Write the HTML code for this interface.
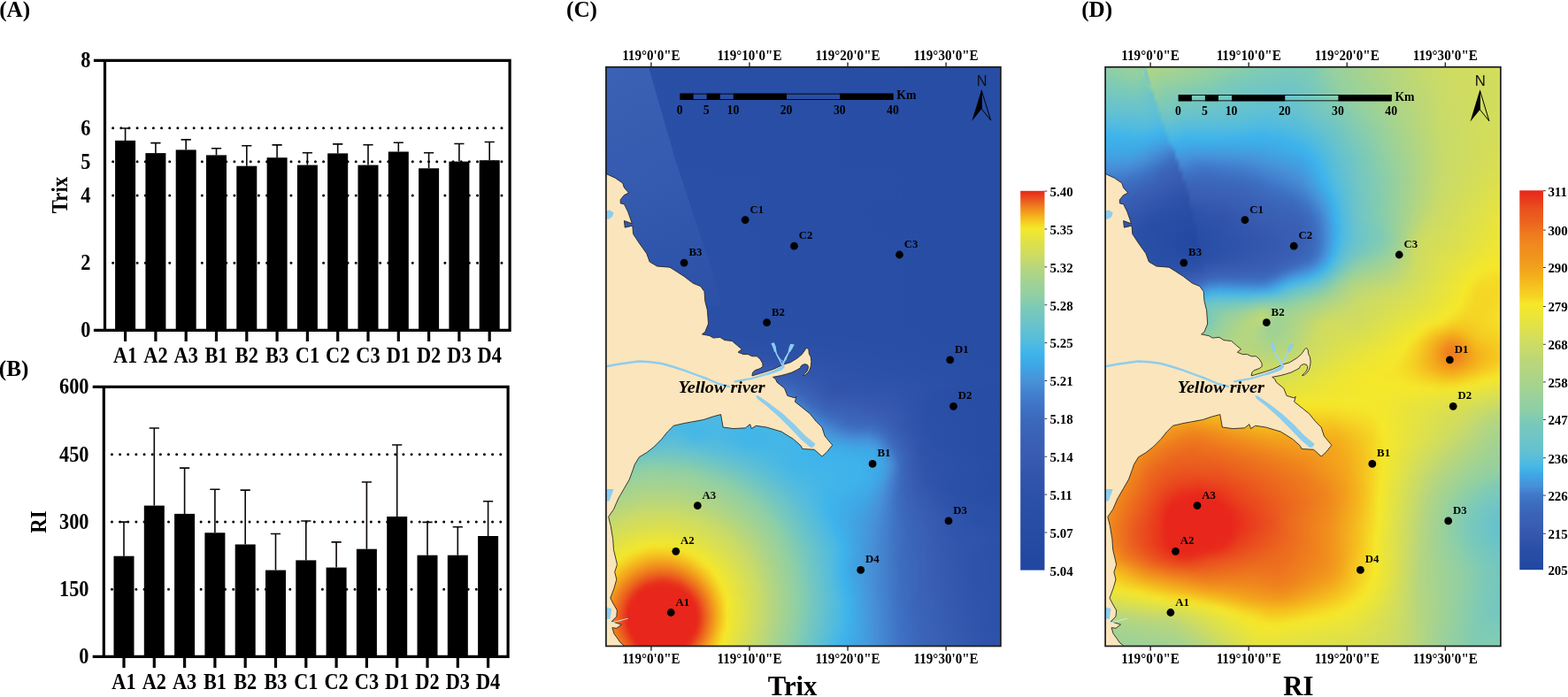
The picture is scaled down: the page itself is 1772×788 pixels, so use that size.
<!DOCTYPE html>
<html lang="en"><head><meta charset="utf-8"><title>Trix and RI</title>
<style>html,body{margin:0;padding:0;background:#fff}body{width:1772px;height:788px;overflow:hidden}svg{display:block}</style></head>
<body>
<svg width="1772" height="788" viewBox="0 0 1772 788" font-family='"Liberation Serif","DejaVu Serif",serif'>
<rect width="1772" height="788" fill="#fff"/>
<defs><linearGradient id="cbarmc" x1="0" y1="0" x2="0" y2="1"><stop offset="0.0" stop-color="#e8261b"/><stop offset="0.025" stop-color="#ea5a1f"/><stop offset="0.047" stop-color="#f08a1d"/><stop offset="0.07" stop-color="#f5b81c"/><stop offset="0.099" stop-color="#f5e82a"/><stop offset="0.14" stop-color="#dde04c"/><stop offset="0.175" stop-color="#cbdb66"/><stop offset="0.2" stop-color="#b8d67c"/><stop offset="0.245" stop-color="#9fd296"/><stop offset="0.28" stop-color="#8fcfa5"/><stop offset="0.3" stop-color="#80cbb3"/><stop offset="0.347" stop-color="#6cc4c9"/><stop offset="0.4" stop-color="#52bbdf"/><stop offset="0.43" stop-color="#3db4ec"/><stop offset="0.465" stop-color="#3fa4e4"/><stop offset="0.5" stop-color="#4892d8"/><stop offset="0.535" stop-color="#4280cf"/><stop offset="0.57" stop-color="#3e72c4"/><stop offset="0.6" stop-color="#3c69bc"/><stop offset="0.66" stop-color="#3a60b4"/><stop offset="0.7" stop-color="#385cb1"/><stop offset="0.745" stop-color="#3356ad"/><stop offset="0.8" stop-color="#2c51a8"/><stop offset="0.9" stop-color="#264ca4"/><stop offset="1.0" stop-color="#2046a0"/></linearGradient>
<linearGradient id="wg" gradientUnits="userSpaceOnUse" x1="690" y1="76" x2="770" y2="340"><stop offset="0" stop-color="#6a98dc" stop-opacity=".36"/><stop offset=".45" stop-color="#6a98dc" stop-opacity=".24"/><stop offset="1" stop-color="#6a98dc" stop-opacity=".05"/></linearGradient>
<linearGradient id="wg2" gradientUnits="userSpaceOnUse" x1="1249" y1="76" x2="1249" y2="260"><stop offset="0" stop-color="#ffffff" stop-opacity=".10"/><stop offset="1" stop-color="#ffffff" stop-opacity="0"/></linearGradient>
<linearGradient id="cbarmd" x1="0" y1="0" x2="0" y2="1"><stop offset="0" stop-color="#e8261b"/><stop offset="0.03" stop-color="#e93f1d"/><stop offset="0.05" stop-color="#ea531e"/><stop offset="0.08" stop-color="#eb611f"/><stop offset="0.1" stop-color="#ed701e"/><stop offset="0.12" stop-color="#ef7e1d"/><stop offset="0.15" stop-color="#f08c1d"/><stop offset="0.18" stop-color="#f1961d"/><stop offset="0.2" stop-color="#f2a01d"/><stop offset="0.23" stop-color="#f4b21c"/><stop offset="0.25" stop-color="#f5c11f"/><stop offset="0.28" stop-color="#f5d424"/><stop offset="0.3" stop-color="#f5e82a"/><stop offset="0.33" stop-color="#ede536"/><stop offset="0.35" stop-color="#e3e244"/><stop offset="0.38" stop-color="#d8df54"/><stop offset="0.4" stop-color="#cedc62"/><stop offset="0.43" stop-color="#c4d96e"/><stop offset="0.45" stop-color="#bad67a"/><stop offset="0.48" stop-color="#b2d582"/><stop offset="0.5" stop-color="#aad48a"/><stop offset="0.53" stop-color="#a0d295"/><stop offset="0.55" stop-color="#97d09e"/><stop offset="0.58" stop-color="#8ecfa6"/><stop offset="0.6" stop-color="#80cbb3"/><stop offset="0.62" stop-color="#77c8bc"/><stop offset="0.65" stop-color="#6fc5c6"/><stop offset="0.68" stop-color="#66c2ce"/><stop offset="0.7" stop-color="#5cbed7"/><stop offset="0.73" stop-color="#45b7e7"/><stop offset="0.75" stop-color="#3fa6e5"/><stop offset="0.78" stop-color="#478fd7"/><stop offset="0.8" stop-color="#407aca"/><stop offset="0.83" stop-color="#3c6bbe"/><stop offset="0.85" stop-color="#3b64b7"/><stop offset="0.88" stop-color="#395eb3"/><stop offset="0.9" stop-color="#3659af"/><stop offset="0.93" stop-color="#2d52a9"/><stop offset="0.95" stop-color="#284ea6"/><stop offset="0.98" stop-color="#244aa3"/><stop offset="1" stop-color="#2046a0"/></linearGradient></defs>
<text x="-0.8" y="19.2" font-size="25.2" font-weight="bold" text-anchor="start" fill="#000">(A)</text>
<text x="-1.2" y="425" font-size="25.2" font-weight="bold" text-anchor="start" fill="#000">(B)</text>
<text x="640" y="19.2" font-size="25.2" font-weight="bold" text-anchor="start" fill="#000">(C)</text>
<text x="1222.2" y="19.2" font-size="25.2" font-weight="bold" text-anchor="start" fill="#000">(D)</text>
<g stroke="#000" stroke-width="3.2" fill="none">
<line x1="127.65" y1="144.65" x2="574.1" y2="144.65" stroke-width="3" stroke-linecap="round" stroke-dasharray="0 9.152"/>
<line x1="127.65" y1="182.77" x2="574.1" y2="182.77" stroke-width="3" stroke-linecap="round" stroke-dasharray="0 9.152"/>
<line x1="127.65" y1="220.9" x2="574.1" y2="220.9" stroke-width="3" stroke-linecap="round" stroke-dasharray="0 9.152"/>
<line x1="127.65" y1="297.15" x2="574.1" y2="297.15" stroke-width="3" stroke-linecap="round" stroke-dasharray="0 9.152"/>
</g>
<g fill="#000">
<rect x="130.1" y="158.9" width="23" height="214.5"/>
<rect x="164.4" y="173.1" width="23" height="200.3"/>
<rect x="198.7" y="169.4" width="23" height="204"/>
<rect x="233" y="175.4" width="23" height="198"/>
<rect x="267.3" y="187.7" width="23" height="185.7"/>
<rect x="301.6" y="178.2" width="23" height="195.2"/>
<rect x="335.9" y="186.6" width="23" height="186.8"/>
<rect x="370.2" y="173.4" width="23" height="200"/>
<rect x="404.5" y="186.6" width="23" height="186.8"/>
<rect x="438.8" y="171.5" width="23" height="201.9"/>
<rect x="473.1" y="190.3" width="23" height="183.1"/>
<rect x="507.4" y="182.6" width="23" height="190.8"/>
<rect x="541.7" y="181.2" width="23" height="192.2"/>
</g>
<g stroke="#0d0806" stroke-width="1.6" fill="none">
<path d="M141.6 158.9V145M136 145H147.2M175.9 173.1V161.6M170.3 161.6H181.5M210.2 169.4V157.9M204.6 157.9H215.8M244.5 175.4V167.8M238.9 167.8H250.1M278.8 187.7V164.8M273.2 164.8H284.4M313.1 178.2V163.9M307.5 163.9H318.7M347.4 186.6V172.7M341.8 172.7H353M381.7 173.4V162.9M376.1 162.9H387.3M416 186.6V163.7M410.4 163.7H421.6M450.3 171.5V161.3M444.7 161.3H455.9M484.6 190.3V172.7M479 172.7H490.2M518.9 182.6V162.5M513.3 162.5H524.5M553.2 181.2V160.5M547.6 160.5H558.8"/>
</g>
<g stroke="#000" stroke-width="3.2" fill="none">
<path d="M105.9 68.4H577.7M105.9 373.4H577.7M118.5 68.4V373.4M576.1 68.4V373.4"/>
<path d="M141.6 373.4V385.9M175.9 373.4V385.9M210.2 373.4V385.9M244.5 373.4V385.9M278.8 373.4V385.9M313.1 373.4V385.9M347.4 373.4V385.9M381.7 373.4V385.9M416 373.4V385.9M450.3 373.4V385.9M484.6 373.4V385.9M518.9 373.4V385.9M553.2 373.4V385.9"/>
</g>
<g font-family='"Liberation Serif","DejaVu Serif",serif'>
<text transform="translate(102.4 76.4) scale(0.900 1)" font-size="24.8" font-weight="bold" text-anchor="end" fill="#000">8</text>
<text transform="translate(102.4 152.65) scale(0.900 1)" font-size="24.8" font-weight="bold" text-anchor="end" fill="#000">6</text>
<text transform="translate(102.4 190.77) scale(0.900 1)" font-size="24.8" font-weight="bold" text-anchor="end" fill="#000">5</text>
<text transform="translate(102.4 228.9) scale(0.900 1)" font-size="24.8" font-weight="bold" text-anchor="end" fill="#000">4</text>
<text transform="translate(102.4 305.15) scale(0.900 1)" font-size="24.8" font-weight="bold" text-anchor="end" fill="#000">2</text>
<text transform="translate(102.4 381.4) scale(0.900 1)" font-size="24.8" font-weight="bold" text-anchor="end" fill="#000">0</text>
<text transform="translate(141.6 410.2) scale(0.900 1)" font-size="24.8" font-weight="bold" text-anchor="middle" fill="#000">A1</text>
<text transform="translate(175.9 410.2) scale(0.900 1)" font-size="24.8" font-weight="bold" text-anchor="middle" fill="#000">A2</text>
<text transform="translate(210.2 410.2) scale(0.900 1)" font-size="24.8" font-weight="bold" text-anchor="middle" fill="#000">A3</text>
<text transform="translate(244.5 410.2) scale(0.900 1)" font-size="24.8" font-weight="bold" text-anchor="middle" fill="#000">B1</text>
<text transform="translate(278.8 410.2) scale(0.900 1)" font-size="24.8" font-weight="bold" text-anchor="middle" fill="#000">B2</text>
<text transform="translate(313.1 410.2) scale(0.900 1)" font-size="24.8" font-weight="bold" text-anchor="middle" fill="#000">B3</text>
<text transform="translate(347.4 410.2) scale(0.900 1)" font-size="24.8" font-weight="bold" text-anchor="middle" fill="#000">C1</text>
<text transform="translate(381.7 410.2) scale(0.900 1)" font-size="24.8" font-weight="bold" text-anchor="middle" fill="#000">C2</text>
<text transform="translate(416 410.2) scale(0.900 1)" font-size="24.8" font-weight="bold" text-anchor="middle" fill="#000">C3</text>
<text transform="translate(450.3 410.2) scale(0.900 1)" font-size="24.8" font-weight="bold" text-anchor="middle" fill="#000">D1</text>
<text transform="translate(484.6 410.2) scale(0.900 1)" font-size="24.8" font-weight="bold" text-anchor="middle" fill="#000">D2</text>
<text transform="translate(518.9 410.2) scale(0.900 1)" font-size="24.8" font-weight="bold" text-anchor="middle" fill="#000">D3</text>
<text transform="translate(553.2 410.2) scale(0.900 1)" font-size="24.8" font-weight="bold" text-anchor="middle" fill="#000">D4</text>
<text transform="translate(75.5 220.5) rotate(-90) scale(0.920 1)" font-size="24.8" font-weight="bold" text-anchor="middle">Trix</text>
</g>
<g stroke="#000" stroke-width="3.2" fill="none">
<line x1="126.45" y1="513.65" x2="572.1" y2="513.65" stroke-width="3" stroke-linecap="round" stroke-dasharray="0 9.152"/>
<line x1="126.45" y1="589.9" x2="572.1" y2="589.9" stroke-width="3" stroke-linecap="round" stroke-dasharray="0 9.152"/>
<line x1="126.45" y1="666.15" x2="572.1" y2="666.15" stroke-width="3" stroke-linecap="round" stroke-dasharray="0 9.152"/>
</g>
<g fill="#000">
<rect x="128.5" y="628.7" width="23" height="113.7"/>
<rect x="162.8" y="571.6" width="23" height="170.8"/>
<rect x="197.1" y="580.9" width="23" height="161.5"/>
<rect x="231.4" y="602.3" width="23" height="140.1"/>
<rect x="265.7" y="615.5" width="23" height="126.9"/>
<rect x="300" y="644.6" width="23" height="97.8"/>
<rect x="334.3" y="633.4" width="23" height="109"/>
<rect x="368.6" y="641.6" width="23" height="100.8"/>
<rect x="402.9" y="620.7" width="23" height="121.7"/>
<rect x="437.2" y="584" width="23" height="158.4"/>
<rect x="471.5" y="627.7" width="23" height="114.7"/>
<rect x="505.8" y="627.7" width="23" height="114.7"/>
<rect x="540.1" y="606" width="23" height="136.4"/>
</g>
<g stroke="#0d0806" stroke-width="1.6" fill="none">
<path d="M140 628.7V590.1M134.4 590.1H145.6M174.3 571.6V484M168.7 484H179.9M208.6 580.9V529.1M203 529.1H214.2M242.9 602.3V553.3M237.3 553.3H248.5M277.2 615.5V554.1M271.6 554.1H282.8M311.5 644.6V603.5M305.9 603.5H317.1M345.8 633.4V589M340.2 589H351.4M380.1 641.6V612.9M374.5 612.9H385.7M414.4 620.7V545M408.8 545H420M448.7 584V503M443.1 503H454.3M483 627.7V590.4M477.4 590.4H488.6M517.3 627.7V595.8M511.7 595.8H522.9M551.6 606V566.7M546 566.7H557.2"/>
</g>
<g stroke="#000" stroke-width="3.2" fill="none">
<path d="M104.7 437.4H575.7M104.7 742.4H575.7M117.3 437.4V742.4M574.1 437.4V742.4"/>
<path d="M140 742.4V754.9M174.3 742.4V754.9M208.6 742.4V754.9M242.9 742.4V754.9M277.2 742.4V754.9M311.5 742.4V754.9M345.8 742.4V754.9M380.1 742.4V754.9M414.4 742.4V754.9M448.7 742.4V754.9M483 742.4V754.9M517.3 742.4V754.9M551.6 742.4V754.9"/>
</g>
<g font-family='"Liberation Serif","DejaVu Serif",serif'>
<text transform="translate(100.5 445.4) scale(0.900 1)" font-size="24.8" font-weight="bold" text-anchor="end" fill="#000">600</text>
<text transform="translate(100.5 521.65) scale(0.900 1)" font-size="24.8" font-weight="bold" text-anchor="end" fill="#000">450</text>
<text transform="translate(100.5 597.9) scale(0.900 1)" font-size="24.8" font-weight="bold" text-anchor="end" fill="#000">300</text>
<text transform="translate(100.5 674.15) scale(0.900 1)" font-size="24.8" font-weight="bold" text-anchor="end" fill="#000">150</text>
<text transform="translate(100.5 750.4) scale(0.900 1)" font-size="24.8" font-weight="bold" text-anchor="end" fill="#000">0</text>
<text transform="translate(140 779) scale(0.900 1)" font-size="24.8" font-weight="bold" text-anchor="middle" fill="#000">A1</text>
<text transform="translate(174.3 779) scale(0.900 1)" font-size="24.8" font-weight="bold" text-anchor="middle" fill="#000">A2</text>
<text transform="translate(208.6 779) scale(0.900 1)" font-size="24.8" font-weight="bold" text-anchor="middle" fill="#000">A3</text>
<text transform="translate(242.9 779) scale(0.900 1)" font-size="24.8" font-weight="bold" text-anchor="middle" fill="#000">B1</text>
<text transform="translate(277.2 779) scale(0.900 1)" font-size="24.8" font-weight="bold" text-anchor="middle" fill="#000">B2</text>
<text transform="translate(311.5 779) scale(0.900 1)" font-size="24.8" font-weight="bold" text-anchor="middle" fill="#000">B3</text>
<text transform="translate(345.8 779) scale(0.900 1)" font-size="24.8" font-weight="bold" text-anchor="middle" fill="#000">C1</text>
<text transform="translate(380.1 779) scale(0.900 1)" font-size="24.8" font-weight="bold" text-anchor="middle" fill="#000">C2</text>
<text transform="translate(414.4 779) scale(0.900 1)" font-size="24.8" font-weight="bold" text-anchor="middle" fill="#000">C3</text>
<text transform="translate(448.7 779) scale(0.900 1)" font-size="24.8" font-weight="bold" text-anchor="middle" fill="#000">D1</text>
<text transform="translate(483 779) scale(0.900 1)" font-size="24.8" font-weight="bold" text-anchor="middle" fill="#000">D2</text>
<text transform="translate(517.3 779) scale(0.900 1)" font-size="24.8" font-weight="bold" text-anchor="middle" fill="#000">D3</text>
<text transform="translate(551.6 779) scale(0.900 1)" font-size="24.8" font-weight="bold" text-anchor="middle" fill="#000">D4</text>
<text transform="translate(52 590) rotate(-90) scale(0.920 1)" font-size="24.8" font-weight="bold" text-anchor="middle">RI</text>
</g>
<defs>
<clipPath id="clipmc"><rect x="684.9" y="75.8" width="446" height="654.7"/></clipPath>
<filter id="blmc" x="-5%" y="-5%" width="110%" height="110%" color-interpolation-filters="sRGB"><feGaussianBlur stdDeviation="0 3"/></filter>
<linearGradient id="mc0"><stop offset="0" stop-color="#2a4fa6"/><stop offset="1" stop-color="#274da5"/></linearGradient>
<linearGradient id="mc1"><stop offset="0" stop-color="#2a4fa6"/><stop offset="1" stop-color="#274da5"/></linearGradient>
<linearGradient id="mc2"><stop offset="0" stop-color="#2a4fa6"/><stop offset="1" stop-color="#274da5"/></linearGradient>
<linearGradient id="mc3"><stop offset="0" stop-color="#2a4fa6"/><stop offset="1" stop-color="#274da5"/></linearGradient>
<linearGradient id="mc4"><stop offset="0" stop-color="#2a4fa6"/><stop offset="1" stop-color="#274da5"/></linearGradient>
<linearGradient id="mc5"><stop offset="0" stop-color="#2a4fa6"/><stop offset="1" stop-color="#274da5"/></linearGradient>
<linearGradient id="mc6"><stop offset="0" stop-color="#2a4fa6"/><stop offset="1" stop-color="#274da5"/></linearGradient>
<linearGradient id="mc7"><stop offset="0" stop-color="#2a4fa6"/><stop offset="1" stop-color="#274da5"/></linearGradient>
<linearGradient id="mc8"><stop offset="0" stop-color="#2a4fa6"/><stop offset="1" stop-color="#274da5"/></linearGradient>
<linearGradient id="mc9"><stop offset="0" stop-color="#2a4fa6"/><stop offset="1" stop-color="#274da5"/></linearGradient>
<linearGradient id="mc10"><stop offset="0" stop-color="#2a4fa6"/><stop offset="1" stop-color="#274da5"/></linearGradient>
<linearGradient id="mc11"><stop offset="0" stop-color="#2a4fa6"/><stop offset="1" stop-color="#274da5"/></linearGradient>
<linearGradient id="mc12"><stop offset="0" stop-color="#2a4fa6"/><stop offset="1" stop-color="#274da5"/></linearGradient>
<linearGradient id="mc13"><stop offset="0" stop-color="#2a4fa6"/><stop offset="1" stop-color="#274da5"/></linearGradient>
<linearGradient id="mc14"><stop offset="0" stop-color="#2a4fa6"/><stop offset="1" stop-color="#274da5"/></linearGradient>
<linearGradient id="mc15"><stop offset="0" stop-color="#2a4fa6"/><stop offset="1" stop-color="#274da5"/></linearGradient>
<linearGradient id="mc16"><stop offset="0" stop-color="#2a4fa6"/><stop offset="1" stop-color="#274da5"/></linearGradient>
<linearGradient id="mc17"><stop offset="0" stop-color="#2a4fa7"/><stop offset="1" stop-color="#274da5"/></linearGradient>
<linearGradient id="mc18"><stop offset="0" stop-color="#2a4fa7"/><stop offset="1" stop-color="#274da5"/></linearGradient>
<linearGradient id="mc19"><stop offset="0" stop-color="#2a4fa7"/><stop offset="1" stop-color="#274da5"/></linearGradient>
<linearGradient id="mc20"><stop offset="0" stop-color="#2a4fa7"/><stop offset="1" stop-color="#274da5"/></linearGradient>
<linearGradient id="mc21"><stop offset="0" stop-color="#2a4fa7"/><stop offset="1" stop-color="#274da5"/></linearGradient>
<linearGradient id="mc22"><stop offset="0" stop-color="#2a4fa7"/><stop offset="1" stop-color="#274da5"/></linearGradient>
<linearGradient id="mc23"><stop offset="0" stop-color="#2a50a7"/><stop offset="1" stop-color="#274da5"/></linearGradient>
<linearGradient id="mc24"><stop offset="0" stop-color="#2a50a7"/><stop offset="1" stop-color="#274da5"/></linearGradient>
<linearGradient id="mc25"><stop offset="0" stop-color="#2a50a7"/><stop offset="0.992" stop-color="#274da5"/><stop offset="1" stop-color="#274da5"/></linearGradient>
<linearGradient id="mc26"><stop offset="0" stop-color="#2b50a7"/><stop offset="0.95" stop-color="#274da5"/><stop offset="1" stop-color="#274da5"/></linearGradient>
<linearGradient id="mc27"><stop offset="0" stop-color="#2b50a7"/><stop offset="0.924" stop-color="#274da5"/><stop offset="1" stop-color="#274da5"/></linearGradient>
<linearGradient id="mc28"><stop offset="0" stop-color="#2b50a7"/><stop offset="0.908" stop-color="#274da5"/><stop offset="1" stop-color="#274da5"/></linearGradient>
<linearGradient id="mc29"><stop offset="0" stop-color="#2b50a7"/><stop offset="0.899" stop-color="#274da4"/><stop offset="1" stop-color="#274da5"/></linearGradient>
<linearGradient id="mc30"><stop offset="0" stop-color="#2b50a7"/><stop offset="0.899" stop-color="#274da4"/><stop offset="1" stop-color="#274da5"/></linearGradient>
<linearGradient id="mc31"><stop offset="0" stop-color="#2b50a7"/><stop offset="0.899" stop-color="#274da4"/><stop offset="1" stop-color="#274da5"/></linearGradient>
<linearGradient id="mc32"><stop offset="0" stop-color="#2b50a7"/><stop offset="0.908" stop-color="#274da5"/><stop offset="1" stop-color="#274da5"/></linearGradient>
<linearGradient id="mc33"><stop offset="0" stop-color="#2b50a7"/><stop offset="0.916" stop-color="#274da5"/><stop offset="1" stop-color="#274da5"/></linearGradient>
<linearGradient id="mc34"><stop offset="0" stop-color="#2b50a7"/><stop offset="0.941" stop-color="#274da5"/><stop offset="1" stop-color="#274da5"/></linearGradient>
<linearGradient id="mc35"><stop offset="0" stop-color="#2b50a7"/><stop offset="0.975" stop-color="#274da5"/><stop offset="1" stop-color="#274da5"/></linearGradient>
<linearGradient id="mc36"><stop offset="0" stop-color="#2b50a7"/><stop offset="1" stop-color="#274da5"/></linearGradient>
<linearGradient id="mc37"><stop offset="0" stop-color="#2b50a7"/><stop offset="1" stop-color="#274da5"/></linearGradient>
<linearGradient id="mc38"><stop offset="0" stop-color="#2b50a7"/><stop offset="1" stop-color="#274da5"/></linearGradient>
<linearGradient id="mc39"><stop offset="0" stop-color="#2b50a7"/><stop offset="1" stop-color="#274da5"/></linearGradient>
<linearGradient id="mc40"><stop offset="0" stop-color="#2b50a7"/><stop offset="1" stop-color="#274da5"/></linearGradient>
<linearGradient id="mc41"><stop offset="0" stop-color="#2b50a7"/><stop offset="1" stop-color="#274da5"/></linearGradient>
<linearGradient id="mc42"><stop offset="0" stop-color="#2b50a7"/><stop offset="1" stop-color="#274da5"/></linearGradient>
<linearGradient id="mc43"><stop offset="0" stop-color="#2b50a7"/><stop offset="1" stop-color="#274da5"/></linearGradient>
<linearGradient id="mc44"><stop offset="0" stop-color="#2b50a7"/><stop offset="1" stop-color="#274da5"/></linearGradient>
<linearGradient id="mc45"><stop offset="0" stop-color="#2b50a7"/><stop offset="1" stop-color="#274da5"/></linearGradient>
<linearGradient id="mc46"><stop offset="0" stop-color="#2b50a7"/><stop offset="1" stop-color="#274da5"/></linearGradient>
<linearGradient id="mc47"><stop offset="0" stop-color="#2b50a7"/><stop offset="1" stop-color="#274da5"/></linearGradient>
<linearGradient id="mc48"><stop offset="0" stop-color="#2b50a7"/><stop offset="1" stop-color="#274da5"/></linearGradient>
<linearGradient id="mc49"><stop offset="0" stop-color="#2b50a7"/><stop offset="1" stop-color="#274da5"/></linearGradient>
<linearGradient id="mc50"><stop offset="0" stop-color="#2b50a7"/><stop offset="1" stop-color="#274da5"/></linearGradient>
<linearGradient id="mc51"><stop offset="0" stop-color="#2b50a7"/><stop offset="1" stop-color="#274da5"/></linearGradient>
<linearGradient id="mc52"><stop offset="0" stop-color="#2b50a7"/><stop offset="1" stop-color="#274da5"/></linearGradient>
<linearGradient id="mc53"><stop offset="0" stop-color="#2b51a8"/><stop offset="1" stop-color="#274da5"/></linearGradient>
<linearGradient id="mc54"><stop offset="0" stop-color="#2c51a8"/><stop offset="1" stop-color="#274da5"/></linearGradient>
<linearGradient id="mc55"><stop offset="0" stop-color="#2d52a9"/><stop offset="0.109" stop-color="#2d51a8"/><stop offset="0.218" stop-color="#2e52a9"/><stop offset="1" stop-color="#274da5"/></linearGradient>
<linearGradient id="mc56"><stop offset="0" stop-color="#3054ab"/><stop offset="0.084" stop-color="#2d52a9"/><stop offset="0.193" stop-color="#3155ac"/><stop offset="0.294" stop-color="#2d52a9"/><stop offset="0.395" stop-color="#2d51a8"/><stop offset="1" stop-color="#274da5"/></linearGradient>
<linearGradient id="mc57"><stop offset="0" stop-color="#3356ad"/><stop offset="0.092" stop-color="#3255ac"/><stop offset="0.21" stop-color="#3457ae"/><stop offset="0.294" stop-color="#3054ab"/><stop offset="0.395" stop-color="#3054ab"/><stop offset="0.487" stop-color="#2d51a8"/><stop offset="1" stop-color="#274da5"/></linearGradient>
<linearGradient id="mc58"><stop offset="0" stop-color="#375bb0"/><stop offset="0.109" stop-color="#375bb0"/><stop offset="0.235" stop-color="#365ab0"/><stop offset="0.403" stop-color="#3356ad"/><stop offset="0.639" stop-color="#2c51a8"/><stop offset="1" stop-color="#274da5"/></linearGradient>
<linearGradient id="mc59"><stop offset="0" stop-color="#3a5fb3"/><stop offset="0.395" stop-color="#385cb1"/><stop offset="0.588" stop-color="#2c51a8"/><stop offset="1" stop-color="#274da5"/></linearGradient>
<linearGradient id="mc60"><stop offset="0" stop-color="#3b65b8"/><stop offset="0.387" stop-color="#3a61b5"/><stop offset="0.521" stop-color="#3155ac"/><stop offset="0.63" stop-color="#2d52a9"/><stop offset="1" stop-color="#274da5"/></linearGradient>
<linearGradient id="mc61"><stop offset="0" stop-color="#3d6dbf"/><stop offset="0.076" stop-color="#3e71c3"/><stop offset="0.176" stop-color="#3c6abd"/><stop offset="0.319" stop-color="#3c6bbe"/><stop offset="0.462" stop-color="#395fb3"/><stop offset="0.571" stop-color="#2f53aa"/><stop offset="0.731" stop-color="#2c51a8"/><stop offset="1" stop-color="#274da5"/></linearGradient>
<linearGradient id="mc62"><stop offset="0" stop-color="#407aca"/><stop offset="0.034" stop-color="#417ccc"/><stop offset="0.067" stop-color="#4384d1"/><stop offset="0.143" stop-color="#3f75c7"/><stop offset="0.218" stop-color="#4078c9"/><stop offset="0.286" stop-color="#417dcd"/><stop offset="0.42" stop-color="#3c6bbe"/><stop offset="0.521" stop-color="#3659af"/><stop offset="0.58" stop-color="#3054ab"/><stop offset="0.714" stop-color="#2e53aa"/><stop offset="0.958" stop-color="#274da5"/><stop offset="1" stop-color="#274da5"/></linearGradient>
<linearGradient id="mc63"><stop offset="0" stop-color="#4487d3"/><stop offset="0.025" stop-color="#4487d3"/><stop offset="0.059" stop-color="#4696da"/><stop offset="0.084" stop-color="#4892d8"/><stop offset="0.134" stop-color="#4383d0"/><stop offset="0.185" stop-color="#4382d0"/><stop offset="0.269" stop-color="#4794d9"/><stop offset="0.319" stop-color="#468cd5"/><stop offset="0.412" stop-color="#417ccc"/><stop offset="0.496" stop-color="#3a62b5"/><stop offset="0.563" stop-color="#3255ac"/><stop offset="0.706" stop-color="#3054ab"/><stop offset="0.874" stop-color="#284da5"/><stop offset="1" stop-color="#274da4"/></linearGradient>
<linearGradient id="mc64"><stop offset="0" stop-color="#4893d8"/><stop offset="0.025" stop-color="#4893d8"/><stop offset="0.059" stop-color="#41a0e1"/><stop offset="0.084" stop-color="#429ee0"/><stop offset="0.134" stop-color="#4790d7"/><stop offset="0.185" stop-color="#4790d7"/><stop offset="0.269" stop-color="#3fa8e6"/><stop offset="0.303" stop-color="#40a2e3"/><stop offset="0.361" stop-color="#4697db"/><stop offset="0.412" stop-color="#478fd6"/><stop offset="0.462" stop-color="#4077c8"/><stop offset="0.496" stop-color="#3c67ba"/><stop offset="0.555" stop-color="#3558af"/><stop offset="0.697" stop-color="#3356ad"/><stop offset="0.815" stop-color="#294fa6"/><stop offset="1" stop-color="#274ca4"/></linearGradient>
<linearGradient id="mc65"><stop offset="0" stop-color="#449bde"/><stop offset="0.025" stop-color="#449bde"/><stop offset="0.059" stop-color="#3fa6e5"/><stop offset="0.092" stop-color="#3fa3e4"/><stop offset="0.143" stop-color="#449add"/><stop offset="0.193" stop-color="#429ee0"/><stop offset="0.261" stop-color="#3db4ec"/><stop offset="0.277" stop-color="#40b5ea"/><stop offset="0.303" stop-color="#3eafea"/><stop offset="0.353" stop-color="#3fa5e5"/><stop offset="0.403" stop-color="#40a2e3"/><stop offset="0.445" stop-color="#4892d8"/><stop offset="0.479" stop-color="#417ccc"/><stop offset="0.513" stop-color="#3b67ba"/><stop offset="0.555" stop-color="#385cb1"/><stop offset="0.697" stop-color="#3457ae"/><stop offset="0.807" stop-color="#2a4fa6"/><stop offset="1" stop-color="#264ca4"/></linearGradient>
<linearGradient id="mc66"><stop offset="0" stop-color="#41a0e2"/><stop offset="0.034" stop-color="#40a3e3"/><stop offset="0.067" stop-color="#3eaae7"/><stop offset="0.151" stop-color="#40a2e3"/><stop offset="0.218" stop-color="#3eaee9"/><stop offset="0.235" stop-color="#3db4ec"/><stop offset="0.269" stop-color="#4cb9e3"/><stop offset="0.294" stop-color="#46b7e6"/><stop offset="0.319" stop-color="#3db3eb"/><stop offset="0.37" stop-color="#3eaee9"/><stop offset="0.403" stop-color="#3eafe9"/><stop offset="0.454" stop-color="#429ee0"/><stop offset="0.479" stop-color="#478ed6"/><stop offset="0.521" stop-color="#3c6abd"/><stop offset="0.563" stop-color="#3a5fb4"/><stop offset="0.697" stop-color="#3659af"/><stop offset="0.798" stop-color="#2a4fa7"/><stop offset="1" stop-color="#264ca4"/></linearGradient>
<linearGradient id="mc67"><stop offset="0" stop-color="#3fa4e4"/><stop offset="0.034" stop-color="#3fa6e5"/><stop offset="0.076" stop-color="#3eace8"/><stop offset="0.151" stop-color="#3ea9e6"/><stop offset="0.218" stop-color="#3eb4ec"/><stop offset="0.269" stop-color="#4fbae1"/><stop offset="0.303" stop-color="#48b8e5"/><stop offset="0.345" stop-color="#3eb4ec"/><stop offset="0.403" stop-color="#3fb5eb"/><stop offset="0.462" stop-color="#3fa8e6"/><stop offset="0.487" stop-color="#4599dd"/><stop offset="0.496" stop-color="#4790d7"/><stop offset="0.521" stop-color="#3f76c7"/><stop offset="0.546" stop-color="#3c68bb"/><stop offset="0.63" stop-color="#3a5fb4"/><stop offset="0.706" stop-color="#365ab0"/><stop offset="0.79" stop-color="#2b50a7"/><stop offset="1" stop-color="#264ca4"/></linearGradient>
<linearGradient id="mc68"><stop offset="0" stop-color="#3fa7e5"/><stop offset="0.034" stop-color="#3ea8e6"/><stop offset="0.076" stop-color="#3eaee9"/><stop offset="0.143" stop-color="#3eace8"/><stop offset="0.193" stop-color="#3eb4eb"/><stop offset="0.269" stop-color="#4fbae1"/><stop offset="0.353" stop-color="#42b6e9"/><stop offset="0.42" stop-color="#42b6e9"/><stop offset="0.454" stop-color="#3db3eb"/><stop offset="0.479" stop-color="#3eabe8"/><stop offset="0.496" stop-color="#429fe1"/><stop offset="0.513" stop-color="#468dd6"/><stop offset="0.538" stop-color="#3f77c8"/><stop offset="0.571" stop-color="#3c69bc"/><stop offset="0.639" stop-color="#3b63b7"/><stop offset="0.706" stop-color="#385cb1"/><stop offset="0.782" stop-color="#2b50a7"/><stop offset="0.983" stop-color="#264ca4"/><stop offset="1" stop-color="#264ca4"/></linearGradient>
<linearGradient id="mc69"><stop offset="0" stop-color="#3ea9e6"/><stop offset="0.042" stop-color="#3eace8"/><stop offset="0.092" stop-color="#3eafea"/><stop offset="0.143" stop-color="#3db0ea"/><stop offset="0.168" stop-color="#3fb5eb"/><stop offset="0.202" stop-color="#46b7e6"/><stop offset="0.252" stop-color="#4ab8e4"/><stop offset="0.294" stop-color="#4bb9e3"/><stop offset="0.361" stop-color="#43b6e8"/><stop offset="0.437" stop-color="#44b6e7"/><stop offset="0.479" stop-color="#3db1eb"/><stop offset="0.504" stop-color="#40a2e2"/><stop offset="0.521" stop-color="#4893d9"/><stop offset="0.555" stop-color="#417bcb"/><stop offset="0.605" stop-color="#3c68bb"/><stop offset="0.672" stop-color="#3b65b9"/><stop offset="0.731" stop-color="#3558ae"/><stop offset="0.79" stop-color="#2b50a7"/><stop offset="0.992" stop-color="#264ca4"/><stop offset="1" stop-color="#264ca4"/></linearGradient>
<linearGradient id="mc70"><stop offset="0" stop-color="#3eabe7"/><stop offset="0.042" stop-color="#3eaee9"/><stop offset="0.092" stop-color="#3db2eb"/><stop offset="0.143" stop-color="#3db4ec"/><stop offset="0.193" stop-color="#4cb9e3"/><stop offset="0.244" stop-color="#45b7e7"/><stop offset="0.294" stop-color="#4ab8e4"/><stop offset="0.37" stop-color="#42b6e9"/><stop offset="0.445" stop-color="#46b7e7"/><stop offset="0.487" stop-color="#3db2eb"/><stop offset="0.521" stop-color="#429ee0"/><stop offset="0.538" stop-color="#4893d9"/><stop offset="0.597" stop-color="#3f74c6"/><stop offset="0.622" stop-color="#3d6fc1"/><stop offset="0.664" stop-color="#3d6dc0"/><stop offset="0.739" stop-color="#3457ae"/><stop offset="0.798" stop-color="#2b50a7"/><stop offset="0.992" stop-color="#264ca4"/><stop offset="1" stop-color="#264ca4"/></linearGradient>
<linearGradient id="mc71"><stop offset="0" stop-color="#3eaee9"/><stop offset="0.042" stop-color="#3db1eb"/><stop offset="0.101" stop-color="#3fb5eb"/><stop offset="0.134" stop-color="#40b5ea"/><stop offset="0.185" stop-color="#51bbe0"/><stop offset="0.21" stop-color="#4ebae2"/><stop offset="0.244" stop-color="#43b6e8"/><stop offset="0.294" stop-color="#4bb9e4"/><stop offset="0.37" stop-color="#41b5e9"/><stop offset="0.445" stop-color="#46b7e6"/><stop offset="0.496" stop-color="#3db2eb"/><stop offset="0.538" stop-color="#429ee0"/><stop offset="0.563" stop-color="#4892d8"/><stop offset="0.613" stop-color="#417ecd"/><stop offset="0.655" stop-color="#417ccc"/><stop offset="0.681" stop-color="#3e70c2"/><stop offset="0.714" stop-color="#3a60b4"/><stop offset="0.782" stop-color="#2c51a8"/><stop offset="0.975" stop-color="#264ca4"/><stop offset="1" stop-color="#264ca4"/></linearGradient>
<linearGradient id="mc72"><stop offset="0" stop-color="#3db2eb"/><stop offset="0.042" stop-color="#3fb5eb"/><stop offset="0.084" stop-color="#49b8e5"/><stop offset="0.134" stop-color="#4ab8e4"/><stop offset="0.176" stop-color="#57bddb"/><stop offset="0.21" stop-color="#54bcdd"/><stop offset="0.244" stop-color="#49b8e5"/><stop offset="0.294" stop-color="#4db9e2"/><stop offset="0.37" stop-color="#41b5e9"/><stop offset="0.454" stop-color="#45b7e7"/><stop offset="0.504" stop-color="#3db2eb"/><stop offset="0.563" stop-color="#429ee0"/><stop offset="0.605" stop-color="#4891d7"/><stop offset="0.655" stop-color="#468dd5"/><stop offset="0.672" stop-color="#4384d1"/><stop offset="0.706" stop-color="#3c68bb"/><stop offset="0.756" stop-color="#3356ad"/><stop offset="0.807" stop-color="#2b50a7"/><stop offset="1" stop-color="#264ca4"/></linearGradient>
<linearGradient id="mc73"><stop offset="0" stop-color="#42b6e9"/><stop offset="0.025" stop-color="#42b6e9"/><stop offset="0.076" stop-color="#53bbde"/><stop offset="0.143" stop-color="#59bdd9"/><stop offset="0.185" stop-color="#5fbfd4"/><stop offset="0.261" stop-color="#53bbde"/><stop offset="0.311" stop-color="#50bae0"/><stop offset="0.361" stop-color="#43b6e8"/><stop offset="0.462" stop-color="#44b6e8"/><stop offset="0.521" stop-color="#3db1eb"/><stop offset="0.622" stop-color="#429de0"/><stop offset="0.655" stop-color="#439cdf"/><stop offset="0.672" stop-color="#4794d9"/><stop offset="0.697" stop-color="#4078c9"/><stop offset="0.714" stop-color="#3c68bb"/><stop offset="0.756" stop-color="#3558ae"/><stop offset="0.807" stop-color="#2b50a7"/><stop offset="1" stop-color="#264ca4"/></linearGradient>
<linearGradient id="mc74"><stop offset="0" stop-color="#4ebae2"/><stop offset="0.025" stop-color="#4ebae2"/><stop offset="0.076" stop-color="#5cbfd6"/><stop offset="0.185" stop-color="#68c3cc"/><stop offset="0.328" stop-color="#53bbde"/><stop offset="0.37" stop-color="#48b8e5"/><stop offset="0.513" stop-color="#3fb5eb"/><stop offset="0.622" stop-color="#3ea8e6"/><stop offset="0.664" stop-color="#3fa6e5"/><stop offset="0.681" stop-color="#4499dd"/><stop offset="0.689" stop-color="#478fd7"/><stop offset="0.714" stop-color="#3d6fc1"/><stop offset="0.731" stop-color="#3b63b7"/><stop offset="0.773" stop-color="#3154ab"/><stop offset="0.824" stop-color="#2b50a7"/><stop offset="1" stop-color="#264ca4"/></linearGradient>
<linearGradient id="mc75"><stop offset="0" stop-color="#5abed8"/><stop offset="0.034" stop-color="#5cbed7"/><stop offset="0.101" stop-color="#6cc4c9"/><stop offset="0.176" stop-color="#72c6c3"/><stop offset="0.252" stop-color="#68c3cc"/><stop offset="0.361" stop-color="#51bbdf"/><stop offset="0.487" stop-color="#42b6e9"/><stop offset="0.563" stop-color="#3db2eb"/><stop offset="0.664" stop-color="#3eabe7"/><stop offset="0.681" stop-color="#40a2e3"/><stop offset="0.697" stop-color="#4790d7"/><stop offset="0.723" stop-color="#3d6dbf"/><stop offset="0.748" stop-color="#395eb2"/><stop offset="0.782" stop-color="#2f53aa"/><stop offset="0.95" stop-color="#264ca4"/><stop offset="1" stop-color="#264ca4"/></linearGradient>
<linearGradient id="mc76"><stop offset="0" stop-color="#66c2ce"/><stop offset="0.034" stop-color="#68c3cc"/><stop offset="0.126" stop-color="#7ac9b9"/><stop offset="0.21" stop-color="#79c9ba"/><stop offset="0.328" stop-color="#62c1d2"/><stop offset="0.445" stop-color="#46b7e6"/><stop offset="0.496" stop-color="#41b5e9"/><stop offset="0.63" stop-color="#3db1eb"/><stop offset="0.681" stop-color="#3fa7e6"/><stop offset="0.689" stop-color="#40a2e3"/><stop offset="0.706" stop-color="#468dd5"/><stop offset="0.723" stop-color="#3e72c4"/><stop offset="0.731" stop-color="#3c68bb"/><stop offset="0.765" stop-color="#3457ad"/><stop offset="0.815" stop-color="#2c51a8"/><stop offset="1" stop-color="#264ca4"/></linearGradient>
<linearGradient id="mc77"><stop offset="0" stop-color="#71c6c3"/><stop offset="0.034" stop-color="#73c7c1"/><stop offset="0.143" stop-color="#89cdab"/><stop offset="0.227" stop-color="#82cbb1"/><stop offset="0.353" stop-color="#63c1d0"/><stop offset="0.471" stop-color="#43b6e9"/><stop offset="0.63" stop-color="#3db3eb"/><stop offset="0.689" stop-color="#3fa5e4"/><stop offset="0.697" stop-color="#439ddf"/><stop offset="0.706" stop-color="#4891d7"/><stop offset="0.731" stop-color="#3c6abc"/><stop offset="0.756" stop-color="#375bb0"/><stop offset="0.79" stop-color="#2e53aa"/><stop offset="1" stop-color="#264ca4"/></linearGradient>
<linearGradient id="mc78"><stop offset="0" stop-color="#7bc9b8"/><stop offset="0.034" stop-color="#7dcab6"/><stop offset="0.126" stop-color="#92d0a2"/><stop offset="0.227" stop-color="#8fcfa5"/><stop offset="0.294" stop-color="#7bc9b8"/><stop offset="0.429" stop-color="#54bcdd"/><stop offset="0.471" stop-color="#45b7e7"/><stop offset="0.63" stop-color="#3db3ec"/><stop offset="0.681" stop-color="#3fa7e6"/><stop offset="0.697" stop-color="#449ade"/><stop offset="0.706" stop-color="#478fd6"/><stop offset="0.731" stop-color="#3c69bc"/><stop offset="0.756" stop-color="#385cb1"/><stop offset="0.79" stop-color="#2f53aa"/><stop offset="0.992" stop-color="#264ca4"/><stop offset="1" stop-color="#264ca4"/></linearGradient>
<linearGradient id="mc79"><stop offset="0" stop-color="#87cdad"/><stop offset="0.025" stop-color="#87cdad"/><stop offset="0.059" stop-color="#91cfa3"/><stop offset="0.151" stop-color="#9ad19a"/><stop offset="0.244" stop-color="#94d0a1"/><stop offset="0.336" stop-color="#79c8bb"/><stop offset="0.462" stop-color="#4db9e2"/><stop offset="0.521" stop-color="#44b6e8"/><stop offset="0.639" stop-color="#3db2eb"/><stop offset="0.681" stop-color="#3fa5e5"/><stop offset="0.697" stop-color="#4696db"/><stop offset="0.714" stop-color="#417ecd"/><stop offset="0.731" stop-color="#3c69bc"/><stop offset="0.765" stop-color="#3659af"/><stop offset="0.824" stop-color="#2c51a8"/><stop offset="1" stop-color="#264ca4"/></linearGradient>
<linearGradient id="mc80"><stop offset="0" stop-color="#91cfa3"/><stop offset="0.034" stop-color="#93d0a1"/><stop offset="0.134" stop-color="#a0d295"/><stop offset="0.227" stop-color="#9dd298"/><stop offset="0.311" stop-color="#8ccea8"/><stop offset="0.361" stop-color="#77c8bc"/><stop offset="0.471" stop-color="#50bae0"/><stop offset="0.538" stop-color="#43b6e8"/><stop offset="0.639" stop-color="#3db1ea"/><stop offset="0.672" stop-color="#3fa7e5"/><stop offset="0.689" stop-color="#449bde"/><stop offset="0.697" stop-color="#4891d8"/><stop offset="0.723" stop-color="#3e70c2"/><stop offset="0.739" stop-color="#3b63b7"/><stop offset="0.79" stop-color="#3154ab"/><stop offset="0.874" stop-color="#294fa6"/><stop offset="1" stop-color="#264ca4"/></linearGradient>
<linearGradient id="mc81"><stop offset="0" stop-color="#98d19d"/><stop offset="0.034" stop-color="#99d19b"/><stop offset="0.134" stop-color="#a7d38e"/><stop offset="0.218" stop-color="#a4d391"/><stop offset="0.328" stop-color="#8fcfa5"/><stop offset="0.37" stop-color="#7bc9b8"/><stop offset="0.471" stop-color="#55bcdc"/><stop offset="0.546" stop-color="#42b6e9"/><stop offset="0.622" stop-color="#3db2eb"/><stop offset="0.664" stop-color="#3fa8e6"/><stop offset="0.689" stop-color="#4696db"/><stop offset="0.706" stop-color="#4382d0"/><stop offset="0.731" stop-color="#3c68bb"/><stop offset="0.765" stop-color="#375bb0"/><stop offset="0.824" stop-color="#2c51a8"/><stop offset="1" stop-color="#264ca4"/></linearGradient>
<linearGradient id="mc82"><stop offset="0" stop-color="#9ed297"/><stop offset="0.034" stop-color="#9fd296"/><stop offset="0.118" stop-color="#acd488"/><stop offset="0.202" stop-color="#acd488"/><stop offset="0.303" stop-color="#9bd199"/><stop offset="0.353" stop-color="#8ccea8"/><stop offset="0.395" stop-color="#79c8bb"/><stop offset="0.479" stop-color="#57bddb"/><stop offset="0.555" stop-color="#41b5ea"/><stop offset="0.605" stop-color="#3db2eb"/><stop offset="0.655" stop-color="#3fa8e6"/><stop offset="0.681" stop-color="#4499dd"/><stop offset="0.689" stop-color="#4892d8"/><stop offset="0.714" stop-color="#3f76c7"/><stop offset="0.731" stop-color="#3c68bb"/><stop offset="0.773" stop-color="#365ab0"/><stop offset="0.849" stop-color="#2b50a7"/><stop offset="1" stop-color="#274ca4"/></linearGradient>
<linearGradient id="mc83"><stop offset="0" stop-color="#a4d391"/><stop offset="0.034" stop-color="#a5d38f"/><stop offset="0.118" stop-color="#b2d582"/><stop offset="0.202" stop-color="#b2d582"/><stop offset="0.286" stop-color="#a5d38f"/><stop offset="0.37" stop-color="#8dcea7"/><stop offset="0.412" stop-color="#78c8bb"/><stop offset="0.487" stop-color="#58bdda"/><stop offset="0.563" stop-color="#3eb4eb"/><stop offset="0.647" stop-color="#3fa7e6"/><stop offset="0.672" stop-color="#439cde"/><stop offset="0.689" stop-color="#478ed6"/><stop offset="0.723" stop-color="#3d6ec1"/><stop offset="0.748" stop-color="#3a62b6"/><stop offset="0.815" stop-color="#3054ab"/><stop offset="0.924" stop-color="#284ea6"/><stop offset="1" stop-color="#274da5"/></linearGradient>
<linearGradient id="mc84"><stop offset="0" stop-color="#aad48b"/><stop offset="0.034" stop-color="#abd489"/><stop offset="0.134" stop-color="#bad67a"/><stop offset="0.202" stop-color="#b9d67b"/><stop offset="0.294" stop-color="#aad48b"/><stop offset="0.387" stop-color="#8dcea7"/><stop offset="0.429" stop-color="#76c8be"/><stop offset="0.513" stop-color="#52bbdf"/><stop offset="0.563" stop-color="#3db4ec"/><stop offset="0.647" stop-color="#3fa4e4"/><stop offset="0.681" stop-color="#4892d8"/><stop offset="0.714" stop-color="#3f75c6"/><stop offset="0.731" stop-color="#3c69bc"/><stop offset="0.782" stop-color="#375bb0"/><stop offset="0.866" stop-color="#2b50a8"/><stop offset="1" stop-color="#284da5"/></linearGradient>
<linearGradient id="mc85"><stop offset="0" stop-color="#b0d585"/><stop offset="0.034" stop-color="#b1d583"/><stop offset="0.134" stop-color="#c2d970"/><stop offset="0.202" stop-color="#c1d871"/><stop offset="0.319" stop-color="#a9d48c"/><stop offset="0.395" stop-color="#90cfa5"/><stop offset="0.429" stop-color="#7bc9b8"/><stop offset="0.521" stop-color="#51bbe0"/><stop offset="0.563" stop-color="#3db4ec"/><stop offset="0.647" stop-color="#40a1e2"/><stop offset="0.681" stop-color="#4790d7"/><stop offset="0.723" stop-color="#3d6fc1"/><stop offset="0.748" stop-color="#3b64b7"/><stop offset="0.84" stop-color="#2f53aa"/><stop offset="1" stop-color="#284ea5"/></linearGradient>
<linearGradient id="mc86"><stop offset="0" stop-color="#b5d67f"/><stop offset="0.034" stop-color="#b7d67d"/><stop offset="0.118" stop-color="#c9da68"/><stop offset="0.185" stop-color="#cbdb66"/><stop offset="0.252" stop-color="#c1d872"/><stop offset="0.361" stop-color="#a0d295"/><stop offset="0.412" stop-color="#8ccea8"/><stop offset="0.437" stop-color="#7ccab7"/><stop offset="0.538" stop-color="#4bb9e3"/><stop offset="0.563" stop-color="#3eb4eb"/><stop offset="0.647" stop-color="#429ee0"/><stop offset="0.672" stop-color="#4893d9"/><stop offset="0.706" stop-color="#417bcb"/><stop offset="0.731" stop-color="#3c6abd"/><stop offset="0.782" stop-color="#395db2"/><stop offset="0.874" stop-color="#2c51a8"/><stop offset="1" stop-color="#294ea6"/></linearGradient>
<linearGradient id="mc87"><stop offset="0" stop-color="#bcd777"/><stop offset="0.034" stop-color="#bed875"/><stop offset="0.101" stop-color="#cedc62"/><stop offset="0.168" stop-color="#d1dd5d"/><stop offset="0.244" stop-color="#cbdb66"/><stop offset="0.37" stop-color="#a2d393"/><stop offset="0.42" stop-color="#8dcfa7"/><stop offset="0.445" stop-color="#7dcab7"/><stop offset="0.546" stop-color="#4ab8e4"/><stop offset="0.571" stop-color="#3db3eb"/><stop offset="0.647" stop-color="#439cdf"/><stop offset="0.672" stop-color="#4891d8"/><stop offset="0.706" stop-color="#417bcb"/><stop offset="0.739" stop-color="#3c67bb"/><stop offset="0.807" stop-color="#365ab0"/><stop offset="0.908" stop-color="#2b50a7"/><stop offset="1" stop-color="#294fa6"/></linearGradient>
<linearGradient id="mc88"><stop offset="0" stop-color="#c3d96f"/><stop offset="0.034" stop-color="#c5d96d"/><stop offset="0.101" stop-color="#d3dd5a"/><stop offset="0.168" stop-color="#d7de54"/><stop offset="0.244" stop-color="#d0dd5e"/><stop offset="0.294" stop-color="#c4d96e"/><stop offset="0.429" stop-color="#8ecfa6"/><stop offset="0.454" stop-color="#7dcab7"/><stop offset="0.546" stop-color="#4ebae2"/><stop offset="0.571" stop-color="#3eb4ec"/><stop offset="0.639" stop-color="#429de0"/><stop offset="0.672" stop-color="#478fd7"/><stop offset="0.714" stop-color="#3f75c6"/><stop offset="0.739" stop-color="#3c68bb"/><stop offset="0.815" stop-color="#3659af"/><stop offset="0.916" stop-color="#2b50a7"/><stop offset="1" stop-color="#2a4fa6"/></linearGradient>
<linearGradient id="mc89"><stop offset="0" stop-color="#cadb67"/><stop offset="0.034" stop-color="#ccdb65"/><stop offset="0.118" stop-color="#dbdf4f"/><stop offset="0.176" stop-color="#dde04b"/><stop offset="0.252" stop-color="#d4de58"/><stop offset="0.311" stop-color="#c5d96d"/><stop offset="0.437" stop-color="#8ecfa6"/><stop offset="0.462" stop-color="#7dcab7"/><stop offset="0.555" stop-color="#4cb9e3"/><stop offset="0.58" stop-color="#3db3eb"/><stop offset="0.647" stop-color="#4499dd"/><stop offset="0.664" stop-color="#4892d8"/><stop offset="0.714" stop-color="#3f75c6"/><stop offset="0.748" stop-color="#3b66b9"/><stop offset="0.849" stop-color="#3255ac"/><stop offset="0.95" stop-color="#2b50a7"/><stop offset="1" stop-color="#2a4fa7"/></linearGradient>
<linearGradient id="mc90"><stop offset="0" stop-color="#cfdc60"/><stop offset="0.034" stop-color="#d1dd5e"/><stop offset="0.118" stop-color="#e2e245"/><stop offset="0.176" stop-color="#e5e341"/><stop offset="0.244" stop-color="#dbe04e"/><stop offset="0.319" stop-color="#c8da69"/><stop offset="0.378" stop-color="#add487"/><stop offset="0.445" stop-color="#8ecfa6"/><stop offset="0.471" stop-color="#7ccab7"/><stop offset="0.563" stop-color="#4ab8e4"/><stop offset="0.58" stop-color="#3fb5eb"/><stop offset="0.63" stop-color="#41a0e1"/><stop offset="0.664" stop-color="#4891d8"/><stop offset="0.714" stop-color="#3f75c6"/><stop offset="0.748" stop-color="#3b67ba"/><stop offset="0.849" stop-color="#3255ac"/><stop offset="0.958" stop-color="#2b50a7"/><stop offset="1" stop-color="#2a4fa7"/></linearGradient>
<linearGradient id="mc91"><stop offset="0" stop-color="#d4dd59"/><stop offset="0.034" stop-color="#d6de57"/><stop offset="0.118" stop-color="#e9e43b"/><stop offset="0.168" stop-color="#ece536"/><stop offset="0.227" stop-color="#e5e341"/><stop offset="0.328" stop-color="#cbdb66"/><stop offset="0.387" stop-color="#aed487"/><stop offset="0.454" stop-color="#8dcea7"/><stop offset="0.479" stop-color="#7bc9b8"/><stop offset="0.563" stop-color="#4ebae1"/><stop offset="0.588" stop-color="#3db3ec"/><stop offset="0.639" stop-color="#439cdf"/><stop offset="0.664" stop-color="#4790d7"/><stop offset="0.723" stop-color="#3e70c2"/><stop offset="0.756" stop-color="#3b65b8"/><stop offset="0.874" stop-color="#3054ab"/><stop offset="1" stop-color="#2a50a7"/></linearGradient>
<linearGradient id="mc92"><stop offset="0" stop-color="#d9df52"/><stop offset="0.025" stop-color="#d9df52"/><stop offset="0.109" stop-color="#efe633"/><stop offset="0.16" stop-color="#f4e82c"/><stop offset="0.21" stop-color="#efe633"/><stop offset="0.311" stop-color="#d5de58"/><stop offset="0.353" stop-color="#c4d96e"/><stop offset="0.42" stop-color="#a1d294"/><stop offset="0.462" stop-color="#8bcea9"/><stop offset="0.487" stop-color="#7ac9ba"/><stop offset="0.571" stop-color="#4cb9e3"/><stop offset="0.588" stop-color="#3fb5eb"/><stop offset="0.63" stop-color="#41a0e1"/><stop offset="0.664" stop-color="#4790d7"/><stop offset="0.739" stop-color="#3c69bc"/><stop offset="0.832" stop-color="#3558af"/><stop offset="0.95" stop-color="#2b50a7"/><stop offset="1" stop-color="#2a50a7"/></linearGradient>
<linearGradient id="mc93"><stop offset="0" stop-color="#dee04b"/><stop offset="0.025" stop-color="#dee04b"/><stop offset="0.101" stop-color="#f4e82b"/><stop offset="0.143" stop-color="#f5d725"/><stop offset="0.176" stop-color="#f5d725"/><stop offset="0.218" stop-color="#f4e82b"/><stop offset="0.336" stop-color="#d0dc5e"/><stop offset="0.37" stop-color="#c0d873"/><stop offset="0.445" stop-color="#97d19d"/><stop offset="0.471" stop-color="#88cdac"/><stop offset="0.496" stop-color="#78c8bc"/><stop offset="0.571" stop-color="#4fbae1"/><stop offset="0.597" stop-color="#3db2eb"/><stop offset="0.639" stop-color="#439cdf"/><stop offset="0.664" stop-color="#478fd7"/><stop offset="0.739" stop-color="#3c69bc"/><stop offset="0.832" stop-color="#3558af"/><stop offset="0.958" stop-color="#2b50a7"/><stop offset="1" stop-color="#2a50a7"/></linearGradient>
<linearGradient id="mc94"><stop offset="0" stop-color="#e3e243"/><stop offset="0.025" stop-color="#e3e243"/><stop offset="0.076" stop-color="#f4e82b"/><stop offset="0.126" stop-color="#f5c721"/><stop offset="0.16" stop-color="#f5bf1e"/><stop offset="0.193" stop-color="#f5c720"/><stop offset="0.227" stop-color="#f5dc27"/><stop offset="0.244" stop-color="#f4e82c"/><stop offset="0.361" stop-color="#cadb68"/><stop offset="0.403" stop-color="#b1d584"/><stop offset="0.471" stop-color="#8ccea8"/><stop offset="0.496" stop-color="#7ac9b9"/><stop offset="0.571" stop-color="#50bae0"/><stop offset="0.597" stop-color="#3db2eb"/><stop offset="0.639" stop-color="#439bde"/><stop offset="0.664" stop-color="#478fd6"/><stop offset="0.731" stop-color="#3d6cbf"/><stop offset="0.807" stop-color="#385db1"/><stop offset="0.899" stop-color="#2e52a9"/><stop offset="1" stop-color="#2b50a7"/></linearGradient>
<linearGradient id="mc95"><stop offset="0" stop-color="#e8e43c"/><stop offset="0.025" stop-color="#e8e43c"/><stop offset="0.059" stop-color="#f5e82a"/><stop offset="0.101" stop-color="#f5c21f"/><stop offset="0.134" stop-color="#f4ad1c"/><stop offset="0.16" stop-color="#f3a71c"/><stop offset="0.185" stop-color="#f4ab1c"/><stop offset="0.218" stop-color="#f5c11f"/><stop offset="0.261" stop-color="#f4e82b"/><stop offset="0.37" stop-color="#c9da68"/><stop offset="0.403" stop-color="#b4d580"/><stop offset="0.471" stop-color="#8fcfa5"/><stop offset="0.496" stop-color="#7ccab7"/><stop offset="0.571" stop-color="#50bae0"/><stop offset="0.588" stop-color="#40b5ea"/><stop offset="0.605" stop-color="#3eace8"/><stop offset="0.664" stop-color="#478fd6"/><stop offset="0.731" stop-color="#3d6cbf"/><stop offset="0.807" stop-color="#385db1"/><stop offset="0.899" stop-color="#2e52a9"/><stop offset="1" stop-color="#2b50a7"/></linearGradient>
<linearGradient id="mc96"><stop offset="0" stop-color="#ede535"/><stop offset="0.025" stop-color="#ede535"/><stop offset="0.042" stop-color="#f4e82c"/><stop offset="0.059" stop-color="#f5d825"/><stop offset="0.092" stop-color="#f5b51c"/><stop offset="0.126" stop-color="#f2991d"/><stop offset="0.151" stop-color="#f08e1d"/><stop offset="0.176" stop-color="#f18f1d"/><stop offset="0.202" stop-color="#f29b1d"/><stop offset="0.227" stop-color="#f4b21c"/><stop offset="0.269" stop-color="#f5e429"/><stop offset="0.277" stop-color="#f3e72d"/><stop offset="0.378" stop-color="#c8da6a"/><stop offset="0.412" stop-color="#b2d582"/><stop offset="0.479" stop-color="#8bcea8"/><stop offset="0.504" stop-color="#79c9ba"/><stop offset="0.571" stop-color="#50bae0"/><stop offset="0.588" stop-color="#3fb5eb"/><stop offset="0.613" stop-color="#3fa5e5"/><stop offset="0.664" stop-color="#478fd6"/><stop offset="0.731" stop-color="#3d6dbf"/><stop offset="0.807" stop-color="#385db1"/><stop offset="0.891" stop-color="#2f53aa"/><stop offset="1" stop-color="#2b50a7"/></linearGradient>
<linearGradient id="mc97"><stop offset="0" stop-color="#f2e72e"/><stop offset="0.025" stop-color="#f2e72e"/><stop offset="0.034" stop-color="#f5e72a"/><stop offset="0.076" stop-color="#f4b31c"/><stop offset="0.109" stop-color="#f08f1d"/><stop offset="0.134" stop-color="#ee7b1e"/><stop offset="0.16" stop-color="#ed721e"/><stop offset="0.185" stop-color="#ee771e"/><stop offset="0.21" stop-color="#f0881d"/><stop offset="0.235" stop-color="#f3a41c"/><stop offset="0.261" stop-color="#f5c720"/><stop offset="0.286" stop-color="#f4e82b"/><stop offset="0.387" stop-color="#c6da6c"/><stop offset="0.42" stop-color="#b0d585"/><stop offset="0.479" stop-color="#8ecfa6"/><stop offset="0.504" stop-color="#7bc9b9"/><stop offset="0.563" stop-color="#57bddb"/><stop offset="0.588" stop-color="#3fb5eb"/><stop offset="0.613" stop-color="#3fa5e5"/><stop offset="0.664" stop-color="#478fd6"/><stop offset="0.731" stop-color="#3d6dbf"/><stop offset="0.807" stop-color="#385db2"/><stop offset="0.899" stop-color="#2e53aa"/><stop offset="1" stop-color="#2b50a7"/></linearGradient>
<linearGradient id="mc98"><stop offset="0" stop-color="#f5e228"/><stop offset="0.025" stop-color="#f5e228"/><stop offset="0.059" stop-color="#f5b81c"/><stop offset="0.101" stop-color="#ef801d"/><stop offset="0.134" stop-color="#eb601f"/><stop offset="0.16" stop-color="#ea541f"/><stop offset="0.185" stop-color="#ea591f"/><stop offset="0.21" stop-color="#ec6d1e"/><stop offset="0.244" stop-color="#f2991d"/><stop offset="0.261" stop-color="#f5b51c"/><stop offset="0.294" stop-color="#f5e82b"/><stop offset="0.387" stop-color="#c9da69"/><stop offset="0.42" stop-color="#b2d582"/><stop offset="0.479" stop-color="#90cfa4"/><stop offset="0.504" stop-color="#7ccab8"/><stop offset="0.571" stop-color="#51bbdf"/><stop offset="0.588" stop-color="#41b5ea"/><stop offset="0.605" stop-color="#3eace8"/><stop offset="0.664" stop-color="#478fd6"/><stop offset="0.731" stop-color="#3d6dbf"/><stop offset="0.807" stop-color="#385db2"/><stop offset="0.908" stop-color="#2e52a9"/><stop offset="1" stop-color="#2b50a7"/></linearGradient>
<linearGradient id="mc99"><stop offset="0" stop-color="#f5d625"/><stop offset="0.025" stop-color="#f5d625"/><stop offset="0.05" stop-color="#f5b51c"/><stop offset="0.101" stop-color="#ec6a1e"/><stop offset="0.134" stop-color="#e9401d"/><stop offset="0.151" stop-color="#e8331c"/><stop offset="0.168" stop-color="#e82f1c"/><stop offset="0.185" stop-color="#e9361c"/><stop offset="0.21" stop-color="#ea501e"/><stop offset="0.244" stop-color="#ef831d"/><stop offset="0.277" stop-color="#f5c01e"/><stop offset="0.294" stop-color="#f5dc27"/><stop offset="0.303" stop-color="#f4e82b"/><stop offset="0.395" stop-color="#c5da6d"/><stop offset="0.42" stop-color="#b4d580"/><stop offset="0.487" stop-color="#8acea9"/><stop offset="0.513" stop-color="#78c8bc"/><stop offset="0.571" stop-color="#53bbde"/><stop offset="0.597" stop-color="#3db2eb"/><stop offset="0.639" stop-color="#439cdf"/><stop offset="0.664" stop-color="#478fd6"/><stop offset="0.731" stop-color="#3d6dc0"/><stop offset="0.807" stop-color="#395db2"/><stop offset="0.908" stop-color="#2e52a9"/><stop offset="1" stop-color="#2b50a7"/></linearGradient>
<linearGradient id="mc100"><stop offset="0" stop-color="#f5cb22"/><stop offset="0.025" stop-color="#f5cb22"/><stop offset="0.042" stop-color="#f5b51c"/><stop offset="0.109" stop-color="#e9431d"/><stop offset="0.126" stop-color="#e8261b"/><stop offset="0.202" stop-color="#e8261b"/><stop offset="0.21" stop-color="#e82e1c"/><stop offset="0.244" stop-color="#ec6d1e"/><stop offset="0.277" stop-color="#f4b01c"/><stop offset="0.303" stop-color="#f5df27"/><stop offset="0.311" stop-color="#f3e72d"/><stop offset="0.395" stop-color="#c8da6a"/><stop offset="0.429" stop-color="#b0d584"/><stop offset="0.487" stop-color="#8ccea8"/><stop offset="0.513" stop-color="#79c9bb"/><stop offset="0.58" stop-color="#4db9e2"/><stop offset="0.597" stop-color="#3db4ec"/><stop offset="0.639" stop-color="#429ddf"/><stop offset="0.664" stop-color="#478fd7"/><stop offset="0.731" stop-color="#3d6dc0"/><stop offset="0.807" stop-color="#395db2"/><stop offset="0.916" stop-color="#2d52a9"/><stop offset="1" stop-color="#2b50a7"/></linearGradient>
<linearGradient id="mc101"><stop offset="0" stop-color="#f5c21f"/><stop offset="0.025" stop-color="#f5c21f"/><stop offset="0.034" stop-color="#f5b81c"/><stop offset="0.084" stop-color="#ea5b1f"/><stop offset="0.109" stop-color="#e8261b"/><stop offset="0.218" stop-color="#e8261b"/><stop offset="0.227" stop-color="#e8301c"/><stop offset="0.252" stop-color="#ec691e"/><stop offset="0.286" stop-color="#f5b51c"/><stop offset="0.311" stop-color="#f5e529"/><stop offset="0.336" stop-color="#e7e33e"/><stop offset="0.395" stop-color="#c9db68"/><stop offset="0.429" stop-color="#b1d583"/><stop offset="0.487" stop-color="#8dcfa7"/><stop offset="0.513" stop-color="#7ac9ba"/><stop offset="0.58" stop-color="#4fbae1"/><stop offset="0.597" stop-color="#40b5ea"/><stop offset="0.613" stop-color="#3eace8"/><stop offset="0.647" stop-color="#449add"/><stop offset="0.664" stop-color="#4790d7"/><stop offset="0.723" stop-color="#3e71c3"/><stop offset="0.773" stop-color="#3b63b7"/><stop offset="0.899" stop-color="#2f53aa"/><stop offset="1" stop-color="#2a50a7"/></linearGradient>
<linearGradient id="mc102"><stop offset="0" stop-color="#f5ba1c"/><stop offset="0.025" stop-color="#f5ba1c"/><stop offset="0.034" stop-color="#f4ae1c"/><stop offset="0.076" stop-color="#ea5c1f"/><stop offset="0.092" stop-color="#e9331c"/><stop offset="0.101" stop-color="#e8261b"/><stop offset="0.227" stop-color="#e8261b"/><stop offset="0.235" stop-color="#e82a1b"/><stop offset="0.261" stop-color="#ec6c1e"/><stop offset="0.294" stop-color="#f5bc1d"/><stop offset="0.311" stop-color="#f5de27"/><stop offset="0.319" stop-color="#f3e72d"/><stop offset="0.378" stop-color="#d3dd5a"/><stop offset="0.403" stop-color="#c4d96e"/><stop offset="0.429" stop-color="#b2d582"/><stop offset="0.487" stop-color="#8ecfa6"/><stop offset="0.513" stop-color="#7ac9ba"/><stop offset="0.58" stop-color="#51bbe0"/><stop offset="0.605" stop-color="#3db3eb"/><stop offset="0.639" stop-color="#419fe1"/><stop offset="0.664" stop-color="#4891d7"/><stop offset="0.723" stop-color="#3e71c3"/><stop offset="0.773" stop-color="#3b63b7"/><stop offset="0.908" stop-color="#2f53aa"/><stop offset="1" stop-color="#2a50a7"/></linearGradient>
<linearGradient id="mc103"><stop offset="0" stop-color="#f4b21c"/><stop offset="0.025" stop-color="#f4b21c"/><stop offset="0.042" stop-color="#f1961d"/><stop offset="0.067" stop-color="#eb621f"/><stop offset="0.084" stop-color="#e9381c"/><stop offset="0.092" stop-color="#e8261b"/><stop offset="0.235" stop-color="#e8261b"/><stop offset="0.244" stop-color="#e82d1c"/><stop offset="0.261" stop-color="#eb5e1f"/><stop offset="0.294" stop-color="#f5b41c"/><stop offset="0.319" stop-color="#f5e82a"/><stop offset="0.37" stop-color="#d8df54"/><stop offset="0.403" stop-color="#c5d96d"/><stop offset="0.429" stop-color="#b3d582"/><stop offset="0.487" stop-color="#8ecfa6"/><stop offset="0.504" stop-color="#7fcbb4"/><stop offset="0.58" stop-color="#52bbdf"/><stop offset="0.605" stop-color="#3db3ec"/><stop offset="0.639" stop-color="#41a0e2"/><stop offset="0.664" stop-color="#4891d8"/><stop offset="0.723" stop-color="#3e72c4"/><stop offset="0.765" stop-color="#3b65b9"/><stop offset="0.899" stop-color="#3054ab"/><stop offset="1" stop-color="#2a50a7"/></linearGradient>
<linearGradient id="mc104"><stop offset="0" stop-color="#f4ad1c"/><stop offset="0.025" stop-color="#f4ad1c"/><stop offset="0.042" stop-color="#f18f1d"/><stop offset="0.067" stop-color="#ea591f"/><stop offset="0.076" stop-color="#e9431d"/><stop offset="0.084" stop-color="#e8291b"/><stop offset="0.118" stop-color="#e8261b"/><stop offset="0.244" stop-color="#e8261b"/><stop offset="0.252" stop-color="#e93a1d"/><stop offset="0.277" stop-color="#ef821d"/><stop offset="0.294" stop-color="#f4ae1c"/><stop offset="0.319" stop-color="#f5e629"/><stop offset="0.37" stop-color="#d8df53"/><stop offset="0.403" stop-color="#c5d96d"/><stop offset="0.429" stop-color="#b3d582"/><stop offset="0.487" stop-color="#8ecfa6"/><stop offset="0.513" stop-color="#7ac9ba"/><stop offset="0.588" stop-color="#4bb9e3"/><stop offset="0.605" stop-color="#3db4ec"/><stop offset="0.647" stop-color="#439cdf"/><stop offset="0.664" stop-color="#4892d8"/><stop offset="0.723" stop-color="#3e72c4"/><stop offset="0.765" stop-color="#3b65b9"/><stop offset="0.899" stop-color="#3054ab"/><stop offset="1" stop-color="#2b50a7"/></linearGradient>
<linearGradient id="mc105"><stop offset="0" stop-color="#f3aa1c"/><stop offset="0.025" stop-color="#f3aa1c"/><stop offset="0.042" stop-color="#f08c1d"/><stop offset="0.067" stop-color="#ea531e"/><stop offset="0.084" stop-color="#e8261b"/><stop offset="0.244" stop-color="#e8261b"/><stop offset="0.252" stop-color="#e8321c"/><stop offset="0.269" stop-color="#eb661f"/><stop offset="0.294" stop-color="#f4ab1c"/><stop offset="0.311" stop-color="#f5d324"/><stop offset="0.319" stop-color="#f5e529"/><stop offset="0.336" stop-color="#ebe538"/><stop offset="0.403" stop-color="#c5d96d"/><stop offset="0.429" stop-color="#b2d582"/><stop offset="0.487" stop-color="#8dcea7"/><stop offset="0.513" stop-color="#79c9ba"/><stop offset="0.588" stop-color="#4ab8e4"/><stop offset="0.605" stop-color="#3db4ec"/><stop offset="0.647" stop-color="#439cdf"/><stop offset="0.664" stop-color="#4892d8"/><stop offset="0.723" stop-color="#3e73c5"/><stop offset="0.765" stop-color="#3b66b9"/><stop offset="0.891" stop-color="#3155ac"/><stop offset="0.992" stop-color="#2b50a7"/><stop offset="1" stop-color="#2b50a7"/></linearGradient>
<linearGradient id="mc106"><stop offset="0" stop-color="#f3a91c"/><stop offset="0.025" stop-color="#f3a91c"/><stop offset="0.042" stop-color="#f08b1d"/><stop offset="0.067" stop-color="#ea521e"/><stop offset="0.076" stop-color="#e93a1d"/><stop offset="0.084" stop-color="#e8261b"/><stop offset="0.244" stop-color="#e8261b"/><stop offset="0.252" stop-color="#e82f1c"/><stop offset="0.269" stop-color="#eb651f"/><stop offset="0.294" stop-color="#f4ac1c"/><stop offset="0.311" stop-color="#f5d324"/><stop offset="0.319" stop-color="#f5e529"/><stop offset="0.345" stop-color="#e5e340"/><stop offset="0.403" stop-color="#c4d96f"/><stop offset="0.429" stop-color="#b1d583"/><stop offset="0.487" stop-color="#8ccea8"/><stop offset="0.513" stop-color="#78c8bb"/><stop offset="0.588" stop-color="#49b8e5"/><stop offset="0.605" stop-color="#3db3ec"/><stop offset="0.647" stop-color="#439ddf"/><stop offset="0.664" stop-color="#4793d9"/><stop offset="0.723" stop-color="#3e73c5"/><stop offset="0.765" stop-color="#3b66b9"/><stop offset="0.891" stop-color="#3255ac"/><stop offset="0.992" stop-color="#2b50a7"/><stop offset="1" stop-color="#2b50a7"/></linearGradient>
<linearGradient id="mc107"><stop offset="0" stop-color="#f3aa1c"/><stop offset="0.025" stop-color="#f3aa1c"/><stop offset="0.042" stop-color="#f08d1d"/><stop offset="0.067" stop-color="#ea541f"/><stop offset="0.084" stop-color="#e8261b"/><stop offset="0.244" stop-color="#e8261b"/><stop offset="0.252" stop-color="#e9341c"/><stop offset="0.277" stop-color="#ef811d"/><stop offset="0.294" stop-color="#f4af1c"/><stop offset="0.319" stop-color="#f5e82a"/><stop offset="0.37" stop-color="#d6de56"/><stop offset="0.403" stop-color="#c2d970"/><stop offset="0.445" stop-color="#a5d390"/><stop offset="0.487" stop-color="#8aceaa"/><stop offset="0.504" stop-color="#7ccab7"/><stop offset="0.58" stop-color="#4ebae1"/><stop offset="0.597" stop-color="#41b5ea"/><stop offset="0.605" stop-color="#3db2eb"/><stop offset="0.647" stop-color="#439ddf"/><stop offset="0.672" stop-color="#478fd6"/><stop offset="0.731" stop-color="#3e70c2"/><stop offset="0.782" stop-color="#3b63b7"/><stop offset="0.933" stop-color="#2d52a9"/><stop offset="1" stop-color="#2b50a7"/></linearGradient>
<linearGradient id="mc108"><stop offset="0" stop-color="#f4ae1c"/><stop offset="0.025" stop-color="#f4ae1c"/><stop offset="0.042" stop-color="#f1911d"/><stop offset="0.067" stop-color="#ea5b1f"/><stop offset="0.076" stop-color="#e9461d"/><stop offset="0.084" stop-color="#e82c1b"/><stop offset="0.092" stop-color="#e8261b"/><stop offset="0.244" stop-color="#e8261b"/><stop offset="0.269" stop-color="#ed701e"/><stop offset="0.294" stop-color="#f5b61c"/><stop offset="0.311" stop-color="#f5dc26"/><stop offset="0.319" stop-color="#f3e72d"/><stop offset="0.37" stop-color="#d5de57"/><stop offset="0.403" stop-color="#c0d873"/><stop offset="0.454" stop-color="#9ed297"/><stop offset="0.479" stop-color="#8fcfa5"/><stop offset="0.496" stop-color="#7fcbb4"/><stop offset="0.571" stop-color="#52bbdf"/><stop offset="0.597" stop-color="#3fb5eb"/><stop offset="0.639" stop-color="#40a1e2"/><stop offset="0.672" stop-color="#478fd7"/><stop offset="0.731" stop-color="#3e70c3"/><stop offset="0.782" stop-color="#3b63b7"/><stop offset="0.933" stop-color="#2e52a9"/><stop offset="1" stop-color="#2b50a8"/></linearGradient>
<linearGradient id="mc109"><stop offset="0" stop-color="#f5b41c"/><stop offset="0.025" stop-color="#f5b41c"/><stop offset="0.042" stop-color="#f1971d"/><stop offset="0.067" stop-color="#eb661f"/><stop offset="0.084" stop-color="#e93d1d"/><stop offset="0.092" stop-color="#e8261b"/><stop offset="0.235" stop-color="#e8261b"/><stop offset="0.244" stop-color="#e9341c"/><stop offset="0.269" stop-color="#ee7c1e"/><stop offset="0.294" stop-color="#f5be1e"/><stop offset="0.311" stop-color="#f5e328"/><stop offset="0.319" stop-color="#f1e730"/><stop offset="0.37" stop-color="#d4dd5a"/><stop offset="0.395" stop-color="#c4d96e"/><stop offset="0.42" stop-color="#b2d582"/><stop offset="0.479" stop-color="#8dcea7"/><stop offset="0.504" stop-color="#79c9bb"/><stop offset="0.58" stop-color="#49b8e5"/><stop offset="0.597" stop-color="#3db4ec"/><stop offset="0.647" stop-color="#439ddf"/><stop offset="0.672" stop-color="#478fd7"/><stop offset="0.731" stop-color="#3e71c3"/><stop offset="0.782" stop-color="#3b63b7"/><stop offset="0.933" stop-color="#2e53aa"/><stop offset="1" stop-color="#2b51a8"/></linearGradient>
<linearGradient id="mc110"><stop offset="0" stop-color="#f5bb1d"/><stop offset="0.025" stop-color="#f5bb1d"/><stop offset="0.034" stop-color="#f4b01c"/><stop offset="0.076" stop-color="#eb611f"/><stop offset="0.101" stop-color="#e8261b"/><stop offset="0.227" stop-color="#e8261b"/><stop offset="0.235" stop-color="#e8321c"/><stop offset="0.261" stop-color="#ed761e"/><stop offset="0.286" stop-color="#f5b61c"/><stop offset="0.303" stop-color="#f5da26"/><stop offset="0.311" stop-color="#f4e82c"/><stop offset="0.361" stop-color="#d6de56"/><stop offset="0.395" stop-color="#c2d971"/><stop offset="0.445" stop-color="#9fd296"/><stop offset="0.479" stop-color="#8aceaa"/><stop offset="0.496" stop-color="#7ccab7"/><stop offset="0.571" stop-color="#4cb9e2"/><stop offset="0.588" stop-color="#40b5ea"/><stop offset="0.605" stop-color="#3eaee9"/><stop offset="0.647" stop-color="#439cdf"/><stop offset="0.672" stop-color="#478fd7"/><stop offset="0.731" stop-color="#3e71c3"/><stop offset="0.782" stop-color="#3b64b7"/><stop offset="0.933" stop-color="#2f53aa"/><stop offset="1" stop-color="#2c51a8"/></linearGradient>
<linearGradient id="mc111"><stop offset="0" stop-color="#f5c420"/><stop offset="0.025" stop-color="#f5c420"/><stop offset="0.034" stop-color="#f5ba1d"/><stop offset="0.076" stop-color="#ed6f1e"/><stop offset="0.092" stop-color="#e94a1e"/><stop offset="0.101" stop-color="#e9341c"/><stop offset="0.109" stop-color="#e8261b"/><stop offset="0.218" stop-color="#e8261b"/><stop offset="0.227" stop-color="#e8331c"/><stop offset="0.252" stop-color="#ed751e"/><stop offset="0.277" stop-color="#f4b11c"/><stop offset="0.303" stop-color="#f5e629"/><stop offset="0.361" stop-color="#d4dd59"/><stop offset="0.387" stop-color="#c5d96d"/><stop offset="0.412" stop-color="#b3d581"/><stop offset="0.471" stop-color="#8ecfa6"/><stop offset="0.487" stop-color="#7fcbb4"/><stop offset="0.563" stop-color="#50bae0"/><stop offset="0.588" stop-color="#3db4ec"/><stop offset="0.647" stop-color="#439bde"/><stop offset="0.672" stop-color="#478fd6"/><stop offset="0.731" stop-color="#3e71c3"/><stop offset="0.782" stop-color="#3b64b7"/><stop offset="0.933" stop-color="#2f53aa"/><stop offset="1" stop-color="#2c51a8"/></linearGradient>
<linearGradient id="mc112"><stop offset="0" stop-color="#f5c821"/><stop offset="0.025" stop-color="#f5c821"/><stop offset="0.034" stop-color="#f5bf1e"/><stop offset="0.076" stop-color="#ed761e"/><stop offset="0.092" stop-color="#ea521e"/><stop offset="0.109" stop-color="#e8261b"/><stop offset="0.218" stop-color="#e8261b"/><stop offset="0.244" stop-color="#ec6a1e"/><stop offset="0.277" stop-color="#f5ba1d"/><stop offset="0.294" stop-color="#f5db26"/><stop offset="0.303" stop-color="#f4e82c"/><stop offset="0.361" stop-color="#d3dd5b"/><stop offset="0.387" stop-color="#c4d96e"/><stop offset="0.412" stop-color="#b2d583"/><stop offset="0.471" stop-color="#8dcea7"/><stop offset="0.496" stop-color="#79c9bb"/><stop offset="0.563" stop-color="#4fbae1"/><stop offset="0.588" stop-color="#3db3ec"/><stop offset="0.639" stop-color="#429ee0"/><stop offset="0.664" stop-color="#4893d8"/><stop offset="0.731" stop-color="#3e71c3"/><stop offset="0.782" stop-color="#3b64b7"/><stop offset="0.933" stop-color="#2f53aa"/><stop offset="1" stop-color="#2c51a8"/></linearGradient>
<linearGradient id="mc113"><stop offset="0" stop-color="#f5c821"/><stop offset="0.025" stop-color="#f5c821"/><stop offset="0.034" stop-color="#f5bf1e"/><stop offset="0.076" stop-color="#ed761e"/><stop offset="0.092" stop-color="#ea521e"/><stop offset="0.109" stop-color="#e8261b"/><stop offset="0.218" stop-color="#e8261b"/><stop offset="0.244" stop-color="#ec6a1e"/><stop offset="0.277" stop-color="#f5ba1d"/><stop offset="0.294" stop-color="#f5db26"/><stop offset="0.303" stop-color="#f4e82c"/><stop offset="0.361" stop-color="#d3dd5b"/><stop offset="0.387" stop-color="#c4d96e"/><stop offset="0.412" stop-color="#b2d583"/><stop offset="0.471" stop-color="#8dcea7"/><stop offset="0.496" stop-color="#79c9bb"/><stop offset="0.563" stop-color="#4fbae1"/><stop offset="0.588" stop-color="#3db3ec"/><stop offset="0.639" stop-color="#429ee0"/><stop offset="0.664" stop-color="#4893d8"/><stop offset="0.731" stop-color="#3e71c3"/><stop offset="0.782" stop-color="#3b64b7"/><stop offset="0.933" stop-color="#2f53aa"/><stop offset="1" stop-color="#2c51a8"/></linearGradient>
<linearGradient id="mc114"><stop offset="0" stop-color="#f5c821"/><stop offset="0.025" stop-color="#f5c821"/><stop offset="0.034" stop-color="#f5bf1e"/><stop offset="0.076" stop-color="#ed761e"/><stop offset="0.092" stop-color="#ea521e"/><stop offset="0.109" stop-color="#e8261b"/><stop offset="0.218" stop-color="#e8261b"/><stop offset="0.244" stop-color="#ec6a1e"/><stop offset="0.277" stop-color="#f5ba1d"/><stop offset="0.294" stop-color="#f5db26"/><stop offset="0.303" stop-color="#f4e82c"/><stop offset="0.361" stop-color="#d3dd5b"/><stop offset="0.387" stop-color="#c4d96e"/><stop offset="0.412" stop-color="#b2d583"/><stop offset="0.471" stop-color="#8dcea7"/><stop offset="0.496" stop-color="#79c9bb"/><stop offset="0.563" stop-color="#4fbae1"/><stop offset="0.588" stop-color="#3db3ec"/><stop offset="0.639" stop-color="#429ee0"/><stop offset="0.664" stop-color="#4893d8"/><stop offset="0.731" stop-color="#3e71c3"/><stop offset="0.782" stop-color="#3b64b7"/><stop offset="0.933" stop-color="#2f53aa"/><stop offset="1" stop-color="#2c51a8"/></linearGradient>
<linearGradient id="mc115"><stop offset="0" stop-color="#f5c821"/><stop offset="0.025" stop-color="#f5c821"/><stop offset="0.034" stop-color="#f5bf1e"/><stop offset="0.076" stop-color="#ed761e"/><stop offset="0.092" stop-color="#ea521e"/><stop offset="0.109" stop-color="#e8261b"/><stop offset="0.218" stop-color="#e8261b"/><stop offset="0.244" stop-color="#ec6a1e"/><stop offset="0.277" stop-color="#f5ba1d"/><stop offset="0.294" stop-color="#f5db26"/><stop offset="0.303" stop-color="#f4e82c"/><stop offset="0.361" stop-color="#d3dd5b"/><stop offset="0.387" stop-color="#c4d96e"/><stop offset="0.412" stop-color="#b2d583"/><stop offset="0.471" stop-color="#8dcea7"/><stop offset="0.496" stop-color="#79c9bb"/><stop offset="0.563" stop-color="#4fbae1"/><stop offset="0.588" stop-color="#3db3ec"/><stop offset="0.639" stop-color="#429ee0"/><stop offset="0.664" stop-color="#4893d8"/><stop offset="0.731" stop-color="#3e71c3"/><stop offset="0.782" stop-color="#3b64b7"/><stop offset="0.933" stop-color="#2f53aa"/><stop offset="1" stop-color="#2c51a8"/></linearGradient>
</defs>
<g clip-path="url(#clipmc)"><g filter="url(#blmc)">
<rect x="669.9" y="60.8" width="476" height="6.6" fill="url(#mc0)"/>
<rect x="669.9" y="66.8" width="476" height="6.6" fill="url(#mc1)"/>
<rect x="669.9" y="72.8" width="476" height="6.6" fill="url(#mc2)"/>
<rect x="669.9" y="78.8" width="476" height="6.6" fill="url(#mc3)"/>
<rect x="669.9" y="84.8" width="476" height="6.6" fill="url(#mc4)"/>
<rect x="669.9" y="90.8" width="476" height="6.6" fill="url(#mc5)"/>
<rect x="669.9" y="96.8" width="476" height="6.6" fill="url(#mc6)"/>
<rect x="669.9" y="102.8" width="476" height="6.6" fill="url(#mc7)"/>
<rect x="669.9" y="108.8" width="476" height="6.6" fill="url(#mc8)"/>
<rect x="669.9" y="114.8" width="476" height="6.6" fill="url(#mc9)"/>
<rect x="669.9" y="120.8" width="476" height="6.6" fill="url(#mc10)"/>
<rect x="669.9" y="126.8" width="476" height="6.6" fill="url(#mc11)"/>
<rect x="669.9" y="132.8" width="476" height="6.6" fill="url(#mc12)"/>
<rect x="669.9" y="138.8" width="476" height="6.6" fill="url(#mc13)"/>
<rect x="669.9" y="144.8" width="476" height="6.6" fill="url(#mc14)"/>
<rect x="669.9" y="150.8" width="476" height="6.6" fill="url(#mc15)"/>
<rect x="669.9" y="156.8" width="476" height="6.6" fill="url(#mc16)"/>
<rect x="669.9" y="162.8" width="476" height="6.6" fill="url(#mc17)"/>
<rect x="669.9" y="168.8" width="476" height="6.6" fill="url(#mc18)"/>
<rect x="669.9" y="174.8" width="476" height="6.6" fill="url(#mc19)"/>
<rect x="669.9" y="180.8" width="476" height="6.6" fill="url(#mc20)"/>
<rect x="669.9" y="186.8" width="476" height="6.6" fill="url(#mc21)"/>
<rect x="669.9" y="192.8" width="476" height="6.6" fill="url(#mc22)"/>
<rect x="669.9" y="198.8" width="476" height="6.6" fill="url(#mc23)"/>
<rect x="669.9" y="204.8" width="476" height="6.6" fill="url(#mc24)"/>
<rect x="669.9" y="210.8" width="476" height="6.6" fill="url(#mc25)"/>
<rect x="669.9" y="216.8" width="476" height="6.6" fill="url(#mc26)"/>
<rect x="669.9" y="222.8" width="476" height="6.6" fill="url(#mc27)"/>
<rect x="669.9" y="228.8" width="476" height="6.6" fill="url(#mc28)"/>
<rect x="669.9" y="234.8" width="476" height="6.6" fill="url(#mc29)"/>
<rect x="669.9" y="240.8" width="476" height="6.6" fill="url(#mc30)"/>
<rect x="669.9" y="246.8" width="476" height="6.6" fill="url(#mc31)"/>
<rect x="669.9" y="252.8" width="476" height="6.6" fill="url(#mc32)"/>
<rect x="669.9" y="258.8" width="476" height="6.6" fill="url(#mc33)"/>
<rect x="669.9" y="264.8" width="476" height="6.6" fill="url(#mc34)"/>
<rect x="669.9" y="270.8" width="476" height="6.6" fill="url(#mc35)"/>
<rect x="669.9" y="276.8" width="476" height="6.6" fill="url(#mc36)"/>
<rect x="669.9" y="282.8" width="476" height="6.6" fill="url(#mc37)"/>
<rect x="669.9" y="288.8" width="476" height="6.6" fill="url(#mc38)"/>
<rect x="669.9" y="294.8" width="476" height="6.6" fill="url(#mc39)"/>
<rect x="669.9" y="300.8" width="476" height="6.6" fill="url(#mc40)"/>
<rect x="669.9" y="306.8" width="476" height="6.6" fill="url(#mc41)"/>
<rect x="669.9" y="312.8" width="476" height="6.6" fill="url(#mc42)"/>
<rect x="669.9" y="318.8" width="476" height="6.6" fill="url(#mc43)"/>
<rect x="669.9" y="324.8" width="476" height="6.6" fill="url(#mc44)"/>
<rect x="669.9" y="330.8" width="476" height="6.6" fill="url(#mc45)"/>
<rect x="669.9" y="336.8" width="476" height="6.6" fill="url(#mc46)"/>
<rect x="669.9" y="342.8" width="476" height="6.6" fill="url(#mc47)"/>
<rect x="669.9" y="348.8" width="476" height="6.6" fill="url(#mc48)"/>
<rect x="669.9" y="354.8" width="476" height="6.6" fill="url(#mc49)"/>
<rect x="669.9" y="360.8" width="476" height="6.6" fill="url(#mc50)"/>
<rect x="669.9" y="366.8" width="476" height="6.6" fill="url(#mc51)"/>
<rect x="669.9" y="372.8" width="476" height="6.6" fill="url(#mc52)"/>
<rect x="669.9" y="378.8" width="476" height="6.6" fill="url(#mc53)"/>
<rect x="669.9" y="384.8" width="476" height="6.6" fill="url(#mc54)"/>
<rect x="669.9" y="390.8" width="476" height="6.6" fill="url(#mc55)"/>
<rect x="669.9" y="396.8" width="476" height="6.6" fill="url(#mc56)"/>
<rect x="669.9" y="402.8" width="476" height="6.6" fill="url(#mc57)"/>
<rect x="669.9" y="408.8" width="476" height="6.6" fill="url(#mc58)"/>
<rect x="669.9" y="414.8" width="476" height="6.6" fill="url(#mc59)"/>
<rect x="669.9" y="420.8" width="476" height="6.6" fill="url(#mc60)"/>
<rect x="669.9" y="426.8" width="476" height="6.6" fill="url(#mc61)"/>
<rect x="669.9" y="432.8" width="476" height="6.6" fill="url(#mc62)"/>
<rect x="669.9" y="438.8" width="476" height="6.6" fill="url(#mc63)"/>
<rect x="669.9" y="444.8" width="476" height="6.6" fill="url(#mc64)"/>
<rect x="669.9" y="450.8" width="476" height="6.6" fill="url(#mc65)"/>
<rect x="669.9" y="456.8" width="476" height="6.6" fill="url(#mc66)"/>
<rect x="669.9" y="462.8" width="476" height="6.6" fill="url(#mc67)"/>
<rect x="669.9" y="468.8" width="476" height="6.6" fill="url(#mc68)"/>
<rect x="669.9" y="474.8" width="476" height="6.6" fill="url(#mc69)"/>
<rect x="669.9" y="480.8" width="476" height="6.6" fill="url(#mc70)"/>
<rect x="669.9" y="486.8" width="476" height="6.6" fill="url(#mc71)"/>
<rect x="669.9" y="492.8" width="476" height="6.6" fill="url(#mc72)"/>
<rect x="669.9" y="498.8" width="476" height="6.6" fill="url(#mc73)"/>
<rect x="669.9" y="504.8" width="476" height="6.6" fill="url(#mc74)"/>
<rect x="669.9" y="510.8" width="476" height="6.6" fill="url(#mc75)"/>
<rect x="669.9" y="516.8" width="476" height="6.6" fill="url(#mc76)"/>
<rect x="669.9" y="522.8" width="476" height="6.6" fill="url(#mc77)"/>
<rect x="669.9" y="528.8" width="476" height="6.6" fill="url(#mc78)"/>
<rect x="669.9" y="534.8" width="476" height="6.6" fill="url(#mc79)"/>
<rect x="669.9" y="540.8" width="476" height="6.6" fill="url(#mc80)"/>
<rect x="669.9" y="546.8" width="476" height="6.6" fill="url(#mc81)"/>
<rect x="669.9" y="552.8" width="476" height="6.6" fill="url(#mc82)"/>
<rect x="669.9" y="558.8" width="476" height="6.6" fill="url(#mc83)"/>
<rect x="669.9" y="564.8" width="476" height="6.6" fill="url(#mc84)"/>
<rect x="669.9" y="570.8" width="476" height="6.6" fill="url(#mc85)"/>
<rect x="669.9" y="576.8" width="476" height="6.6" fill="url(#mc86)"/>
<rect x="669.9" y="582.8" width="476" height="6.6" fill="url(#mc87)"/>
<rect x="669.9" y="588.8" width="476" height="6.6" fill="url(#mc88)"/>
<rect x="669.9" y="594.8" width="476" height="6.6" fill="url(#mc89)"/>
<rect x="669.9" y="600.8" width="476" height="6.6" fill="url(#mc90)"/>
<rect x="669.9" y="606.8" width="476" height="6.6" fill="url(#mc91)"/>
<rect x="669.9" y="612.8" width="476" height="6.6" fill="url(#mc92)"/>
<rect x="669.9" y="618.8" width="476" height="6.6" fill="url(#mc93)"/>
<rect x="669.9" y="624.8" width="476" height="6.6" fill="url(#mc94)"/>
<rect x="669.9" y="630.8" width="476" height="6.6" fill="url(#mc95)"/>
<rect x="669.9" y="636.8" width="476" height="6.6" fill="url(#mc96)"/>
<rect x="669.9" y="642.8" width="476" height="6.6" fill="url(#mc97)"/>
<rect x="669.9" y="648.8" width="476" height="6.6" fill="url(#mc98)"/>
<rect x="669.9" y="654.8" width="476" height="6.6" fill="url(#mc99)"/>
<rect x="669.9" y="660.8" width="476" height="6.6" fill="url(#mc100)"/>
<rect x="669.9" y="666.8" width="476" height="6.6" fill="url(#mc101)"/>
<rect x="669.9" y="672.8" width="476" height="6.6" fill="url(#mc102)"/>
<rect x="669.9" y="678.8" width="476" height="6.6" fill="url(#mc103)"/>
<rect x="669.9" y="684.8" width="476" height="6.6" fill="url(#mc104)"/>
<rect x="669.9" y="690.8" width="476" height="6.6" fill="url(#mc105)"/>
<rect x="669.9" y="696.8" width="476" height="6.6" fill="url(#mc106)"/>
<rect x="669.9" y="702.8" width="476" height="6.6" fill="url(#mc107)"/>
<rect x="669.9" y="708.8" width="476" height="6.6" fill="url(#mc108)"/>
<rect x="669.9" y="714.8" width="476" height="6.6" fill="url(#mc109)"/>
<rect x="669.9" y="720.8" width="476" height="6.6" fill="url(#mc110)"/>
<rect x="669.9" y="726.8" width="476" height="6.6" fill="url(#mc111)"/>
<rect x="669.9" y="732.8" width="476" height="6.6" fill="url(#mc112)"/>
<rect x="669.9" y="738.8" width="476" height="6.6" fill="url(#mc113)"/>
<rect x="669.9" y="744.8" width="476" height="6.6" fill="url(#mc114)"/>
<rect x="669.9" y="750.8" width="476" height="6.6" fill="url(#mc115)"/>
</g></g>
<g clip-path="url(#clipmc)">
<path d="M680 70 731.5 70 733 76 763 180 807 313 815 345 680 345Z" fill="url(#wg)" opacity="0.7"/>
<path d="M680 196 685.9 196.9 695.2 201.2 703.7 207.1 705.4 212.2 710.5 218.1 705.4 220.6 701.2 225.7 701.2 229.9 705.4 230.8 709.6 239.3 712.3 247 714.3 252.8 705.4 249.6 706.2 257.2 714.8 255.2 715.6 264.6 722.3 274.8 730.8 286.7 734.2 296 742.6 301 757 302.2 764.6 307 773.1 312.5 783.3 320.3 791.7 323.7 796 329.6 796.8 340.6 799.4 350.8 800.5 366 796.8 375.3 793.4 377.9 801.9 379.6 806.1 382.1 813.7 381.3 818.8 384.6 827.3 385.5 833.2 390.6 838.3 394.8 834.1 398.2 840 400.6 845.3 400.6 849.9 402.8 855.2 402.8 859 405.9 861.7 410.5 862.1 414.3 859 416.6 852.9 418.8 850.7 421.1 849.9 424.9 862.8 421.1 874.3 417.3 885.7 412 893.3 409.7 900.9 405.1 906.3 400.6 910.1 395.2 911.8 393.3 913.9 395.2 914.3 399.8 916.2 403.6 916.9 408.9 916.2 414.3 915 418.1 913.1 421.1 910.1 423.8 907.4 424.6 908.5 423 911.6 420.4 913.1 417.3 913.5 414.3 912.4 412.4 909.3 411.6 906.3 412.8 904.7 414.7 904.7 415.8 900.9 418.1 894.8 421.1 889.5 422.7 882.7 424.6 873.5 426.3 876.6 428.7 878.1 432.2 886.5 438.9 889.9 447.4 898.4 449.9 900 448.2 898.4 454.2 906.8 460.9 915.3 467.7 922.1 476.2 928.9 483 932.2 493.1 940.7 503.3 933.9 511.7 928.9 516 920.4 508.3 906.8 507.5 905.2 504.1 896.7 496.5 883.1 488 866.2 483 854.4 481.3 849.3 484.6 847.6 479.6 842.5 483.8 829 484.6 817.1 483 814.6 468.6 805.3 471.1 795.1 474.5 781.6 477 772.3 478.7 761.3 481.3 754.5 488 747.7 496.5 739.3 505 730.8 511.7 722.3 516.8 717.2 525.3 715.6 530.2 711.3 542 705.4 552.2 698.6 564 693.5 575.9 687.6 584.3 690.2 594.5 692.7 609.7 693.5 621.6 696.5 634 697.4 638.4 694.7 646.8 696.8 655.1 694 664.9 689.8 676.1 693.3 683 697.4 690 696.8 697 691.2 702.6 702.3 706.1 696.8 710.3 691.9 709.6 694 716.5 698.1 722.1 700.9 726.3 705.1 729.8 706 735 680 735Z" fill="#fbe5bd" stroke="#2a2620" stroke-width="0.9" stroke-linejoin="round"/>
<path d="M685 238.5 689 237.6 693.5 240.5 692 245 688 247.7 685 247.5Z" fill="#8ccdee"/>
<path d="M685 553 693.5 553 688.5 566.5 685 566.5Z" fill="#8ccdee"/>
<path d="M685 686.5 691.2 688 689.5 699.8 685 699.8Z" fill="#8ccdee"/>
<path d="M685 414.3 700 411.5 722 408.5 735 409.3 747.7 411 760 414.5 773 418.6 786 423.5 798.5 428 812 433.9 824 437" fill="none" stroke="#8ccdee" stroke-width="2.4" stroke-linecap="round" stroke-linejoin="round"/>
<path d="M830.7 431.3 840 429.7 849.3 428 858 425.5 866.2 422.9 875 419.5 883 415.5" fill="none" stroke="#8ccdee" stroke-width="2.2" stroke-linecap="round" stroke-linejoin="round"/>
<path d="M875.5 394 877.5 400 880 405 883 410.5 884.5 414" fill="none" stroke="#9ad6f0" stroke-width="1.5" stroke-linecap="round" stroke-linejoin="round"/>
<path d="M893 394.5 890.5 400 887.5 405 885.5 410 884.5 414" fill="none" stroke="#9ad6f0" stroke-width="1.5" stroke-linecap="round" stroke-linejoin="round"/>
<path d="M878 401 881.5 406 886 409.5" fill="none" stroke="#9ad6f0" stroke-width="1" stroke-linecap="round" stroke-linejoin="round"/>
<path d="M889.5 402 888 407 884 410.5" fill="none" stroke="#9ad6f0" stroke-width="1" stroke-linecap="round" stroke-linejoin="round"/>
<path d="M685.6 705.4 697 702.5 709.3 699.3" fill="none" stroke="#cfe8f5" stroke-width="1" stroke-linecap="round" stroke-linejoin="round"/>
<path d="M854 447.2 857 447.4 870 456.5 885 468 898 480 910 492.5 921.5 502 919 505.5 916 506 906 497.5 894 485 881 472 867 459.5 855.5 450.5Z" fill="#8ccdee"/>
<path d="M871.3 388.2 874.8 387.2 876.8 392 877.5 397.5 875 397.8 873.6 393.2Z" fill="#8ccdee"/>
<path d="M893.3 388.8 897.8 389.6 895.3 394.2 892.8 398.3 890.6 397.5 891.7 392.8Z" fill="#8ccdee"/>
<path d="M866 423.3 875 419.3 882.5 415 886 412.2 886.8 415.2 883 418.7 875.5 421.5 866.5 424.6Z" fill="#8ccdee"/>
</g>
<text transform="translate(766.6 444.4) scale(1.020 1)" font-size="19.8" font-weight="bold" font-style="italic" font-family='"Liberation Serif","DejaVu Serif",serif' text-anchor="start" fill="#000">Yellow river</text>
<g fill="#000">
<circle cx="758.2" cy="692.5" r="4.4"/>
<circle cx="763.8" cy="623.3" r="4.4"/>
<circle cx="788.3" cy="571.6" r="4.4"/>
<circle cx="986.1" cy="524.4" r="4.4"/>
<circle cx="866.6" cy="364.7" r="4.4"/>
<circle cx="773.1" cy="297.1" r="4.4"/>
<circle cx="842.2" cy="248.6" r="4.4"/>
<circle cx="897.5" cy="278.2" r="4.4"/>
<circle cx="1016.5" cy="288" r="4.4"/>
<circle cx="1073.7" cy="406.8" r="4.4"/>
<circle cx="1077.5" cy="459.3" r="4.4"/>
<circle cx="1072" cy="588.9" r="4.4"/>
<circle cx="972.7" cy="644.4" r="4.4"/>
</g>
<g font-family='"Liberation Serif","DejaVu Serif",serif'>
<text transform="translate(763.5 684.5) scale(0.970 1)" font-size="13.2" font-weight="bold" text-anchor="start" fill="#000">A1</text>
<text transform="translate(769.1 615.3) scale(0.970 1)" font-size="13.2" font-weight="bold" text-anchor="start" fill="#000">A2</text>
<text transform="translate(793.6 563.6) scale(0.970 1)" font-size="13.2" font-weight="bold" text-anchor="start" fill="#000">A3</text>
<text transform="translate(991.4 516.4) scale(0.970 1)" font-size="13.2" font-weight="bold" text-anchor="start" fill="#000">B1</text>
<text transform="translate(871.9 356.7) scale(0.970 1)" font-size="13.2" font-weight="bold" text-anchor="start" fill="#000">B2</text>
<text transform="translate(778.4 289.1) scale(0.970 1)" font-size="13.2" font-weight="bold" text-anchor="start" fill="#000">B3</text>
<text transform="translate(847.5 240.6) scale(0.970 1)" font-size="13.2" font-weight="bold" text-anchor="start" fill="#000">C1</text>
<text transform="translate(902.8 270.2) scale(0.970 1)" font-size="13.2" font-weight="bold" text-anchor="start" fill="#000">C2</text>
<text transform="translate(1021.8 280) scale(0.970 1)" font-size="13.2" font-weight="bold" text-anchor="start" fill="#000">C3</text>
<text transform="translate(1079 398.8) scale(0.970 1)" font-size="13.2" font-weight="bold" text-anchor="start" fill="#000">D1</text>
<text transform="translate(1082.8 451.3) scale(0.970 1)" font-size="13.2" font-weight="bold" text-anchor="start" fill="#000">D2</text>
<text transform="translate(1077.3 580.9) scale(0.970 1)" font-size="13.2" font-weight="bold" text-anchor="start" fill="#000">D3</text>
<text transform="translate(978 636.4) scale(0.970 1)" font-size="13.2" font-weight="bold" text-anchor="start" fill="#000">D4</text>
</g>
<g fill="#000">
<rect x="768.6" y="105.7" width="15.05" height="7.3"/>
<rect x="798.7" y="105.7" width="15.05" height="7.3"/>
<rect x="828.8" y="105.7" width="60.2" height="7.3"/>
<rect x="949.2" y="105.7" width="60.2" height="7.3"/>
<rect x="769" y="106.15" width="240" height="6.4" fill="none" stroke="#000" stroke-width="0.9"/>
</g>
<g font-family='"Liberation Serif","DejaVu Serif",serif'>
<text transform="translate(768.2 129) scale(0.970 1)" font-size="14.2" font-weight="bold" text-anchor="middle" fill="#000">0</text>
<text transform="translate(798.3 129) scale(0.970 1)" font-size="14.2" font-weight="bold" text-anchor="middle" fill="#000">5</text>
<text transform="translate(828.4 129) scale(0.970 1)" font-size="14.2" font-weight="bold" text-anchor="middle" fill="#000">10</text>
<text transform="translate(888.6 129) scale(0.970 1)" font-size="14.2" font-weight="bold" text-anchor="middle" fill="#000">20</text>
<text transform="translate(948.8 129) scale(0.970 1)" font-size="14.2" font-weight="bold" text-anchor="middle" fill="#000">30</text>
<text transform="translate(1009 129) scale(0.970 1)" font-size="14.2" font-weight="bold" text-anchor="middle" fill="#000">40</text>
<text transform="translate(1013.2 112.4) scale(0.970 1)" font-size="14.2" font-weight="bold" text-anchor="start" fill="#000">Km</text>
</g>
<text x="1109.7" y="96.7" font-size="16.3" font-weight="normal" font-family='"Liberation Sans","DejaVu Sans",sans-serif' text-anchor="middle" fill="#111">N</text>
<path d="M1109.3 101.3L1098.3 136.9L1109.3 123.1Z" fill="#000"/>
<path d="M1109.3 102.3L1119.7 136.1L1109.3 123.1Z" fill="none" stroke="#000" stroke-width="1" stroke-linejoin="miter"/>
<rect x="684.9" y="75.8" width="446" height="654.7" fill="none" stroke="#1c1c1c" stroke-width="1.7"/>
<path d="M735.9 75.8V70.6M735.9 730.5V735.7M846.97 75.8V70.6M846.97 730.5V735.7M958.03 75.8V70.6M958.03 730.5V735.7M1069.1 75.8V70.6M1069.1 730.5V735.7" stroke="#1c1c1c" stroke-width="1.3" fill="none"/>
<g font-family='"Liberation Serif","DejaVu Serif",serif'>
<text transform="translate(735.9 68.1) scale(0.955 1)" font-size="15.8" font-weight="bold" text-anchor="middle" fill="#000">119°0'0"E</text>
<text transform="translate(735.9 749.5) scale(0.955 1)" font-size="15.8" font-weight="bold" text-anchor="middle" fill="#000">119°0'0"E</text>
<text transform="translate(846.97 68.1) scale(0.955 1)" font-size="15.8" font-weight="bold" text-anchor="middle" fill="#000">119°10'0"E</text>
<text transform="translate(846.97 749.5) scale(0.955 1)" font-size="15.8" font-weight="bold" text-anchor="middle" fill="#000">119°10'0"E</text>
<text transform="translate(958.03 68.1) scale(0.955 1)" font-size="15.8" font-weight="bold" text-anchor="middle" fill="#000">119°20'0"E</text>
<text transform="translate(958.03 749.5) scale(0.955 1)" font-size="15.8" font-weight="bold" text-anchor="middle" fill="#000">119°20'0"E</text>
<text transform="translate(1069.1 68.1) scale(0.955 1)" font-size="15.8" font-weight="bold" text-anchor="middle" fill="#000">119°30'0"E</text>
<text transform="translate(1069.1 749.5) scale(0.955 1)" font-size="15.8" font-weight="bold" text-anchor="middle" fill="#000">119°30'0"E</text>
<text x="895.6" y="786.4" font-size="30.7" font-weight="bold" text-anchor="middle" fill="#000">Trix</text>
</g>
<rect x="1153.2" y="215.8" width="27.3" height="428.8" fill="url(#cbarmc)"/>
<path d="M1180.5 216.1H1183.3M1180.5 258.98H1183.3M1180.5 301.86H1183.3M1180.5 344.74H1183.3M1180.5 387.62H1183.3M1180.5 430.5H1183.3M1180.5 473.38H1183.3M1180.5 516.26H1183.3M1180.5 559.14H1183.3M1180.5 602.02H1183.3" stroke="#222" stroke-width="0.9" fill="none"/>
<g font-family='"Liberation Serif","DejaVu Serif",serif'>
<text transform="translate(1186.5 221.9) scale(1.010 1)" font-size="14.8" font-weight="bold" text-anchor="start" fill="#000">5.40</text>
<text transform="translate(1186.5 264.78) scale(1.010 1)" font-size="14.8" font-weight="bold" text-anchor="start" fill="#000">5.35</text>
<text transform="translate(1186.5 307.66) scale(1.010 1)" font-size="14.8" font-weight="bold" text-anchor="start" fill="#000">5.32</text>
<text transform="translate(1186.5 350.54) scale(1.010 1)" font-size="14.8" font-weight="bold" text-anchor="start" fill="#000">5.28</text>
<text transform="translate(1186.5 393.42) scale(1.010 1)" font-size="14.8" font-weight="bold" text-anchor="start" fill="#000">5.25</text>
<text transform="translate(1186.5 436.3) scale(1.010 1)" font-size="14.8" font-weight="bold" text-anchor="start" fill="#000">5.21</text>
<text transform="translate(1186.5 479.18) scale(1.010 1)" font-size="14.8" font-weight="bold" text-anchor="start" fill="#000">5.18</text>
<text transform="translate(1186.5 522.06) scale(1.010 1)" font-size="14.8" font-weight="bold" text-anchor="start" fill="#000">5.14</text>
<text transform="translate(1186.5 564.94) scale(1.010 1)" font-size="14.8" font-weight="bold" text-anchor="start" fill="#000">5.11</text>
<text transform="translate(1186.5 607.82) scale(1.010 1)" font-size="14.8" font-weight="bold" text-anchor="start" fill="#000">5.07</text>
<text transform="translate(1186.5 650.7) scale(1.010 1)" font-size="14.8" font-weight="bold" text-anchor="start" fill="#000">5.04</text>
</g>
<defs>
<clipPath id="clipmd"><rect x="1249.1" y="75.8" width="446.8" height="654.7"/></clipPath>
<filter id="blmd" x="-5%" y="-5%" width="110%" height="110%" color-interpolation-filters="sRGB"><feGaussianBlur stdDeviation="0 3"/></filter>
<linearGradient id="md0"><stop offset="0" stop-color="#91cfa4"/><stop offset="0.05" stop-color="#94d0a0"/><stop offset="0.092" stop-color="#98d19d"/><stop offset="0.101" stop-color="#95d0a0"/><stop offset="0.109" stop-color="#8ccea7"/><stop offset="0.118" stop-color="#b7d67d"/><stop offset="0.134" stop-color="#b0d585"/><stop offset="0.218" stop-color="#a7d38e"/><stop offset="0.437" stop-color="#7ecab5"/><stop offset="0.504" stop-color="#7ecab5"/><stop offset="0.538" stop-color="#8acea9"/><stop offset="0.613" stop-color="#a2d392"/><stop offset="0.824" stop-color="#cddb64"/><stop offset="0.95" stop-color="#d3dd5a"/><stop offset="1" stop-color="#d4de58"/></linearGradient>
<linearGradient id="md1"><stop offset="0" stop-color="#91cfa4"/><stop offset="0.05" stop-color="#94d0a0"/><stop offset="0.092" stop-color="#9ad19b"/><stop offset="0.109" stop-color="#93d0a1"/><stop offset="0.118" stop-color="#bed875"/><stop offset="0.126" stop-color="#b5d67f"/><stop offset="0.16" stop-color="#afd586"/><stop offset="0.286" stop-color="#99d19b"/><stop offset="0.437" stop-color="#7ecab5"/><stop offset="0.504" stop-color="#7ecab5"/><stop offset="0.538" stop-color="#8acea9"/><stop offset="0.613" stop-color="#a2d392"/><stop offset="0.824" stop-color="#cddb64"/><stop offset="0.95" stop-color="#d3dd5a"/><stop offset="1" stop-color="#d4de58"/></linearGradient>
<linearGradient id="md2"><stop offset="0" stop-color="#8fcfa5"/><stop offset="0.05" stop-color="#93d0a1"/><stop offset="0.092" stop-color="#99d19b"/><stop offset="0.109" stop-color="#96d09f"/><stop offset="0.118" stop-color="#8fcfa5"/><stop offset="0.126" stop-color="#b7d67d"/><stop offset="0.143" stop-color="#b0d585"/><stop offset="0.328" stop-color="#90cfa4"/><stop offset="0.437" stop-color="#7dcab6"/><stop offset="0.504" stop-color="#7dcab6"/><stop offset="0.529" stop-color="#85ccaf"/><stop offset="0.571" stop-color="#97d09e"/><stop offset="0.706" stop-color="#b5d67f"/><stop offset="0.832" stop-color="#cddc63"/><stop offset="0.975" stop-color="#d4de59"/><stop offset="1" stop-color="#d4de59"/></linearGradient>
<linearGradient id="md3"><stop offset="0" stop-color="#88cdac"/><stop offset="0.034" stop-color="#89cdab"/><stop offset="0.092" stop-color="#95d09f"/><stop offset="0.109" stop-color="#93d0a1"/><stop offset="0.118" stop-color="#8ecfa6"/><stop offset="0.126" stop-color="#b6d67f"/><stop offset="0.143" stop-color="#aad48a"/><stop offset="0.311" stop-color="#8dcea7"/><stop offset="0.378" stop-color="#7fcbb4"/><stop offset="0.479" stop-color="#78c8bc"/><stop offset="0.521" stop-color="#7ecab5"/><stop offset="0.571" stop-color="#95d0a0"/><stop offset="0.723" stop-color="#b7d67d"/><stop offset="0.832" stop-color="#cddb64"/><stop offset="0.958" stop-color="#d3dd5a"/><stop offset="1" stop-color="#d4dd5a"/></linearGradient>
<linearGradient id="md4"><stop offset="0" stop-color="#81cbb3"/><stop offset="0.034" stop-color="#82ccb1"/><stop offset="0.092" stop-color="#90cfa4"/><stop offset="0.109" stop-color="#8fcfa5"/><stop offset="0.118" stop-color="#8aceaa"/><stop offset="0.126" stop-color="#7fcbb4"/><stop offset="0.134" stop-color="#aad48b"/><stop offset="0.151" stop-color="#a0d295"/><stop offset="0.277" stop-color="#8fcfa5"/><stop offset="0.336" stop-color="#7fcbb4"/><stop offset="0.471" stop-color="#75c7bf"/><stop offset="0.521" stop-color="#7ccab8"/><stop offset="0.546" stop-color="#87cdad"/><stop offset="0.58" stop-color="#96d09f"/><stop offset="0.782" stop-color="#c3d96f"/><stop offset="0.857" stop-color="#cedc61"/><stop offset="1" stop-color="#d3dd5a"/></linearGradient>
<linearGradient id="md5"><stop offset="0" stop-color="#7ccab7"/><stop offset="0.05" stop-color="#80cbb3"/><stop offset="0.101" stop-color="#88cdab"/><stop offset="0.118" stop-color="#83ccb0"/><stop offset="0.126" stop-color="#7dcab6"/><stop offset="0.134" stop-color="#a6d38f"/><stop offset="0.143" stop-color="#9ed297"/><stop offset="0.168" stop-color="#96d09e"/><stop offset="0.252" stop-color="#8dcfa7"/><stop offset="0.328" stop-color="#7bc9b8"/><stop offset="0.462" stop-color="#72c6c2"/><stop offset="0.513" stop-color="#78c8bc"/><stop offset="0.546" stop-color="#83ccb0"/><stop offset="0.58" stop-color="#93d0a1"/><stop offset="0.773" stop-color="#c0d873"/><stop offset="0.849" stop-color="#cddc63"/><stop offset="0.992" stop-color="#d3dd5b"/><stop offset="1" stop-color="#d3dd5b"/></linearGradient>
<linearGradient id="md6"><stop offset="0" stop-color="#78c8bb"/><stop offset="0.059" stop-color="#7ccab7"/><stop offset="0.109" stop-color="#7fcbb4"/><stop offset="0.126" stop-color="#7ac9ba"/><stop offset="0.134" stop-color="#74c7c1"/><stop offset="0.143" stop-color="#9ad19b"/><stop offset="0.16" stop-color="#91cfa3"/><stop offset="0.277" stop-color="#7fcbb4"/><stop offset="0.361" stop-color="#74c7c1"/><stop offset="0.471" stop-color="#70c5c5"/><stop offset="0.521" stop-color="#78c8bc"/><stop offset="0.555" stop-color="#84ccaf"/><stop offset="0.588" stop-color="#93d0a1"/><stop offset="0.773" stop-color="#bfd874"/><stop offset="0.849" stop-color="#cddc63"/><stop offset="1" stop-color="#d3dd5b"/></linearGradient>
<linearGradient id="md7"><stop offset="0" stop-color="#74c7c0"/><stop offset="0.101" stop-color="#7ac9ba"/><stop offset="0.126" stop-color="#74c7c0"/><stop offset="0.143" stop-color="#69c3cc"/><stop offset="0.151" stop-color="#91cfa3"/><stop offset="0.176" stop-color="#86cdae"/><stop offset="0.37" stop-color="#6fc5c6"/><stop offset="0.462" stop-color="#6dc4c8"/><stop offset="0.521" stop-color="#76c7be"/><stop offset="0.563" stop-color="#84ccaf"/><stop offset="0.597" stop-color="#92d0a2"/><stop offset="0.782" stop-color="#c0d873"/><stop offset="0.857" stop-color="#cddc63"/><stop offset="1" stop-color="#d3dd5b"/></linearGradient>
<linearGradient id="md8"><stop offset="0" stop-color="#6fc5c5"/><stop offset="0.109" stop-color="#73c6c1"/><stop offset="0.134" stop-color="#6cc4c9"/><stop offset="0.143" stop-color="#67c2cd"/><stop offset="0.151" stop-color="#8dcea7"/><stop offset="0.168" stop-color="#82cbb2"/><stop offset="0.244" stop-color="#79c8bb"/><stop offset="0.395" stop-color="#69c3cb"/><stop offset="0.471" stop-color="#6bc4ca"/><stop offset="0.538" stop-color="#78c8bc"/><stop offset="0.58" stop-color="#87cdac"/><stop offset="0.613" stop-color="#93d0a1"/><stop offset="0.765" stop-color="#bad779"/><stop offset="0.84" stop-color="#ccdb65"/><stop offset="0.992" stop-color="#d3dd5a"/><stop offset="1" stop-color="#d3dd5a"/></linearGradient>
<linearGradient id="md9"><stop offset="0" stop-color="#6ac3cb"/><stop offset="0.109" stop-color="#6ec5c7"/><stop offset="0.143" stop-color="#66c2ce"/><stop offset="0.151" stop-color="#61c0d2"/><stop offset="0.16" stop-color="#7fcbb4"/><stop offset="0.21" stop-color="#76c7be"/><stop offset="0.42" stop-color="#64c1d0"/><stop offset="0.487" stop-color="#6ac3cb"/><stop offset="0.58" stop-color="#82ccb1"/><stop offset="0.622" stop-color="#93d0a2"/><stop offset="0.765" stop-color="#b9d67b"/><stop offset="0.84" stop-color="#cbdb66"/><stop offset="0.992" stop-color="#d3dd5a"/><stop offset="1" stop-color="#d3dd5a"/></linearGradient>
<linearGradient id="md10"><stop offset="0" stop-color="#64c1d0"/><stop offset="0.118" stop-color="#68c3cc"/><stop offset="0.151" stop-color="#60c0d3"/><stop offset="0.16" stop-color="#7bc9b9"/><stop offset="0.21" stop-color="#70c5c4"/><stop offset="0.361" stop-color="#64c1d0"/><stop offset="0.437" stop-color="#60c0d3"/><stop offset="0.504" stop-color="#6bc4ca"/><stop offset="0.597" stop-color="#84ccaf"/><stop offset="0.639" stop-color="#94d0a0"/><stop offset="0.765" stop-color="#b8d67c"/><stop offset="0.832" stop-color="#cadb67"/><stop offset="0.975" stop-color="#d4dd59"/><stop offset="1" stop-color="#d4dd59"/></linearGradient>
<linearGradient id="md11"><stop offset="0" stop-color="#5dbfd5"/><stop offset="0.126" stop-color="#62c1d1"/><stop offset="0.16" stop-color="#5abed8"/><stop offset="0.168" stop-color="#72c6c2"/><stop offset="0.218" stop-color="#69c3cc"/><stop offset="0.345" stop-color="#61c0d2"/><stop offset="0.42" stop-color="#5bbed8"/><stop offset="0.487" stop-color="#63c1d1"/><stop offset="0.597" stop-color="#7fcbb4"/><stop offset="0.639" stop-color="#91cfa3"/><stop offset="0.731" stop-color="#add487"/><stop offset="0.832" stop-color="#cadb68"/><stop offset="0.983" stop-color="#d4de59"/><stop offset="1" stop-color="#d4de59"/></linearGradient>
<linearGradient id="md12"><stop offset="0" stop-color="#56bddb"/><stop offset="0.134" stop-color="#5cbed7"/><stop offset="0.16" stop-color="#57bddb"/><stop offset="0.168" stop-color="#6bc4ca"/><stop offset="0.218" stop-color="#61c0d2"/><stop offset="0.336" stop-color="#5dbfd5"/><stop offset="0.412" stop-color="#55bcdc"/><stop offset="0.479" stop-color="#5cbed6"/><stop offset="0.571" stop-color="#75c7bf"/><stop offset="0.622" stop-color="#86cdad"/><stop offset="0.664" stop-color="#96d09f"/><stop offset="0.824" stop-color="#c8da6a"/><stop offset="0.941" stop-color="#d2dd5b"/><stop offset="1" stop-color="#d4de58"/></linearGradient>
<linearGradient id="md13"><stop offset="0" stop-color="#4ebae2"/><stop offset="0.059" stop-color="#51bbe0"/><stop offset="0.126" stop-color="#56bcdb"/><stop offset="0.16" stop-color="#50bae0"/><stop offset="0.168" stop-color="#4db9e2"/><stop offset="0.176" stop-color="#60c0d3"/><stop offset="0.227" stop-color="#58bdda"/><stop offset="0.336" stop-color="#56bddb"/><stop offset="0.412" stop-color="#4ebae1"/><stop offset="0.487" stop-color="#58bdda"/><stop offset="0.58" stop-color="#74c7c0"/><stop offset="0.63" stop-color="#85ccae"/><stop offset="0.672" stop-color="#96d09e"/><stop offset="0.815" stop-color="#c5da6c"/><stop offset="0.891" stop-color="#cfdc60"/><stop offset="1" stop-color="#d5de58"/></linearGradient>
<linearGradient id="md14"><stop offset="0" stop-color="#44b6e8"/><stop offset="0.05" stop-color="#45b7e7"/><stop offset="0.109" stop-color="#4ebae1"/><stop offset="0.151" stop-color="#47b7e6"/><stop offset="0.168" stop-color="#40b5ea"/><stop offset="0.176" stop-color="#58bdda"/><stop offset="0.227" stop-color="#4fbae1"/><stop offset="0.319" stop-color="#50bae0"/><stop offset="0.403" stop-color="#45b7e7"/><stop offset="0.471" stop-color="#4ebae1"/><stop offset="0.546" stop-color="#64c1cf"/><stop offset="0.639" stop-color="#85ccae"/><stop offset="0.681" stop-color="#96d09e"/><stop offset="0.815" stop-color="#c5d96d"/><stop offset="0.891" stop-color="#cfdc60"/><stop offset="0.992" stop-color="#d5de57"/><stop offset="1" stop-color="#d5de57"/></linearGradient>
<linearGradient id="md15"><stop offset="0" stop-color="#3db3ec"/><stop offset="0.059" stop-color="#3eb4eb"/><stop offset="0.109" stop-color="#44b6e8"/><stop offset="0.151" stop-color="#3db3eb"/><stop offset="0.176" stop-color="#3eabe7"/><stop offset="0.185" stop-color="#4cb9e3"/><stop offset="0.218" stop-color="#42b6e9"/><stop offset="0.311" stop-color="#44b6e7"/><stop offset="0.395" stop-color="#3db3ec"/><stop offset="0.454" stop-color="#42b6e9"/><stop offset="0.521" stop-color="#56bcdc"/><stop offset="0.647" stop-color="#86cdae"/><stop offset="0.681" stop-color="#94d0a0"/><stop offset="0.824" stop-color="#c6da6b"/><stop offset="0.916" stop-color="#d1dd5d"/><stop offset="0.992" stop-color="#d6de56"/><stop offset="1" stop-color="#d6de56"/></linearGradient>
<linearGradient id="md16"><stop offset="0" stop-color="#3eafea"/><stop offset="0.118" stop-color="#3db1ea"/><stop offset="0.168" stop-color="#3fa4e4"/><stop offset="0.176" stop-color="#41a1e2"/><stop offset="0.185" stop-color="#41b5ea"/><stop offset="0.202" stop-color="#3db2eb"/><stop offset="0.252" stop-color="#3eb0ea"/><stop offset="0.42" stop-color="#3eaee9"/><stop offset="0.479" stop-color="#3fb5ea"/><stop offset="0.546" stop-color="#5bbed7"/><stop offset="0.655" stop-color="#87cdad"/><stop offset="0.697" stop-color="#98d19c"/><stop offset="0.824" stop-color="#c6da6c"/><stop offset="0.899" stop-color="#d0dc5e"/><stop offset="0.992" stop-color="#d7de55"/><stop offset="1" stop-color="#d7de55"/></linearGradient>
<linearGradient id="md17"><stop offset="0" stop-color="#3eace8"/><stop offset="0.109" stop-color="#3eabe7"/><stop offset="0.151" stop-color="#419fe1"/><stop offset="0.185" stop-color="#4790d7"/><stop offset="0.193" stop-color="#3eade8"/><stop offset="0.235" stop-color="#3fa6e5"/><stop offset="0.345" stop-color="#3fa6e5"/><stop offset="0.445" stop-color="#3eabe8"/><stop offset="0.496" stop-color="#3db4ec"/><stop offset="0.597" stop-color="#6ec5c7"/><stop offset="0.655" stop-color="#84ccb0"/><stop offset="0.697" stop-color="#97d09e"/><stop offset="0.832" stop-color="#c8da6a"/><stop offset="0.966" stop-color="#d7de55"/><stop offset="1" stop-color="#d7de54"/></linearGradient>
<linearGradient id="md18"><stop offset="0" stop-color="#3fa8e6"/><stop offset="0.101" stop-color="#3fa5e4"/><stop offset="0.143" stop-color="#4597dc"/><stop offset="0.168" stop-color="#468bd5"/><stop offset="0.193" stop-color="#427ece"/><stop offset="0.202" stop-color="#40a2e3"/><stop offset="0.244" stop-color="#439bde"/><stop offset="0.395" stop-color="#41a0e1"/><stop offset="0.496" stop-color="#3eafe9"/><stop offset="0.513" stop-color="#3eb4ec"/><stop offset="0.571" stop-color="#60c0d4"/><stop offset="0.647" stop-color="#7ecab6"/><stop offset="0.697" stop-color="#95d0a0"/><stop offset="0.832" stop-color="#c7da6a"/><stop offset="0.966" stop-color="#d8de54"/><stop offset="1" stop-color="#d8df53"/></linearGradient>
<linearGradient id="md19"><stop offset="0" stop-color="#40a2e3"/><stop offset="0.084" stop-color="#429fe1"/><stop offset="0.126" stop-color="#4794d9"/><stop offset="0.193" stop-color="#3e73c5"/><stop offset="0.202" stop-color="#4599dd"/><stop offset="0.244" stop-color="#478fd7"/><stop offset="0.37" stop-color="#4794d9"/><stop offset="0.496" stop-color="#3ea9e7"/><stop offset="0.521" stop-color="#3db3eb"/><stop offset="0.58" stop-color="#61c0d2"/><stop offset="0.647" stop-color="#7ccab7"/><stop offset="0.706" stop-color="#96d09e"/><stop offset="0.832" stop-color="#c7da6a"/><stop offset="0.966" stop-color="#d8df53"/><stop offset="1" stop-color="#d9df52"/></linearGradient>
<linearGradient id="md20"><stop offset="0" stop-color="#449bde"/><stop offset="0.084" stop-color="#4696db"/><stop offset="0.118" stop-color="#468dd6"/><stop offset="0.185" stop-color="#3d6dbf"/><stop offset="0.202" stop-color="#3c68bb"/><stop offset="0.21" stop-color="#468bd5"/><stop offset="0.252" stop-color="#4281d0"/><stop offset="0.336" stop-color="#4486d2"/><stop offset="0.42" stop-color="#4795da"/><stop offset="0.496" stop-color="#3fa3e4"/><stop offset="0.529" stop-color="#3db2eb"/><stop offset="0.546" stop-color="#48b8e5"/><stop offset="0.58" stop-color="#5ebfd4"/><stop offset="0.639" stop-color="#78c8bc"/><stop offset="0.672" stop-color="#85ccae"/><stop offset="0.714" stop-color="#98d19d"/><stop offset="0.832" stop-color="#c7da6a"/><stop offset="0.975" stop-color="#dadf50"/><stop offset="1" stop-color="#dadf50"/></linearGradient>
<linearGradient id="md21"><stop offset="0" stop-color="#4893d8"/><stop offset="0.084" stop-color="#468cd5"/><stop offset="0.126" stop-color="#417dcd"/><stop offset="0.168" stop-color="#3c6abd"/><stop offset="0.202" stop-color="#3b63b7"/><stop offset="0.21" stop-color="#4281cf"/><stop offset="0.261" stop-color="#3f76c7"/><stop offset="0.37" stop-color="#4281cf"/><stop offset="0.454" stop-color="#4794d9"/><stop offset="0.504" stop-color="#41a0e2"/><stop offset="0.538" stop-color="#3db3ec"/><stop offset="0.571" stop-color="#57bdda"/><stop offset="0.63" stop-color="#74c7c1"/><stop offset="0.681" stop-color="#88cdac"/><stop offset="0.765" stop-color="#add487"/><stop offset="0.832" stop-color="#c8da6a"/><stop offset="0.975" stop-color="#dbdf4f"/><stop offset="1" stop-color="#dbdf4f"/></linearGradient>
<linearGradient id="md22"><stop offset="0" stop-color="#458ad4"/><stop offset="0.076" stop-color="#4382d0"/><stop offset="0.118" stop-color="#3f77c8"/><stop offset="0.16" stop-color="#3b66ba"/><stop offset="0.21" stop-color="#395eb3"/><stop offset="0.218" stop-color="#3f74c6"/><stop offset="0.269" stop-color="#3d6ec0"/><stop offset="0.361" stop-color="#3f77c8"/><stop offset="0.462" stop-color="#478ed6"/><stop offset="0.496" stop-color="#4597dc"/><stop offset="0.538" stop-color="#3eb0ea"/><stop offset="0.546" stop-color="#3fb5eb"/><stop offset="0.571" stop-color="#55bcdd"/><stop offset="0.63" stop-color="#73c6c2"/><stop offset="0.681" stop-color="#86cdad"/><stop offset="0.756" stop-color="#a9d48c"/><stop offset="0.824" stop-color="#c6da6c"/><stop offset="0.899" stop-color="#d3dd5b"/><stop offset="0.983" stop-color="#dce04d"/><stop offset="1" stop-color="#dce04d"/></linearGradient>
<linearGradient id="md23"><stop offset="0" stop-color="#4280cf"/><stop offset="0.067" stop-color="#407aca"/><stop offset="0.168" stop-color="#3a61b5"/><stop offset="0.21" stop-color="#385cb1"/><stop offset="0.218" stop-color="#3d6cbe"/><stop offset="0.277" stop-color="#3c68bb"/><stop offset="0.37" stop-color="#3e70c2"/><stop offset="0.445" stop-color="#4383d1"/><stop offset="0.496" stop-color="#4891d8"/><stop offset="0.538" stop-color="#3eace8"/><stop offset="0.546" stop-color="#3db2eb"/><stop offset="0.58" stop-color="#58bdda"/><stop offset="0.63" stop-color="#72c6c3"/><stop offset="0.681" stop-color="#85ccaf"/><stop offset="0.756" stop-color="#a8d38c"/><stop offset="0.824" stop-color="#c7da6b"/><stop offset="0.941" stop-color="#d9df51"/><stop offset="0.992" stop-color="#dde04b"/><stop offset="1" stop-color="#dde04b"/></linearGradient>
<linearGradient id="md24"><stop offset="0" stop-color="#4078c9"/><stop offset="0.05" stop-color="#3f74c5"/><stop offset="0.176" stop-color="#385db2"/><stop offset="0.218" stop-color="#3458ae"/><stop offset="0.227" stop-color="#3b65b9"/><stop offset="0.345" stop-color="#3c67ba"/><stop offset="0.395" stop-color="#3d6ec1"/><stop offset="0.487" stop-color="#4487d2"/><stop offset="0.513" stop-color="#4795da"/><stop offset="0.546" stop-color="#3eaee9"/><stop offset="0.555" stop-color="#3db4ec"/><stop offset="0.58" stop-color="#55bcdd"/><stop offset="0.63" stop-color="#71c6c4"/><stop offset="0.681" stop-color="#84ccaf"/><stop offset="0.756" stop-color="#a8d38c"/><stop offset="0.824" stop-color="#c7da6a"/><stop offset="0.966" stop-color="#dee04a"/><stop offset="1" stop-color="#dfe149"/></linearGradient>
<linearGradient id="md25"><stop offset="0" stop-color="#3e71c3"/><stop offset="0.05" stop-color="#3d6cbf"/><stop offset="0.185" stop-color="#3559af"/><stop offset="0.218" stop-color="#3155ac"/><stop offset="0.227" stop-color="#3a61b5"/><stop offset="0.328" stop-color="#3b63b7"/><stop offset="0.412" stop-color="#3d6cbf"/><stop offset="0.487" stop-color="#427fce"/><stop offset="0.521" stop-color="#4794d9"/><stop offset="0.546" stop-color="#3ea9e6"/><stop offset="0.563" stop-color="#3fb5eb"/><stop offset="0.58" stop-color="#52bbdf"/><stop offset="0.63" stop-color="#70c5c4"/><stop offset="0.681" stop-color="#84ccaf"/><stop offset="0.756" stop-color="#a9d48c"/><stop offset="0.824" stop-color="#c8da69"/><stop offset="0.966" stop-color="#e0e148"/><stop offset="1" stop-color="#e1e147"/></linearGradient>
<linearGradient id="md26"><stop offset="0" stop-color="#3c6abd"/><stop offset="0.092" stop-color="#3b62b6"/><stop offset="0.202" stop-color="#3054ab"/><stop offset="0.227" stop-color="#2d52a9"/><stop offset="0.235" stop-color="#395eb2"/><stop offset="0.37" stop-color="#3b63b6"/><stop offset="0.462" stop-color="#3d70c2"/><stop offset="0.504" stop-color="#427fce"/><stop offset="0.529" stop-color="#4793d9"/><stop offset="0.555" stop-color="#3eaae7"/><stop offset="0.563" stop-color="#3db1ea"/><stop offset="0.571" stop-color="#43b6e8"/><stop offset="0.597" stop-color="#5bbed7"/><stop offset="0.639" stop-color="#73c7c1"/><stop offset="0.681" stop-color="#84ccaf"/><stop offset="0.765" stop-color="#aed487"/><stop offset="0.824" stop-color="#c9db68"/><stop offset="0.975" stop-color="#e2e245"/><stop offset="1" stop-color="#e2e245"/></linearGradient>
<linearGradient id="md27"><stop offset="0" stop-color="#3b67ba"/><stop offset="0.067" stop-color="#3a61b5"/><stop offset="0.16" stop-color="#3255ac"/><stop offset="0.227" stop-color="#2b50a7"/><stop offset="0.235" stop-color="#375bb0"/><stop offset="0.353" stop-color="#3a5fb3"/><stop offset="0.471" stop-color="#3c6bbe"/><stop offset="0.504" stop-color="#4078c9"/><stop offset="0.529" stop-color="#468bd5"/><stop offset="0.538" stop-color="#4793d9"/><stop offset="0.555" stop-color="#3fa5e4"/><stop offset="0.571" stop-color="#3db4ec"/><stop offset="0.588" stop-color="#52bbdf"/><stop offset="0.63" stop-color="#6fc5c5"/><stop offset="0.681" stop-color="#84ccaf"/><stop offset="0.723" stop-color="#99d19b"/><stop offset="0.824" stop-color="#cadb67"/><stop offset="0.975" stop-color="#e4e242"/><stop offset="1" stop-color="#e4e242"/></linearGradient>
<linearGradient id="md28"><stop offset="0" stop-color="#3b64b7"/><stop offset="0.067" stop-color="#395eb3"/><stop offset="0.193" stop-color="#2c51a8"/><stop offset="0.227" stop-color="#2a4fa7"/><stop offset="0.235" stop-color="#3457ae"/><stop offset="0.311" stop-color="#365ab0"/><stop offset="0.487" stop-color="#3c6abc"/><stop offset="0.513" stop-color="#3f75c7"/><stop offset="0.538" stop-color="#468cd5"/><stop offset="0.546" stop-color="#4695da"/><stop offset="0.571" stop-color="#3db0ea"/><stop offset="0.58" stop-color="#44b6e8"/><stop offset="0.597" stop-color="#58bdda"/><stop offset="0.63" stop-color="#6fc5c6"/><stop offset="0.681" stop-color="#84ccaf"/><stop offset="0.723" stop-color="#9ad19b"/><stop offset="0.815" stop-color="#c9da69"/><stop offset="0.941" stop-color="#e1e146"/><stop offset="0.983" stop-color="#e6e33f"/><stop offset="1" stop-color="#e6e33f"/></linearGradient>
<linearGradient id="md29"><stop offset="0" stop-color="#3a61b5"/><stop offset="0.067" stop-color="#385cb1"/><stop offset="0.16" stop-color="#2c51a8"/><stop offset="0.235" stop-color="#284ea5"/><stop offset="0.244" stop-color="#3054ab"/><stop offset="0.328" stop-color="#3659af"/><stop offset="0.487" stop-color="#3b66b9"/><stop offset="0.513" stop-color="#3d6fc1"/><stop offset="0.538" stop-color="#4384d1"/><stop offset="0.546" stop-color="#478ed6"/><stop offset="0.571" stop-color="#3eade9"/><stop offset="0.58" stop-color="#40b5ea"/><stop offset="0.597" stop-color="#56bcdc"/><stop offset="0.63" stop-color="#6fc5c6"/><stop offset="0.681" stop-color="#84ccaf"/><stop offset="0.756" stop-color="#add487"/><stop offset="0.815" stop-color="#cbdb67"/><stop offset="0.975" stop-color="#e8e43d"/><stop offset="1" stop-color="#e8e43d"/></linearGradient>
<linearGradient id="md30"><stop offset="0" stop-color="#3a5fb3"/><stop offset="0.059" stop-color="#375bb0"/><stop offset="0.143" stop-color="#2b50a7"/><stop offset="0.235" stop-color="#274da5"/><stop offset="0.244" stop-color="#2d52a9"/><stop offset="0.319" stop-color="#3356ad"/><stop offset="0.412" stop-color="#395eb3"/><stop offset="0.487" stop-color="#3b63b7"/><stop offset="0.513" stop-color="#3c6abd"/><stop offset="0.538" stop-color="#417ecd"/><stop offset="0.555" stop-color="#4794d9"/><stop offset="0.571" stop-color="#3eaae7"/><stop offset="0.58" stop-color="#3db4ec"/><stop offset="0.597" stop-color="#55bcdd"/><stop offset="0.63" stop-color="#6ec5c7"/><stop offset="0.689" stop-color="#88cdac"/><stop offset="0.748" stop-color="#aad48b"/><stop offset="0.807" stop-color="#c9db68"/><stop offset="0.966" stop-color="#e9e43c"/><stop offset="1" stop-color="#e9e43b"/></linearGradient>
<linearGradient id="md31"><stop offset="0" stop-color="#395eb2"/><stop offset="0.05" stop-color="#365ab0"/><stop offset="0.134" stop-color="#2a4fa7"/><stop offset="0.235" stop-color="#254ba4"/><stop offset="0.244" stop-color="#2b50a7"/><stop offset="0.311" stop-color="#2f53aa"/><stop offset="0.403" stop-color="#385db1"/><stop offset="0.487" stop-color="#3a61b4"/><stop offset="0.521" stop-color="#3c6bbe"/><stop offset="0.538" stop-color="#4079ca"/><stop offset="0.555" stop-color="#4790d7"/><stop offset="0.571" stop-color="#3fa8e6"/><stop offset="0.58" stop-color="#3db2eb"/><stop offset="0.597" stop-color="#53bbde"/><stop offset="0.63" stop-color="#6dc4c8"/><stop offset="0.689" stop-color="#86cdad"/><stop offset="0.739" stop-color="#a5d38f"/><stop offset="0.798" stop-color="#c9da68"/><stop offset="0.966" stop-color="#eae43a"/><stop offset="1" stop-color="#ebe539"/></linearGradient>
<linearGradient id="md32"><stop offset="0" stop-color="#385db2"/><stop offset="0.042" stop-color="#375ab0"/><stop offset="0.126" stop-color="#2a4fa6"/><stop offset="0.244" stop-color="#244aa3"/><stop offset="0.252" stop-color="#294fa6"/><stop offset="0.328" stop-color="#3054ab"/><stop offset="0.429" stop-color="#385cb1"/><stop offset="0.496" stop-color="#3a60b4"/><stop offset="0.521" stop-color="#3c68bb"/><stop offset="0.538" stop-color="#3f76c7"/><stop offset="0.555" stop-color="#468dd5"/><stop offset="0.58" stop-color="#3db0ea"/><stop offset="0.588" stop-color="#45b7e7"/><stop offset="0.597" stop-color="#52bbdf"/><stop offset="0.63" stop-color="#6cc4c9"/><stop offset="0.689" stop-color="#84ccb0"/><stop offset="0.739" stop-color="#a7d38e"/><stop offset="0.79" stop-color="#c9da69"/><stop offset="0.857" stop-color="#d6de56"/><stop offset="0.966" stop-color="#ebe538"/><stop offset="1" stop-color="#ece537"/></linearGradient>
<linearGradient id="md33"><stop offset="0" stop-color="#385cb1"/><stop offset="0.042" stop-color="#3659af"/><stop offset="0.118" stop-color="#2a4fa7"/><stop offset="0.244" stop-color="#2349a2"/><stop offset="0.252" stop-color="#284ea5"/><stop offset="0.353" stop-color="#3255ac"/><stop offset="0.437" stop-color="#375bb0"/><stop offset="0.496" stop-color="#3a5fb4"/><stop offset="0.529" stop-color="#3d6cbf"/><stop offset="0.546" stop-color="#417ecd"/><stop offset="0.555" stop-color="#468bd4"/><stop offset="0.563" stop-color="#4598dc"/><stop offset="0.571" stop-color="#3fa5e4"/><stop offset="0.58" stop-color="#3eafea"/><stop offset="0.588" stop-color="#44b6e7"/><stop offset="0.597" stop-color="#51bbe0"/><stop offset="0.63" stop-color="#6bc4ca"/><stop offset="0.689" stop-color="#82cbb1"/><stop offset="0.731" stop-color="#a1d294"/><stop offset="0.773" stop-color="#c4d96e"/><stop offset="0.798" stop-color="#cedc61"/><stop offset="0.899" stop-color="#e0e148"/><stop offset="0.975" stop-color="#ede535"/><stop offset="1" stop-color="#ede535"/></linearGradient>
<linearGradient id="md34"><stop offset="0" stop-color="#385cb1"/><stop offset="0.042" stop-color="#3559af"/><stop offset="0.118" stop-color="#2a4fa6"/><stop offset="0.244" stop-color="#2248a1"/><stop offset="0.252" stop-color="#274da5"/><stop offset="0.429" stop-color="#365ab0"/><stop offset="0.496" stop-color="#395fb3"/><stop offset="0.529" stop-color="#3c6bbe"/><stop offset="0.546" stop-color="#417dcd"/><stop offset="0.555" stop-color="#458ad4"/><stop offset="0.563" stop-color="#4598dc"/><stop offset="0.571" stop-color="#3fa5e5"/><stop offset="0.58" stop-color="#3db0ea"/><stop offset="0.588" stop-color="#46b7e7"/><stop offset="0.597" stop-color="#52bbdf"/><stop offset="0.63" stop-color="#6bc4ca"/><stop offset="0.689" stop-color="#81cbb2"/><stop offset="0.731" stop-color="#a2d393"/><stop offset="0.765" stop-color="#c3d96f"/><stop offset="0.79" stop-color="#cfdc61"/><stop offset="0.882" stop-color="#dde04c"/><stop offset="0.958" stop-color="#ece536"/><stop offset="1" stop-color="#eee634"/></linearGradient>
<linearGradient id="md35"><stop offset="0" stop-color="#385cb1"/><stop offset="0.042" stop-color="#3559af"/><stop offset="0.118" stop-color="#2a4fa6"/><stop offset="0.244" stop-color="#2248a2"/><stop offset="0.252" stop-color="#274da5"/><stop offset="0.437" stop-color="#3659af"/><stop offset="0.504" stop-color="#3a61b5"/><stop offset="0.529" stop-color="#3c6bbe"/><stop offset="0.546" stop-color="#417ecd"/><stop offset="0.555" stop-color="#468cd5"/><stop offset="0.58" stop-color="#3db2eb"/><stop offset="0.597" stop-color="#55bcdd"/><stop offset="0.622" stop-color="#68c3cc"/><stop offset="0.689" stop-color="#83ccb1"/><stop offset="0.723" stop-color="#9bd199"/><stop offset="0.765" stop-color="#c8da6a"/><stop offset="0.79" stop-color="#d1dd5d"/><stop offset="0.866" stop-color="#dbdf4f"/><stop offset="0.95" stop-color="#ede536"/><stop offset="0.992" stop-color="#efe632"/><stop offset="1" stop-color="#efe632"/></linearGradient>
<linearGradient id="md36"><stop offset="0" stop-color="#385cb1"/><stop offset="0.042" stop-color="#3659af"/><stop offset="0.126" stop-color="#294fa6"/><stop offset="0.235" stop-color="#2349a2"/><stop offset="0.252" stop-color="#244aa2"/><stop offset="0.269" stop-color="#284ea6"/><stop offset="0.487" stop-color="#395eb2"/><stop offset="0.521" stop-color="#3c67ba"/><stop offset="0.538" stop-color="#3f75c6"/><stop offset="0.555" stop-color="#478ed6"/><stop offset="0.571" stop-color="#3eaae7"/><stop offset="0.58" stop-color="#3fb5eb"/><stop offset="0.588" stop-color="#4ebae1"/><stop offset="0.605" stop-color="#60c0d3"/><stop offset="0.63" stop-color="#70c5c5"/><stop offset="0.681" stop-color="#83ccb0"/><stop offset="0.723" stop-color="#9ed297"/><stop offset="0.765" stop-color="#cadb67"/><stop offset="0.798" stop-color="#d4dd59"/><stop offset="0.866" stop-color="#dce04d"/><stop offset="0.95" stop-color="#eee634"/><stop offset="1" stop-color="#f1e730"/></linearGradient>
<linearGradient id="md37"><stop offset="0" stop-color="#385db1"/><stop offset="0.042" stop-color="#365ab0"/><stop offset="0.134" stop-color="#294fa6"/><stop offset="0.235" stop-color="#244aa3"/><stop offset="0.252" stop-color="#254ba3"/><stop offset="0.269" stop-color="#2a4fa6"/><stop offset="0.479" stop-color="#395eb3"/><stop offset="0.521" stop-color="#3c69bc"/><stop offset="0.538" stop-color="#4079c9"/><stop offset="0.555" stop-color="#4794d9"/><stop offset="0.563" stop-color="#40a2e3"/><stop offset="0.571" stop-color="#3eaee9"/><stop offset="0.58" stop-color="#46b7e7"/><stop offset="0.588" stop-color="#54bcdd"/><stop offset="0.613" stop-color="#6cc4c9"/><stop offset="0.697" stop-color="#94d0a1"/><stop offset="0.723" stop-color="#a3d391"/><stop offset="0.765" stop-color="#cbdb66"/><stop offset="0.798" stop-color="#d5de57"/><stop offset="0.874" stop-color="#e1e146"/><stop offset="0.95" stop-color="#f0e631"/><stop offset="1" stop-color="#f2e72e"/></linearGradient>
<linearGradient id="md38"><stop offset="0" stop-color="#395eb2"/><stop offset="0.05" stop-color="#365ab0"/><stop offset="0.151" stop-color="#294ea6"/><stop offset="0.235" stop-color="#264ca4"/><stop offset="0.328" stop-color="#3054ab"/><stop offset="0.471" stop-color="#3a5fb3"/><stop offset="0.513" stop-color="#3c69bc"/><stop offset="0.529" stop-color="#3f76c7"/><stop offset="0.538" stop-color="#4280cf"/><stop offset="0.546" stop-color="#478ed6"/><stop offset="0.563" stop-color="#3eaae7"/><stop offset="0.571" stop-color="#40b5ea"/><stop offset="0.58" stop-color="#51bbe0"/><stop offset="0.605" stop-color="#6dc4c8"/><stop offset="0.647" stop-color="#85ccae"/><stop offset="0.681" stop-color="#94d0a0"/><stop offset="0.714" stop-color="#a3d392"/><stop offset="0.748" stop-color="#bdd776"/><stop offset="0.765" stop-color="#cbdb66"/><stop offset="0.798" stop-color="#d6de56"/><stop offset="0.882" stop-color="#e6e33f"/><stop offset="0.95" stop-color="#f2e72e"/><stop offset="1" stop-color="#f4e82c"/></linearGradient>
<linearGradient id="md39"><stop offset="0" stop-color="#395fb3"/><stop offset="0.059" stop-color="#375ab0"/><stop offset="0.16" stop-color="#2a4fa6"/><stop offset="0.244" stop-color="#2a4fa6"/><stop offset="0.261" stop-color="#2b50a7"/><stop offset="0.277" stop-color="#3154ab"/><stop offset="0.429" stop-color="#395db2"/><stop offset="0.487" stop-color="#3c68bb"/><stop offset="0.521" stop-color="#407acb"/><stop offset="0.538" stop-color="#478fd6"/><stop offset="0.555" stop-color="#3ea9e6"/><stop offset="0.563" stop-color="#3eb4eb"/><stop offset="0.571" stop-color="#4fbae1"/><stop offset="0.597" stop-color="#6fc5c6"/><stop offset="0.639" stop-color="#8ecfa6"/><stop offset="0.706" stop-color="#a5d38f"/><stop offset="0.739" stop-color="#bad67a"/><stop offset="0.765" stop-color="#ccdb64"/><stop offset="0.807" stop-color="#d9df52"/><stop offset="0.933" stop-color="#f2e72e"/><stop offset="1" stop-color="#f5e72a"/></linearGradient>
<linearGradient id="md40"><stop offset="0" stop-color="#3a60b4"/><stop offset="0.067" stop-color="#385cb1"/><stop offset="0.176" stop-color="#2b50a7"/><stop offset="0.244" stop-color="#2e52a9"/><stop offset="0.261" stop-color="#3054ab"/><stop offset="0.269" stop-color="#3559af"/><stop offset="0.429" stop-color="#3a61b5"/><stop offset="0.471" stop-color="#3d6dc0"/><stop offset="0.513" stop-color="#4487d3"/><stop offset="0.521" stop-color="#478fd7"/><stop offset="0.546" stop-color="#3eade9"/><stop offset="0.555" stop-color="#43b6e8"/><stop offset="0.563" stop-color="#53bbde"/><stop offset="0.588" stop-color="#71c6c3"/><stop offset="0.622" stop-color="#91cfa3"/><stop offset="0.714" stop-color="#b0d584"/><stop offset="0.739" stop-color="#bfd874"/><stop offset="0.765" stop-color="#cedc62"/><stop offset="0.815" stop-color="#dce04e"/><stop offset="0.924" stop-color="#f4e82c"/><stop offset="1" stop-color="#f5e328"/></linearGradient>
<linearGradient id="md41"><stop offset="0" stop-color="#3b63b7"/><stop offset="0.076" stop-color="#395db2"/><stop offset="0.185" stop-color="#2f53aa"/><stop offset="0.252" stop-color="#365ab0"/><stop offset="0.286" stop-color="#3a61b5"/><stop offset="0.412" stop-color="#3b64b7"/><stop offset="0.437" stop-color="#3c6abd"/><stop offset="0.479" stop-color="#458ad4"/><stop offset="0.496" stop-color="#4695da"/><stop offset="0.529" stop-color="#3eafe9"/><stop offset="0.538" stop-color="#41b5e9"/><stop offset="0.555" stop-color="#59bed9"/><stop offset="0.605" stop-color="#91cfa3"/><stop offset="0.639" stop-color="#a3d392"/><stop offset="0.714" stop-color="#b7d67d"/><stop offset="0.765" stop-color="#cfdc60"/><stop offset="0.908" stop-color="#f4e82c"/><stop offset="0.958" stop-color="#f5df27"/><stop offset="1" stop-color="#f5df27"/></linearGradient>
<linearGradient id="md42"><stop offset="0" stop-color="#3b66b9"/><stop offset="0.059" stop-color="#3a62b5"/><stop offset="0.185" stop-color="#3559af"/><stop offset="0.261" stop-color="#3b63b7"/><stop offset="0.277" stop-color="#3c69bc"/><stop offset="0.319" stop-color="#3d6dc0"/><stop offset="0.403" stop-color="#3c6bbe"/><stop offset="0.429" stop-color="#3f76c7"/><stop offset="0.454" stop-color="#4790d7"/><stop offset="0.471" stop-color="#40a2e3"/><stop offset="0.504" stop-color="#3db4ec"/><stop offset="0.546" stop-color="#63c1d0"/><stop offset="0.58" stop-color="#83ccb0"/><stop offset="0.588" stop-color="#8fcfa5"/><stop offset="0.622" stop-color="#a8d38d"/><stop offset="0.672" stop-color="#b3d581"/><stop offset="0.706" stop-color="#bbd779"/><stop offset="0.773" stop-color="#d4dd59"/><stop offset="0.899" stop-color="#f5e82a"/><stop offset="0.933" stop-color="#f5dc27"/><stop offset="1" stop-color="#f5dc27"/></linearGradient>
<linearGradient id="md43"><stop offset="0" stop-color="#3c69bc"/><stop offset="0.092" stop-color="#3a62b6"/><stop offset="0.185" stop-color="#3a5fb3"/><stop offset="0.244" stop-color="#3c6abd"/><stop offset="0.269" stop-color="#3f76c7"/><stop offset="0.277" stop-color="#427fce"/><stop offset="0.303" stop-color="#4486d2"/><stop offset="0.395" stop-color="#427fce"/><stop offset="0.412" stop-color="#4383d1"/><stop offset="0.429" stop-color="#4892d8"/><stop offset="0.445" stop-color="#3fa4e4"/><stop offset="0.462" stop-color="#3fb5eb"/><stop offset="0.479" stop-color="#50bae0"/><stop offset="0.529" stop-color="#6ac3cb"/><stop offset="0.563" stop-color="#81cbb2"/><stop offset="0.58" stop-color="#94d0a0"/><stop offset="0.613" stop-color="#aed486"/><stop offset="0.647" stop-color="#b8d67c"/><stop offset="0.714" stop-color="#c5da6d"/><stop offset="0.891" stop-color="#f5e82a"/><stop offset="0.916" stop-color="#f5da26"/><stop offset="0.958" stop-color="#f5d926"/><stop offset="1" stop-color="#f5db26"/></linearGradient>
<linearGradient id="md44"><stop offset="0" stop-color="#3e70c2"/><stop offset="0.042" stop-color="#3d6dc0"/><stop offset="0.126" stop-color="#3b65b8"/><stop offset="0.193" stop-color="#3c68bb"/><stop offset="0.218" stop-color="#3d70c2"/><stop offset="0.252" stop-color="#4588d3"/><stop offset="0.269" stop-color="#4696da"/><stop offset="0.277" stop-color="#429fe1"/><stop offset="0.303" stop-color="#3fa5e5"/><stop offset="0.387" stop-color="#40a1e2"/><stop offset="0.412" stop-color="#3fa6e5"/><stop offset="0.429" stop-color="#3db0ea"/><stop offset="0.437" stop-color="#41b5e9"/><stop offset="0.462" stop-color="#5cbfd6"/><stop offset="0.496" stop-color="#6ec5c7"/><stop offset="0.538" stop-color="#7fcbb4"/><stop offset="0.563" stop-color="#94d0a0"/><stop offset="0.613" stop-color="#b6d67e"/><stop offset="0.647" stop-color="#c1d872"/><stop offset="0.731" stop-color="#cfdc61"/><stop offset="0.849" stop-color="#ebe538"/><stop offset="0.882" stop-color="#f4e82b"/><stop offset="0.916" stop-color="#f5d725"/><stop offset="0.958" stop-color="#f5d825"/><stop offset="1" stop-color="#f5da26"/></linearGradient>
<linearGradient id="md45"><stop offset="0" stop-color="#4079ca"/><stop offset="0.042" stop-color="#3f76c7"/><stop offset="0.126" stop-color="#3d6dbf"/><stop offset="0.176" stop-color="#3e71c3"/><stop offset="0.21" stop-color="#4280cf"/><stop offset="0.227" stop-color="#478ed6"/><stop offset="0.261" stop-color="#3eaee9"/><stop offset="0.269" stop-color="#3eb4eb"/><stop offset="0.286" stop-color="#4bb9e3"/><stop offset="0.319" stop-color="#4db9e2"/><stop offset="0.37" stop-color="#4db9e2"/><stop offset="0.42" stop-color="#5abed8"/><stop offset="0.487" stop-color="#7bc9b9"/><stop offset="0.513" stop-color="#85ccae"/><stop offset="0.58" stop-color="#aad48a"/><stop offset="0.63" stop-color="#c3d96f"/><stop offset="0.748" stop-color="#d5de57"/><stop offset="0.849" stop-color="#ede536"/><stop offset="0.882" stop-color="#f5e629"/><stop offset="0.908" stop-color="#f5d825"/><stop offset="0.941" stop-color="#f5d525"/><stop offset="0.992" stop-color="#f5db26"/><stop offset="1" stop-color="#f5db26"/></linearGradient>
<linearGradient id="md46"><stop offset="0" stop-color="#4384d1"/><stop offset="0.042" stop-color="#4281cf"/><stop offset="0.126" stop-color="#417bcb"/><stop offset="0.168" stop-color="#4281cf"/><stop offset="0.202" stop-color="#4892d8"/><stop offset="0.235" stop-color="#3eaee9"/><stop offset="0.244" stop-color="#40b5ea"/><stop offset="0.261" stop-color="#57bddb"/><stop offset="0.277" stop-color="#64c1d0"/><stop offset="0.311" stop-color="#68c3cd"/><stop offset="0.37" stop-color="#6cc4c9"/><stop offset="0.462" stop-color="#81cbb2"/><stop offset="0.496" stop-color="#92d0a2"/><stop offset="0.546" stop-color="#a4d391"/><stop offset="0.63" stop-color="#c8da6a"/><stop offset="0.765" stop-color="#dbe04e"/><stop offset="0.866" stop-color="#f3e72d"/><stop offset="0.874" stop-color="#f5e82a"/><stop offset="0.908" stop-color="#f5d725"/><stop offset="0.941" stop-color="#f5d625"/><stop offset="0.983" stop-color="#f5dc27"/><stop offset="1" stop-color="#f5dc27"/></linearGradient>
<linearGradient id="md47"><stop offset="0" stop-color="#4891d7"/><stop offset="0.109" stop-color="#468cd5"/><stop offset="0.16" stop-color="#4794d9"/><stop offset="0.202" stop-color="#3fa8e6"/><stop offset="0.218" stop-color="#3db3ec"/><stop offset="0.261" stop-color="#69c3cc"/><stop offset="0.277" stop-color="#75c7bf"/><stop offset="0.353" stop-color="#7fcbb5"/><stop offset="0.403" stop-color="#95d09f"/><stop offset="0.454" stop-color="#92d0a2"/><stop offset="0.513" stop-color="#a3d392"/><stop offset="0.613" stop-color="#c7da6b"/><stop offset="0.79" stop-color="#e3e243"/><stop offset="0.866" stop-color="#f5e82a"/><stop offset="0.899" stop-color="#f5d825"/><stop offset="0.933" stop-color="#f5d625"/><stop offset="0.983" stop-color="#f5de27"/><stop offset="1" stop-color="#f5de27"/></linearGradient>
<linearGradient id="md48"><stop offset="0" stop-color="#429ee0"/><stop offset="0.101" stop-color="#429ee0"/><stop offset="0.168" stop-color="#3eabe7"/><stop offset="0.193" stop-color="#3eb4eb"/><stop offset="0.261" stop-color="#72c6c2"/><stop offset="0.286" stop-color="#7dcab6"/><stop offset="0.378" stop-color="#a1d293"/><stop offset="0.403" stop-color="#aed486"/><stop offset="0.42" stop-color="#a9d48c"/><stop offset="0.437" stop-color="#9fd296"/><stop offset="0.462" stop-color="#9dd298"/><stop offset="0.513" stop-color="#add487"/><stop offset="0.58" stop-color="#c5d96d"/><stop offset="0.773" stop-color="#e4e242"/><stop offset="0.857" stop-color="#f5e82a"/><stop offset="0.891" stop-color="#f5d825"/><stop offset="0.924" stop-color="#f5d525"/><stop offset="0.983" stop-color="#f5e128"/><stop offset="1" stop-color="#f5e128"/></linearGradient>
<linearGradient id="md49"><stop offset="0" stop-color="#3eaae7"/><stop offset="0.101" stop-color="#3eaee9"/><stop offset="0.143" stop-color="#3fb5eb"/><stop offset="0.202" stop-color="#59bdd9"/><stop offset="0.261" stop-color="#77c8bd"/><stop offset="0.286" stop-color="#7fcbb4"/><stop offset="0.311" stop-color="#93d0a2"/><stop offset="0.361" stop-color="#a8d38d"/><stop offset="0.403" stop-color="#c1d871"/><stop offset="0.412" stop-color="#bdd776"/><stop offset="0.42" stop-color="#b1d583"/><stop offset="0.437" stop-color="#a4d391"/><stop offset="0.462" stop-color="#a2d393"/><stop offset="0.521" stop-color="#b8d67c"/><stop offset="0.555" stop-color="#c8da69"/><stop offset="0.597" stop-color="#ccdb65"/><stop offset="0.639" stop-color="#d0dc5f"/><stop offset="0.84" stop-color="#f4e82b"/><stop offset="0.882" stop-color="#f5d525"/><stop offset="0.916" stop-color="#f5d324"/><stop offset="0.975" stop-color="#f5e228"/><stop offset="1" stop-color="#f5e228"/></linearGradient>
<linearGradient id="md50"><stop offset="0" stop-color="#40b5ea"/><stop offset="0.076" stop-color="#44b6e7"/><stop offset="0.185" stop-color="#61c0d3"/><stop offset="0.261" stop-color="#7bc9b9"/><stop offset="0.286" stop-color="#80cbb3"/><stop offset="0.303" stop-color="#92d0a2"/><stop offset="0.37" stop-color="#b4d580"/><stop offset="0.395" stop-color="#bcd778"/><stop offset="0.403" stop-color="#b8d67c"/><stop offset="0.42" stop-color="#a4d391"/><stop offset="0.445" stop-color="#a1d294"/><stop offset="0.496" stop-color="#b2d582"/><stop offset="0.546" stop-color="#ccdb65"/><stop offset="0.58" stop-color="#cfdc60"/><stop offset="0.622" stop-color="#cfdc60"/><stop offset="0.824" stop-color="#f5e82a"/><stop offset="0.857" stop-color="#f5d424"/><stop offset="0.891" stop-color="#f5cf23"/><stop offset="0.933" stop-color="#f5d625"/><stop offset="0.975" stop-color="#f5e228"/><stop offset="1" stop-color="#f5e228"/></linearGradient>
<linearGradient id="md51"><stop offset="0" stop-color="#51bbe0"/><stop offset="0.076" stop-color="#56bddb"/><stop offset="0.202" stop-color="#73c6c2"/><stop offset="0.277" stop-color="#85ccae"/><stop offset="0.336" stop-color="#aad48a"/><stop offset="0.37" stop-color="#b6d67e"/><stop offset="0.387" stop-color="#b6d67f"/><stop offset="0.403" stop-color="#acd489"/><stop offset="0.42" stop-color="#9ed297"/><stop offset="0.445" stop-color="#a0d295"/><stop offset="0.504" stop-color="#bad779"/><stop offset="0.538" stop-color="#ccdb64"/><stop offset="0.571" stop-color="#d2dd5c"/><stop offset="0.63" stop-color="#d3dd5a"/><stop offset="0.765" stop-color="#eee633"/><stop offset="0.79" stop-color="#f5e82a"/><stop offset="0.857" stop-color="#f5c620"/><stop offset="0.882" stop-color="#f5c720"/><stop offset="0.975" stop-color="#f5df27"/><stop offset="1" stop-color="#f5df27"/></linearGradient>
<linearGradient id="md52"><stop offset="0" stop-color="#5dbfd6"/><stop offset="0.059" stop-color="#61c0d2"/><stop offset="0.235" stop-color="#85ccaf"/><stop offset="0.294" stop-color="#97d09e"/><stop offset="0.345" stop-color="#b1d584"/><stop offset="0.37" stop-color="#b5d67f"/><stop offset="0.395" stop-color="#aed487"/><stop offset="0.42" stop-color="#9fd296"/><stop offset="0.445" stop-color="#a1d293"/><stop offset="0.504" stop-color="#bed875"/><stop offset="0.538" stop-color="#cedc61"/><stop offset="0.571" stop-color="#d4de59"/><stop offset="0.639" stop-color="#d8df53"/><stop offset="0.756" stop-color="#f0e631"/><stop offset="0.773" stop-color="#f5e82a"/><stop offset="0.815" stop-color="#f5c821"/><stop offset="0.849" stop-color="#f5b71c"/><stop offset="0.866" stop-color="#f5b61c"/><stop offset="0.916" stop-color="#f5ce22"/><stop offset="0.983" stop-color="#f5db26"/><stop offset="1" stop-color="#f5db26"/></linearGradient>
<linearGradient id="md53"><stop offset="0" stop-color="#68c3cc"/><stop offset="0.05" stop-color="#6cc4c9"/><stop offset="0.193" stop-color="#89cdab"/><stop offset="0.286" stop-color="#9ad19a"/><stop offset="0.345" stop-color="#b3d582"/><stop offset="0.37" stop-color="#b5d580"/><stop offset="0.403" stop-color="#a9d48b"/><stop offset="0.429" stop-color="#a3d392"/><stop offset="0.462" stop-color="#abd489"/><stop offset="0.496" stop-color="#bcd777"/><stop offset="0.529" stop-color="#cddc63"/><stop offset="0.571" stop-color="#d6de56"/><stop offset="0.655" stop-color="#dee04a"/><stop offset="0.756" stop-color="#f4e82c"/><stop offset="0.765" stop-color="#f5e529"/><stop offset="0.824" stop-color="#f4b21c"/><stop offset="0.849" stop-color="#f3a21c"/><stop offset="0.866" stop-color="#f3a41c"/><stop offset="0.899" stop-color="#f5bf1e"/><stop offset="0.924" stop-color="#f5ca21"/><stop offset="0.983" stop-color="#f5d625"/><stop offset="1" stop-color="#f5d625"/></linearGradient>
<linearGradient id="md54"><stop offset="0" stop-color="#72c6c2"/><stop offset="0.05" stop-color="#76c7bf"/><stop offset="0.118" stop-color="#85ccaf"/><stop offset="0.168" stop-color="#92d0a2"/><stop offset="0.277" stop-color="#9fd296"/><stop offset="0.345" stop-color="#b5d57f"/><stop offset="0.378" stop-color="#b4d580"/><stop offset="0.429" stop-color="#a8d38d"/><stop offset="0.462" stop-color="#b0d585"/><stop offset="0.496" stop-color="#c0d873"/><stop offset="0.529" stop-color="#cfdc60"/><stop offset="0.588" stop-color="#dadf51"/><stop offset="0.697" stop-color="#e9e43a"/><stop offset="0.748" stop-color="#f4e82b"/><stop offset="0.773" stop-color="#f5d524"/><stop offset="0.815" stop-color="#f4ac1c"/><stop offset="0.84" stop-color="#f1941d"/><stop offset="0.857" stop-color="#f18f1d"/><stop offset="0.874" stop-color="#f2991d"/><stop offset="0.908" stop-color="#f5bb1d"/><stop offset="0.941" stop-color="#f5c821"/><stop offset="0.983" stop-color="#f5d023"/><stop offset="1" stop-color="#f5d023"/></linearGradient>
<linearGradient id="md55"><stop offset="0" stop-color="#7bc9b9"/><stop offset="0.042" stop-color="#7dcab6"/><stop offset="0.134" stop-color="#97d09e"/><stop offset="0.286" stop-color="#aad48a"/><stop offset="0.345" stop-color="#b8d67c"/><stop offset="0.387" stop-color="#b4d580"/><stop offset="0.429" stop-color="#aed486"/><stop offset="0.471" stop-color="#b8d67c"/><stop offset="0.521" stop-color="#cfdc61"/><stop offset="0.605" stop-color="#dfe149"/><stop offset="0.739" stop-color="#f5e82b"/><stop offset="0.782" stop-color="#f5c821"/><stop offset="0.807" stop-color="#f4ae1c"/><stop offset="0.84" stop-color="#f0871d"/><stop offset="0.849" stop-color="#ef811d"/><stop offset="0.857" stop-color="#ef801d"/><stop offset="0.874" stop-color="#f08d1d"/><stop offset="0.908" stop-color="#f4b31c"/><stop offset="0.933" stop-color="#f5c01e"/><stop offset="0.975" stop-color="#f5cd22"/><stop offset="1" stop-color="#f5cd22"/></linearGradient>
<linearGradient id="md56"><stop offset="0" stop-color="#86cdad"/><stop offset="0.034" stop-color="#88cdac"/><stop offset="0.151" stop-color="#a4d391"/><stop offset="0.294" stop-color="#b4d581"/><stop offset="0.353" stop-color="#bdd776"/><stop offset="0.429" stop-color="#b5d580"/><stop offset="0.462" stop-color="#bbd778"/><stop offset="0.521" stop-color="#d2dd5c"/><stop offset="0.63" stop-color="#e6e33f"/><stop offset="0.731" stop-color="#f5e82a"/><stop offset="0.773" stop-color="#f5cb22"/><stop offset="0.807" stop-color="#f4ab1c"/><stop offset="0.84" stop-color="#ef821d"/><stop offset="0.849" stop-color="#ee7c1e"/><stop offset="0.857" stop-color="#ee7b1e"/><stop offset="0.874" stop-color="#f0881d"/><stop offset="0.908" stop-color="#f4ad1c"/><stop offset="0.933" stop-color="#f5bc1d"/><stop offset="0.975" stop-color="#f5cc22"/><stop offset="1" stop-color="#f5cc22"/></linearGradient>
<linearGradient id="md57"><stop offset="0" stop-color="#92d0a2"/><stop offset="0.042" stop-color="#95d09f"/><stop offset="0.16" stop-color="#afd585"/><stop offset="0.286" stop-color="#bbd779"/><stop offset="0.345" stop-color="#c3d970"/><stop offset="0.429" stop-color="#bcd777"/><stop offset="0.471" stop-color="#c6da6c"/><stop offset="0.555" stop-color="#dce04d"/><stop offset="0.655" stop-color="#ede535"/><stop offset="0.723" stop-color="#f5e82a"/><stop offset="0.765" stop-color="#f5cf23"/><stop offset="0.798" stop-color="#f4b31c"/><stop offset="0.84" stop-color="#f0871d"/><stop offset="0.857" stop-color="#ef821d"/><stop offset="0.874" stop-color="#f08c1d"/><stop offset="0.916" stop-color="#f4b31c"/><stop offset="0.975" stop-color="#f5ce23"/><stop offset="1" stop-color="#f5ce23"/></linearGradient>
<linearGradient id="md58"><stop offset="0" stop-color="#9ad19a"/><stop offset="0.042" stop-color="#9dd298"/><stop offset="0.16" stop-color="#b9d67b"/><stop offset="0.345" stop-color="#cadb68"/><stop offset="0.429" stop-color="#c5d96d"/><stop offset="0.496" stop-color="#d3dd5b"/><stop offset="0.613" stop-color="#ebe538"/><stop offset="0.714" stop-color="#f5e72a"/><stop offset="0.756" stop-color="#f5d424"/><stop offset="0.798" stop-color="#f5b61c"/><stop offset="0.832" stop-color="#f1981d"/><stop offset="0.849" stop-color="#f18f1d"/><stop offset="0.866" stop-color="#f1921d"/><stop offset="0.924" stop-color="#f5bd1d"/><stop offset="0.975" stop-color="#f5d424"/><stop offset="1" stop-color="#f5d424"/></linearGradient>
<linearGradient id="md59"><stop offset="0" stop-color="#a3d392"/><stop offset="0.034" stop-color="#a4d391"/><stop offset="0.168" stop-color="#c7da6b"/><stop offset="0.319" stop-color="#cfdc60"/><stop offset="0.437" stop-color="#cedc62"/><stop offset="0.521" stop-color="#dde04c"/><stop offset="0.622" stop-color="#efe632"/><stop offset="0.706" stop-color="#f5e72a"/><stop offset="0.756" stop-color="#f5d625"/><stop offset="0.815" stop-color="#f4b01c"/><stop offset="0.84" stop-color="#f3a21c"/><stop offset="0.857" stop-color="#f2a01d"/><stop offset="0.882" stop-color="#f4ab1c"/><stop offset="0.924" stop-color="#f5c620"/><stop offset="0.975" stop-color="#f5dd27"/><stop offset="1" stop-color="#f5dd27"/></linearGradient>
<linearGradient id="md60"><stop offset="0" stop-color="#abd489"/><stop offset="0.034" stop-color="#add488"/><stop offset="0.101" stop-color="#c1d871"/><stop offset="0.151" stop-color="#cedc62"/><stop offset="0.244" stop-color="#d4dd5a"/><stop offset="0.37" stop-color="#d4dd5a"/><stop offset="0.437" stop-color="#d3dd5a"/><stop offset="0.521" stop-color="#e1e146"/><stop offset="0.613" stop-color="#f0e631"/><stop offset="0.664" stop-color="#f5e82a"/><stop offset="0.723" stop-color="#f5e329"/><stop offset="0.773" stop-color="#f5d324"/><stop offset="0.832" stop-color="#f5b71c"/><stop offset="0.857" stop-color="#f5b41c"/><stop offset="0.899" stop-color="#f5c720"/><stop offset="0.966" stop-color="#f5e62a"/><stop offset="1" stop-color="#f4e82b"/></linearGradient>
<linearGradient id="md61"><stop offset="0" stop-color="#b3d581"/><stop offset="0.034" stop-color="#b5d67f"/><stop offset="0.118" stop-color="#cfdc60"/><stop offset="0.193" stop-color="#d9df52"/><stop offset="0.336" stop-color="#dadf50"/><stop offset="0.429" stop-color="#d8df53"/><stop offset="0.504" stop-color="#e2e245"/><stop offset="0.588" stop-color="#efe633"/><stop offset="0.655" stop-color="#f5e72a"/><stop offset="0.731" stop-color="#f5e529"/><stop offset="0.79" stop-color="#f5d524"/><stop offset="0.84" stop-color="#f5c720"/><stop offset="0.866" stop-color="#f5ca21"/><stop offset="0.933" stop-color="#f5e82b"/><stop offset="0.983" stop-color="#eee634"/><stop offset="1" stop-color="#eee634"/></linearGradient>
<linearGradient id="md62"><stop offset="0" stop-color="#bcd777"/><stop offset="0.025" stop-color="#bcd777"/><stop offset="0.092" stop-color="#d1dd5e"/><stop offset="0.168" stop-color="#dee04b"/><stop offset="0.252" stop-color="#e2e245"/><stop offset="0.429" stop-color="#dee04b"/><stop offset="0.622" stop-color="#f3e72c"/><stop offset="0.697" stop-color="#f5e82b"/><stop offset="0.765" stop-color="#f5e72a"/><stop offset="0.832" stop-color="#f5db26"/><stop offset="0.866" stop-color="#f5e028"/><stop offset="0.891" stop-color="#f4e82b"/><stop offset="0.983" stop-color="#e6e340"/><stop offset="1" stop-color="#e6e340"/></linearGradient>
<linearGradient id="md63"><stop offset="0" stop-color="#c6da6c"/><stop offset="0.025" stop-color="#c6da6c"/><stop offset="0.143" stop-color="#e1e146"/><stop offset="0.218" stop-color="#e9e43b"/><stop offset="0.336" stop-color="#e6e33f"/><stop offset="0.429" stop-color="#e4e242"/><stop offset="0.605" stop-color="#f2e72e"/><stop offset="0.672" stop-color="#f5e82a"/><stop offset="0.79" stop-color="#f2e72e"/><stop offset="0.857" stop-color="#f1e730"/><stop offset="0.983" stop-color="#dde04c"/><stop offset="1" stop-color="#dde04c"/></linearGradient>
<linearGradient id="md64"><stop offset="0" stop-color="#cedc62"/><stop offset="0.034" stop-color="#cfdc60"/><stop offset="0.151" stop-color="#eae43a"/><stop offset="0.227" stop-color="#f0e631"/><stop offset="0.353" stop-color="#ebe538"/><stop offset="0.445" stop-color="#eae43a"/><stop offset="0.58" stop-color="#f2e72e"/><stop offset="0.672" stop-color="#f4e82b"/><stop offset="0.857" stop-color="#e9e43b"/><stop offset="0.975" stop-color="#d5de57"/><stop offset="1" stop-color="#d5de57"/></linearGradient>
<linearGradient id="md65"><stop offset="0" stop-color="#d4dd59"/><stop offset="0.034" stop-color="#d5de57"/><stop offset="0.143" stop-color="#eee633"/><stop offset="0.202" stop-color="#f5e62a"/><stop offset="0.261" stop-color="#f5e329"/><stop offset="0.319" stop-color="#f4e82c"/><stop offset="0.429" stop-color="#efe633"/><stop offset="0.571" stop-color="#f4e82c"/><stop offset="0.672" stop-color="#f4e82b"/><stop offset="0.857" stop-color="#e2e245"/><stop offset="0.975" stop-color="#cedc62"/><stop offset="1" stop-color="#cedc62"/></linearGradient>
<linearGradient id="md66"><stop offset="0" stop-color="#d9df52"/><stop offset="0.034" stop-color="#dbdf4f"/><stop offset="0.143" stop-color="#f4e82b"/><stop offset="0.21" stop-color="#f5d424"/><stop offset="0.261" stop-color="#f5d224"/><stop offset="0.387" stop-color="#f5e82a"/><stop offset="0.504" stop-color="#f5e529"/><stop offset="0.563" stop-color="#f5e429"/><stop offset="0.613" stop-color="#f5e82a"/><stop offset="0.681" stop-color="#f3e72d"/><stop offset="0.866" stop-color="#dbdf4f"/><stop offset="0.975" stop-color="#c5d96d"/><stop offset="1" stop-color="#c5d96d"/></linearGradient>
<linearGradient id="md67"><stop offset="0" stop-color="#dee04a"/><stop offset="0.034" stop-color="#e0e148"/><stop offset="0.118" stop-color="#f5e82a"/><stop offset="0.176" stop-color="#f5cc22"/><stop offset="0.227" stop-color="#f5c11f"/><stop offset="0.277" stop-color="#f5c420"/><stop offset="0.403" stop-color="#f5dc27"/><stop offset="0.487" stop-color="#f5dc27"/><stop offset="0.555" stop-color="#f5da26"/><stop offset="0.622" stop-color="#f5e128"/><stop offset="0.681" stop-color="#f4e82c"/><stop offset="0.882" stop-color="#d3dd5a"/><stop offset="0.975" stop-color="#bbd778"/><stop offset="1" stop-color="#bbd778"/></linearGradient>
<linearGradient id="md68"><stop offset="0" stop-color="#e4e243"/><stop offset="0.034" stop-color="#e5e340"/><stop offset="0.092" stop-color="#f5e82b"/><stop offset="0.168" stop-color="#f5c11f"/><stop offset="0.227" stop-color="#f4b11c"/><stop offset="0.269" stop-color="#f4b31c"/><stop offset="0.403" stop-color="#f5cf23"/><stop offset="0.487" stop-color="#f5d123"/><stop offset="0.563" stop-color="#f5d123"/><stop offset="0.664" stop-color="#f5e329"/><stop offset="0.689" stop-color="#f3e72d"/><stop offset="0.882" stop-color="#cfdc60"/><stop offset="0.958" stop-color="#b7d67d"/><stop offset="1" stop-color="#b4d580"/></linearGradient>
<linearGradient id="md69"><stop offset="0" stop-color="#e9e43c"/><stop offset="0.034" stop-color="#eae439"/><stop offset="0.076" stop-color="#f5e72a"/><stop offset="0.143" stop-color="#f5bf1e"/><stop offset="0.202" stop-color="#f3a61c"/><stop offset="0.244" stop-color="#f2a01d"/><stop offset="0.303" stop-color="#f4ac1c"/><stop offset="0.387" stop-color="#f5c01e"/><stop offset="0.471" stop-color="#f5c720"/><stop offset="0.571" stop-color="#f5c821"/><stop offset="0.655" stop-color="#f5dc26"/><stop offset="0.689" stop-color="#f4e82b"/><stop offset="0.882" stop-color="#ccdb65"/><stop offset="0.941" stop-color="#b6d67e"/><stop offset="0.983" stop-color="#afd585"/><stop offset="1" stop-color="#afd585"/></linearGradient>
<linearGradient id="md70"><stop offset="0" stop-color="#ede535"/><stop offset="0.034" stop-color="#efe633"/><stop offset="0.059" stop-color="#f5e72a"/><stop offset="0.134" stop-color="#f5b71c"/><stop offset="0.193" stop-color="#f29b1d"/><stop offset="0.235" stop-color="#f1911d"/><stop offset="0.277" stop-color="#f1971d"/><stop offset="0.395" stop-color="#f5b61c"/><stop offset="0.487" stop-color="#f5bd1d"/><stop offset="0.58" stop-color="#f5bf1e"/><stop offset="0.664" stop-color="#f5da26"/><stop offset="0.689" stop-color="#f5e82a"/><stop offset="0.874" stop-color="#cbdb66"/><stop offset="0.924" stop-color="#b6d67e"/><stop offset="0.975" stop-color="#aad48b"/><stop offset="1" stop-color="#aad48b"/></linearGradient>
<linearGradient id="md71"><stop offset="0" stop-color="#f1e72f"/><stop offset="0.034" stop-color="#f3e72d"/><stop offset="0.042" stop-color="#f5e82a"/><stop offset="0.118" stop-color="#f5b51c"/><stop offset="0.176" stop-color="#f1951d"/><stop offset="0.235" stop-color="#ef841d"/><stop offset="0.277" stop-color="#f08a1d"/><stop offset="0.403" stop-color="#f3aa1c"/><stop offset="0.504" stop-color="#f4b31c"/><stop offset="0.58" stop-color="#f5b61c"/><stop offset="0.664" stop-color="#f5d625"/><stop offset="0.689" stop-color="#f5e629"/><stop offset="0.765" stop-color="#e3e243"/><stop offset="0.874" stop-color="#c7da6a"/><stop offset="0.916" stop-color="#b5d67f"/><stop offset="0.975" stop-color="#a6d38f"/><stop offset="1" stop-color="#a6d38f"/></linearGradient>
<linearGradient id="md72"><stop offset="0" stop-color="#f5e82a"/><stop offset="0.025" stop-color="#f5e82a"/><stop offset="0.101" stop-color="#f5b51c"/><stop offset="0.16" stop-color="#f1921d"/><stop offset="0.218" stop-color="#ee7d1e"/><stop offset="0.252" stop-color="#ee7b1e"/><stop offset="0.412" stop-color="#f2a01d"/><stop offset="0.546" stop-color="#f4ac1c"/><stop offset="0.588" stop-color="#f4b21c"/><stop offset="0.664" stop-color="#f5d424"/><stop offset="0.689" stop-color="#f5e529"/><stop offset="0.706" stop-color="#f2e72f"/><stop offset="0.866" stop-color="#c6da6c"/><stop offset="0.916" stop-color="#b1d583"/><stop offset="0.975" stop-color="#a2d293"/><stop offset="1" stop-color="#a2d293"/></linearGradient>
<linearGradient id="md73"><stop offset="0" stop-color="#f5de27"/><stop offset="0.025" stop-color="#f5de27"/><stop offset="0.092" stop-color="#f4b01c"/><stop offset="0.151" stop-color="#f08c1d"/><stop offset="0.202" stop-color="#ee781e"/><stop offset="0.244" stop-color="#ed721e"/><stop offset="0.311" stop-color="#ef7e1d"/><stop offset="0.429" stop-color="#f2981d"/><stop offset="0.58" stop-color="#f4ab1c"/><stop offset="0.63" stop-color="#f5c01e"/><stop offset="0.681" stop-color="#f5de27"/><stop offset="0.697" stop-color="#f4e82c"/><stop offset="0.824" stop-color="#cfdc60"/><stop offset="0.874" stop-color="#bdd776"/><stop offset="0.941" stop-color="#a6d38e"/><stop offset="0.983" stop-color="#9fd296"/><stop offset="1" stop-color="#9fd296"/></linearGradient>
<linearGradient id="md74"><stop offset="0" stop-color="#f5d524"/><stop offset="0.025" stop-color="#f5d524"/><stop offset="0.076" stop-color="#f4b31c"/><stop offset="0.134" stop-color="#f08b1d"/><stop offset="0.185" stop-color="#ed741e"/><stop offset="0.235" stop-color="#ec6c1e"/><stop offset="0.294" stop-color="#ed721e"/><stop offset="0.437" stop-color="#f1901d"/><stop offset="0.58" stop-color="#f3a71c"/><stop offset="0.639" stop-color="#f5c21f"/><stop offset="0.689" stop-color="#f5e529"/><stop offset="0.706" stop-color="#f1e730"/><stop offset="0.798" stop-color="#d3dd5b"/><stop offset="0.857" stop-color="#bfd874"/><stop offset="0.916" stop-color="#aad48a"/><stop offset="0.975" stop-color="#9cd199"/><stop offset="1" stop-color="#9cd199"/></linearGradient>
<linearGradient id="md75"><stop offset="0" stop-color="#f5cd22"/><stop offset="0.025" stop-color="#f5cd22"/><stop offset="0.067" stop-color="#f4b11c"/><stop offset="0.134" stop-color="#ef821d"/><stop offset="0.185" stop-color="#ec6d1e"/><stop offset="0.235" stop-color="#eb661f"/><stop offset="0.303" stop-color="#ec6c1e"/><stop offset="0.571" stop-color="#f3a21c"/><stop offset="0.613" stop-color="#f4b21c"/><stop offset="0.664" stop-color="#f5d123"/><stop offset="0.689" stop-color="#f5e529"/><stop offset="0.714" stop-color="#ede535"/><stop offset="0.79" stop-color="#d2dd5c"/><stop offset="0.849" stop-color="#bdd776"/><stop offset="0.941" stop-color="#a0d295"/><stop offset="0.983" stop-color="#99d19b"/><stop offset="1" stop-color="#99d19b"/></linearGradient>
<linearGradient id="md76"><stop offset="0" stop-color="#f5c620"/><stop offset="0.025" stop-color="#f5c620"/><stop offset="0.067" stop-color="#f3a81c"/><stop offset="0.143" stop-color="#ed761e"/><stop offset="0.193" stop-color="#eb641f"/><stop offset="0.261" stop-color="#eb611f"/><stop offset="0.345" stop-color="#ec6c1e"/><stop offset="0.538" stop-color="#f1961d"/><stop offset="0.605" stop-color="#f4ac1c"/><stop offset="0.647" stop-color="#f5c520"/><stop offset="0.689" stop-color="#f5e72a"/><stop offset="0.782" stop-color="#d1dd5d"/><stop offset="0.866" stop-color="#b2d582"/><stop offset="0.941" stop-color="#9cd298"/><stop offset="0.992" stop-color="#96d09e"/><stop offset="1" stop-color="#96d09e"/></linearGradient>
<linearGradient id="md77"><stop offset="0" stop-color="#f5bf1e"/><stop offset="0.025" stop-color="#f5bf1e"/><stop offset="0.118" stop-color="#ee7e1e"/><stop offset="0.16" stop-color="#ec671e"/><stop offset="0.21" stop-color="#ea5c1f"/><stop offset="0.294" stop-color="#ea5d1f"/><stop offset="0.487" stop-color="#ef831d"/><stop offset="0.605" stop-color="#f4aa1c"/><stop offset="0.647" stop-color="#f5c420"/><stop offset="0.689" stop-color="#f5e82a"/><stop offset="0.782" stop-color="#cedc61"/><stop offset="0.849" stop-color="#b3d581"/><stop offset="0.924" stop-color="#9cd199"/><stop offset="0.983" stop-color="#93d0a1"/><stop offset="1" stop-color="#93d0a1"/></linearGradient>
<linearGradient id="md78"><stop offset="0" stop-color="#f5ba1c"/><stop offset="0.025" stop-color="#f5ba1c"/><stop offset="0.134" stop-color="#ec6d1e"/><stop offset="0.176" stop-color="#ea5c1f"/><stop offset="0.227" stop-color="#ea551f"/><stop offset="0.303" stop-color="#ea581f"/><stop offset="0.496" stop-color="#ef811d"/><stop offset="0.605" stop-color="#f3a81c"/><stop offset="0.639" stop-color="#f5be1e"/><stop offset="0.689" stop-color="#f4e82b"/><stop offset="0.79" stop-color="#c8da6a"/><stop offset="0.832" stop-color="#b5d57f"/><stop offset="0.916" stop-color="#9ad19b"/><stop offset="0.983" stop-color="#8fcfa5"/><stop offset="1" stop-color="#8fcfa5"/></linearGradient>
<linearGradient id="md79"><stop offset="0" stop-color="#f5b41c"/><stop offset="0.025" stop-color="#f5b41c"/><stop offset="0.134" stop-color="#ec691e"/><stop offset="0.176" stop-color="#ea561f"/><stop offset="0.227" stop-color="#ea4e1e"/><stop offset="0.294" stop-color="#ea501e"/><stop offset="0.496" stop-color="#ee7c1e"/><stop offset="0.597" stop-color="#f3a21c"/><stop offset="0.639" stop-color="#f5bd1d"/><stop offset="0.689" stop-color="#f4e82c"/><stop offset="0.807" stop-color="#bbd778"/><stop offset="0.891" stop-color="#9cd298"/><stop offset="0.983" stop-color="#88cdac"/><stop offset="1" stop-color="#88cdac"/></linearGradient>
<linearGradient id="md80"><stop offset="0" stop-color="#f4ae1c"/><stop offset="0.025" stop-color="#f4ae1c"/><stop offset="0.143" stop-color="#eb601f"/><stop offset="0.193" stop-color="#e94b1e"/><stop offset="0.252" stop-color="#e9441d"/><stop offset="0.311" stop-color="#e94c1e"/><stop offset="0.513" stop-color="#ee7d1e"/><stop offset="0.588" stop-color="#f29b1d"/><stop offset="0.63" stop-color="#f5b61c"/><stop offset="0.672" stop-color="#f5da26"/><stop offset="0.681" stop-color="#f5e429"/><stop offset="0.689" stop-color="#f3e72d"/><stop offset="0.79" stop-color="#c1d872"/><stop offset="0.824" stop-color="#b0d584"/><stop offset="0.891" stop-color="#98d19c"/><stop offset="0.975" stop-color="#80cbb3"/><stop offset="1" stop-color="#80cbb3"/></linearGradient>
<linearGradient id="md81"><stop offset="0" stop-color="#f3a91c"/><stop offset="0.025" stop-color="#f3a91c"/><stop offset="0.151" stop-color="#ea561f"/><stop offset="0.202" stop-color="#e9411d"/><stop offset="0.252" stop-color="#e9391c"/><stop offset="0.294" stop-color="#e9401d"/><stop offset="0.546" stop-color="#ef851d"/><stop offset="0.605" stop-color="#f3a21c"/><stop offset="0.647" stop-color="#f5c21f"/><stop offset="0.681" stop-color="#f5e529"/><stop offset="0.697" stop-color="#eee633"/><stop offset="0.782" stop-color="#c3d970"/><stop offset="0.807" stop-color="#b4d580"/><stop offset="0.874" stop-color="#99d19b"/><stop offset="0.958" stop-color="#7ecab5"/><stop offset="1" stop-color="#7ccab8"/></linearGradient>
<linearGradient id="md82"><stop offset="0" stop-color="#f3a51c"/><stop offset="0.025" stop-color="#f3a51c"/><stop offset="0.168" stop-color="#e9481e"/><stop offset="0.21" stop-color="#e9351c"/><stop offset="0.252" stop-color="#e82d1c"/><stop offset="0.286" stop-color="#e9331c"/><stop offset="0.378" stop-color="#ea531e"/><stop offset="0.555" stop-color="#ef861d"/><stop offset="0.605" stop-color="#f3a11c"/><stop offset="0.647" stop-color="#f5c21f"/><stop offset="0.681" stop-color="#f5e629"/><stop offset="0.773" stop-color="#c6da6c"/><stop offset="0.807" stop-color="#b2d583"/><stop offset="0.866" stop-color="#98d19c"/><stop offset="0.933" stop-color="#7fcbb4"/><stop offset="0.983" stop-color="#78c8bc"/><stop offset="1" stop-color="#78c8bc"/></linearGradient>
<linearGradient id="md83"><stop offset="0" stop-color="#f3a11c"/><stop offset="0.025" stop-color="#f3a11c"/><stop offset="0.168" stop-color="#e9411d"/><stop offset="0.21" stop-color="#e8291b"/><stop offset="0.235" stop-color="#e8261b"/><stop offset="0.286" stop-color="#e8281b"/><stop offset="0.336" stop-color="#e9411d"/><stop offset="0.563" stop-color="#f0881d"/><stop offset="0.613" stop-color="#f3a71c"/><stop offset="0.647" stop-color="#f5c21f"/><stop offset="0.681" stop-color="#f5e82a"/><stop offset="0.773" stop-color="#c3d96f"/><stop offset="0.798" stop-color="#b3d581"/><stop offset="0.857" stop-color="#98d19c"/><stop offset="0.899" stop-color="#86cdae"/><stop offset="0.941" stop-color="#79c8bb"/><stop offset="0.992" stop-color="#73c7c1"/><stop offset="1" stop-color="#73c7c1"/></linearGradient>
<linearGradient id="md84"><stop offset="0" stop-color="#f29e1d"/><stop offset="0.025" stop-color="#f29e1d"/><stop offset="0.16" stop-color="#e9421d"/><stop offset="0.193" stop-color="#e8281b"/><stop offset="0.303" stop-color="#e8271b"/><stop offset="0.345" stop-color="#e93e1d"/><stop offset="0.529" stop-color="#ee7b1e"/><stop offset="0.58" stop-color="#f1921d"/><stop offset="0.63" stop-color="#f5b61c"/><stop offset="0.664" stop-color="#f5d424"/><stop offset="0.681" stop-color="#f5e82b"/><stop offset="0.765" stop-color="#c7da6a"/><stop offset="0.798" stop-color="#b1d583"/><stop offset="0.849" stop-color="#99d19c"/><stop offset="0.891" stop-color="#84ccaf"/><stop offset="0.941" stop-color="#75c7bf"/><stop offset="0.992" stop-color="#70c5c5"/><stop offset="1" stop-color="#70c5c5"/></linearGradient>
<linearGradient id="md85"><stop offset="0" stop-color="#f29b1d"/><stop offset="0.025" stop-color="#f29b1d"/><stop offset="0.151" stop-color="#e9441d"/><stop offset="0.185" stop-color="#e8261b"/><stop offset="0.311" stop-color="#e8261b"/><stop offset="0.37" stop-color="#e9421d"/><stop offset="0.504" stop-color="#ed741e"/><stop offset="0.563" stop-color="#f08a1d"/><stop offset="0.613" stop-color="#f3aa1c"/><stop offset="0.639" stop-color="#f5be1e"/><stop offset="0.681" stop-color="#f4e82b"/><stop offset="0.765" stop-color="#c5da6d"/><stop offset="0.79" stop-color="#b4d580"/><stop offset="0.849" stop-color="#96d09e"/><stop offset="0.882" stop-color="#85ccaf"/><stop offset="0.924" stop-color="#75c7bf"/><stop offset="0.975" stop-color="#6cc4c9"/><stop offset="1" stop-color="#6cc4c9"/></linearGradient>
<linearGradient id="md86"><stop offset="0" stop-color="#f2991d"/><stop offset="0.025" stop-color="#f2991d"/><stop offset="0.126" stop-color="#ea521e"/><stop offset="0.168" stop-color="#e8321c"/><stop offset="0.176" stop-color="#e8291b"/><stop offset="0.193" stop-color="#e8261b"/><stop offset="0.328" stop-color="#e8281b"/><stop offset="0.361" stop-color="#e93a1d"/><stop offset="0.437" stop-color="#ea5a1f"/><stop offset="0.496" stop-color="#ed731e"/><stop offset="0.563" stop-color="#f08c1d"/><stop offset="0.613" stop-color="#f4ac1c"/><stop offset="0.647" stop-color="#f5c720"/><stop offset="0.681" stop-color="#f4e82c"/><stop offset="0.765" stop-color="#c4d96e"/><stop offset="0.79" stop-color="#b3d582"/><stop offset="0.84" stop-color="#98d19d"/><stop offset="0.874" stop-color="#86cdad"/><stop offset="0.908" stop-color="#78c8bc"/><stop offset="0.966" stop-color="#6ac3cb"/><stop offset="1" stop-color="#69c3cc"/></linearGradient>
<linearGradient id="md87"><stop offset="0" stop-color="#f1971d"/><stop offset="0.025" stop-color="#f1971d"/><stop offset="0.109" stop-color="#ea591f"/><stop offset="0.16" stop-color="#e9371c"/><stop offset="0.176" stop-color="#e8261b"/><stop offset="0.328" stop-color="#e8261b"/><stop offset="0.37" stop-color="#e93b1d"/><stop offset="0.429" stop-color="#ea541f"/><stop offset="0.479" stop-color="#ec6e1e"/><stop offset="0.563" stop-color="#f08d1d"/><stop offset="0.613" stop-color="#f4ae1c"/><stop offset="0.655" stop-color="#f5d023"/><stop offset="0.681" stop-color="#f4e82c"/><stop offset="0.739" stop-color="#d1dd5d"/><stop offset="0.79" stop-color="#b2d583"/><stop offset="0.84" stop-color="#97d09e"/><stop offset="0.866" stop-color="#89cdaa"/><stop offset="0.891" stop-color="#7cc9b8"/><stop offset="0.958" stop-color="#69c3cc"/><stop offset="1" stop-color="#66c2ce"/></linearGradient>
<linearGradient id="md88"><stop offset="0" stop-color="#f1961d"/><stop offset="0.025" stop-color="#f1961d"/><stop offset="0.109" stop-color="#ea561f"/><stop offset="0.16" stop-color="#e9361c"/><stop offset="0.176" stop-color="#e8261b"/><stop offset="0.328" stop-color="#e8261b"/><stop offset="0.378" stop-color="#e93c1d"/><stop offset="0.429" stop-color="#ea541f"/><stop offset="0.471" stop-color="#ec6b1e"/><stop offset="0.563" stop-color="#f18f1d"/><stop offset="0.613" stop-color="#f4b01c"/><stop offset="0.664" stop-color="#f5d926"/><stop offset="0.681" stop-color="#f4e82c"/><stop offset="0.739" stop-color="#d1dd5e"/><stop offset="0.79" stop-color="#b1d584"/><stop offset="0.84" stop-color="#96d09f"/><stop offset="0.891" stop-color="#7bc9b9"/><stop offset="0.95" stop-color="#69c3cb"/><stop offset="0.992" stop-color="#65c1cf"/><stop offset="1" stop-color="#65c1cf"/></linearGradient>
<linearGradient id="md89"><stop offset="0" stop-color="#f1951d"/><stop offset="0.025" stop-color="#f1951d"/><stop offset="0.101" stop-color="#ea5a1f"/><stop offset="0.16" stop-color="#e9351c"/><stop offset="0.176" stop-color="#e8261b"/><stop offset="0.328" stop-color="#e8261b"/><stop offset="0.37" stop-color="#e93b1d"/><stop offset="0.429" stop-color="#ea551f"/><stop offset="0.479" stop-color="#ed6e1e"/><stop offset="0.563" stop-color="#f1901d"/><stop offset="0.613" stop-color="#f4b11c"/><stop offset="0.664" stop-color="#f5db26"/><stop offset="0.672" stop-color="#f5e429"/><stop offset="0.681" stop-color="#f3e72d"/><stop offset="0.765" stop-color="#c0d872"/><stop offset="0.807" stop-color="#a6d38f"/><stop offset="0.866" stop-color="#87cdac"/><stop offset="0.899" stop-color="#78c8bc"/><stop offset="0.958" stop-color="#67c2cd"/><stop offset="1" stop-color="#65c1cf"/></linearGradient>
<linearGradient id="md90"><stop offset="0" stop-color="#f1961d"/><stop offset="0.025" stop-color="#f1961d"/><stop offset="0.101" stop-color="#ea591f"/><stop offset="0.16" stop-color="#e9351c"/><stop offset="0.176" stop-color="#e8261b"/><stop offset="0.328" stop-color="#e8261b"/><stop offset="0.353" stop-color="#e9381c"/><stop offset="0.437" stop-color="#ea5b1f"/><stop offset="0.504" stop-color="#ee781e"/><stop offset="0.571" stop-color="#f1951d"/><stop offset="0.63" stop-color="#f5bf1e"/><stop offset="0.664" stop-color="#f5dc27"/><stop offset="0.672" stop-color="#f5e629"/><stop offset="0.697" stop-color="#e9e43b"/><stop offset="0.756" stop-color="#c6da6c"/><stop offset="0.782" stop-color="#b4d580"/><stop offset="0.832" stop-color="#99d19c"/><stop offset="0.866" stop-color="#88cdab"/><stop offset="0.899" stop-color="#78c8bb"/><stop offset="0.958" stop-color="#68c3cc"/><stop offset="1" stop-color="#66c2ce"/></linearGradient>
<linearGradient id="md91"><stop offset="0" stop-color="#f1981d"/><stop offset="0.025" stop-color="#f1981d"/><stop offset="0.092" stop-color="#eb601f"/><stop offset="0.16" stop-color="#e9351c"/><stop offset="0.176" stop-color="#e8261b"/><stop offset="0.319" stop-color="#e8261b"/><stop offset="0.353" stop-color="#e93d1d"/><stop offset="0.529" stop-color="#ef811d"/><stop offset="0.58" stop-color="#f29a1d"/><stop offset="0.63" stop-color="#f5c01e"/><stop offset="0.664" stop-color="#f5de27"/><stop offset="0.672" stop-color="#f5e72a"/><stop offset="0.748" stop-color="#ccdb65"/><stop offset="0.782" stop-color="#b3d581"/><stop offset="0.832" stop-color="#99d19b"/><stop offset="0.866" stop-color="#8aceaa"/><stop offset="0.891" stop-color="#7ccab7"/><stop offset="0.958" stop-color="#6ac3cb"/><stop offset="1" stop-color="#67c2cd"/></linearGradient>
<linearGradient id="md92"><stop offset="0" stop-color="#f29b1d"/><stop offset="0.025" stop-color="#f29b1d"/><stop offset="0.092" stop-color="#eb621f"/><stop offset="0.168" stop-color="#e8301c"/><stop offset="0.185" stop-color="#e8261b"/><stop offset="0.311" stop-color="#e8281b"/><stop offset="0.345" stop-color="#e9401d"/><stop offset="0.412" stop-color="#ea571f"/><stop offset="0.555" stop-color="#f08c1d"/><stop offset="0.597" stop-color="#f3a61c"/><stop offset="0.63" stop-color="#f5c11f"/><stop offset="0.664" stop-color="#f5df27"/><stop offset="0.672" stop-color="#f5e82a"/><stop offset="0.731" stop-color="#d5de58"/><stop offset="0.765" stop-color="#bed875"/><stop offset="0.798" stop-color="#aad48b"/><stop offset="0.849" stop-color="#93d0a1"/><stop offset="0.899" stop-color="#7bc9b8"/><stop offset="0.966" stop-color="#6ac3ca"/><stop offset="1" stop-color="#69c3cb"/></linearGradient>
<linearGradient id="md93"><stop offset="0" stop-color="#f2a11d"/><stop offset="0.025" stop-color="#f2a11d"/><stop offset="0.084" stop-color="#ec6e1e"/><stop offset="0.193" stop-color="#e8261b"/><stop offset="0.286" stop-color="#e8281b"/><stop offset="0.353" stop-color="#e94c1e"/><stop offset="0.521" stop-color="#ef7f1d"/><stop offset="0.571" stop-color="#f1951d"/><stop offset="0.622" stop-color="#f5bc1d"/><stop offset="0.664" stop-color="#f5df27"/><stop offset="0.672" stop-color="#f5e82a"/><stop offset="0.714" stop-color="#dfe14a"/><stop offset="0.756" stop-color="#c4d96e"/><stop offset="0.782" stop-color="#b2d582"/><stop offset="0.832" stop-color="#9bd19a"/><stop offset="0.874" stop-color="#89ceaa"/><stop offset="0.899" stop-color="#7dcab6"/><stop offset="0.975" stop-color="#6bc4ca"/><stop offset="1" stop-color="#6bc4ca"/></linearGradient>
<linearGradient id="md94"><stop offset="0" stop-color="#f3a91c"/><stop offset="0.025" stop-color="#f3a91c"/><stop offset="0.084" stop-color="#ed761e"/><stop offset="0.176" stop-color="#e93b1d"/><stop offset="0.21" stop-color="#e8291b"/><stop offset="0.235" stop-color="#e8281b"/><stop offset="0.277" stop-color="#e93a1d"/><stop offset="0.378" stop-color="#ea5c1f"/><stop offset="0.462" stop-color="#ed6e1e"/><stop offset="0.555" stop-color="#f08c1d"/><stop offset="0.588" stop-color="#f2a01d"/><stop offset="0.622" stop-color="#f5bd1e"/><stop offset="0.672" stop-color="#f5e82a"/><stop offset="0.714" stop-color="#dfe149"/><stop offset="0.756" stop-color="#c4d96f"/><stop offset="0.782" stop-color="#b2d582"/><stop offset="0.832" stop-color="#9cd199"/><stop offset="0.882" stop-color="#88cdac"/><stop offset="0.916" stop-color="#7ac9b9"/><stop offset="0.975" stop-color="#6dc5c7"/><stop offset="1" stop-color="#6dc5c7"/></linearGradient>
<linearGradient id="md95"><stop offset="0" stop-color="#f4b31c"/><stop offset="0.025" stop-color="#f4b31c"/><stop offset="0.076" stop-color="#f0881d"/><stop offset="0.151" stop-color="#ea561f"/><stop offset="0.21" stop-color="#e93b1d"/><stop offset="0.235" stop-color="#e93d1d"/><stop offset="0.277" stop-color="#e94d1e"/><stop offset="0.336" stop-color="#ea5a1f"/><stop offset="0.387" stop-color="#eb651f"/><stop offset="0.454" stop-color="#ed6e1e"/><stop offset="0.555" stop-color="#f08d1d"/><stop offset="0.588" stop-color="#f3a11c"/><stop offset="0.622" stop-color="#f5c01e"/><stop offset="0.672" stop-color="#f5e72a"/><stop offset="0.706" stop-color="#e4e242"/><stop offset="0.756" stop-color="#c3d970"/><stop offset="0.782" stop-color="#b1d583"/><stop offset="0.84" stop-color="#9ad19b"/><stop offset="0.882" stop-color="#8bcea9"/><stop offset="0.916" stop-color="#7ccab7"/><stop offset="0.975" stop-color="#6fc5c5"/><stop offset="1" stop-color="#6fc5c5"/></linearGradient>
<linearGradient id="md96"><stop offset="0" stop-color="#f5bf1e"/><stop offset="0.025" stop-color="#f5bf1e"/><stop offset="0.143" stop-color="#ec6c1e"/><stop offset="0.202" stop-color="#ea531e"/><stop offset="0.235" stop-color="#ea511e"/><stop offset="0.378" stop-color="#ec6c1e"/><stop offset="0.445" stop-color="#ed701e"/><stop offset="0.555" stop-color="#f18f1d"/><stop offset="0.58" stop-color="#f29c1d"/><stop offset="0.613" stop-color="#f5bb1d"/><stop offset="0.647" stop-color="#f5d525"/><stop offset="0.672" stop-color="#f5e72a"/><stop offset="0.706" stop-color="#e4e241"/><stop offset="0.756" stop-color="#c2d971"/><stop offset="0.773" stop-color="#b5d67f"/><stop offset="0.832" stop-color="#9dd298"/><stop offset="0.882" stop-color="#8ecfa6"/><stop offset="0.916" stop-color="#7ecab5"/><stop offset="0.975" stop-color="#71c6c3"/><stop offset="1" stop-color="#71c6c3"/></linearGradient>
<linearGradient id="md97"><stop offset="0" stop-color="#f5cb22"/><stop offset="0.025" stop-color="#f5cb22"/><stop offset="0.076" stop-color="#f4ae1c"/><stop offset="0.118" stop-color="#f18f1d"/><stop offset="0.185" stop-color="#ed6f1e"/><stop offset="0.244" stop-color="#eb641f"/><stop offset="0.328" stop-color="#ec6d1e"/><stop offset="0.378" stop-color="#ed741e"/><stop offset="0.445" stop-color="#ed731e"/><stop offset="0.563" stop-color="#f1961d"/><stop offset="0.588" stop-color="#f3a61c"/><stop offset="0.613" stop-color="#f5be1e"/><stop offset="0.647" stop-color="#f5d725"/><stop offset="0.672" stop-color="#f5e82a"/><stop offset="0.706" stop-color="#e4e242"/><stop offset="0.748" stop-color="#c9da68"/><stop offset="0.773" stop-color="#b5d67f"/><stop offset="0.832" stop-color="#9ed297"/><stop offset="0.891" stop-color="#8bcea9"/><stop offset="0.924" stop-color="#7dcab7"/><stop offset="0.983" stop-color="#72c6c2"/><stop offset="1" stop-color="#72c6c2"/></linearGradient>
<linearGradient id="md98"><stop offset="0" stop-color="#f5d926"/><stop offset="0.025" stop-color="#f5d926"/><stop offset="0.084" stop-color="#f5b91c"/><stop offset="0.126" stop-color="#f29d1d"/><stop offset="0.193" stop-color="#ef831d"/><stop offset="0.261" stop-color="#ed741e"/><stop offset="0.319" stop-color="#ee771e"/><stop offset="0.378" stop-color="#ee7c1e"/><stop offset="0.437" stop-color="#ee771e"/><stop offset="0.479" stop-color="#ef7f1d"/><stop offset="0.563" stop-color="#f29b1d"/><stop offset="0.588" stop-color="#f4ab1c"/><stop offset="0.622" stop-color="#f5c821"/><stop offset="0.664" stop-color="#f5e429"/><stop offset="0.672" stop-color="#f4e82c"/><stop offset="0.706" stop-color="#e3e244"/><stop offset="0.756" stop-color="#c1d872"/><stop offset="0.782" stop-color="#b1d583"/><stop offset="0.849" stop-color="#9ad19b"/><stop offset="0.891" stop-color="#8ccea8"/><stop offset="0.924" stop-color="#7dcab6"/><stop offset="0.983" stop-color="#73c6c2"/><stop offset="1" stop-color="#73c6c2"/></linearGradient>
<linearGradient id="md99"><stop offset="0" stop-color="#f5e82a"/><stop offset="0.025" stop-color="#f5e82a"/><stop offset="0.067" stop-color="#f5d023"/><stop offset="0.126" stop-color="#f4b21c"/><stop offset="0.193" stop-color="#f1981d"/><stop offset="0.269" stop-color="#ef831d"/><stop offset="0.378" stop-color="#ef841d"/><stop offset="0.437" stop-color="#ee7c1e"/><stop offset="0.471" stop-color="#ef811d"/><stop offset="0.563" stop-color="#f3a21c"/><stop offset="0.605" stop-color="#f5be1e"/><stop offset="0.664" stop-color="#f5e82a"/><stop offset="0.697" stop-color="#e6e33f"/><stop offset="0.748" stop-color="#c8da6a"/><stop offset="0.773" stop-color="#b5d67f"/><stop offset="0.84" stop-color="#9cd199"/><stop offset="0.891" stop-color="#8ccea8"/><stop offset="0.924" stop-color="#7dcab6"/><stop offset="0.983" stop-color="#73c6c2"/><stop offset="1" stop-color="#73c6c2"/></linearGradient>
<linearGradient id="md100"><stop offset="0" stop-color="#eee634"/><stop offset="0.034" stop-color="#f0e631"/><stop offset="0.05" stop-color="#f5e82a"/><stop offset="0.176" stop-color="#f4b21c"/><stop offset="0.269" stop-color="#f1951d"/><stop offset="0.387" stop-color="#f08b1d"/><stop offset="0.445" stop-color="#ef831d"/><stop offset="0.479" stop-color="#f08b1d"/><stop offset="0.571" stop-color="#f4af1c"/><stop offset="0.613" stop-color="#f5ca21"/><stop offset="0.655" stop-color="#f5e72a"/><stop offset="0.689" stop-color="#e9e43b"/><stop offset="0.748" stop-color="#c7da6b"/><stop offset="0.773" stop-color="#b5d67f"/><stop offset="0.84" stop-color="#9cd199"/><stop offset="0.891" stop-color="#8ccea8"/><stop offset="0.924" stop-color="#7dcab6"/><stop offset="0.975" stop-color="#73c6c2"/><stop offset="1" stop-color="#73c6c2"/></linearGradient>
<linearGradient id="md101"><stop offset="0" stop-color="#e6e33f"/><stop offset="0.034" stop-color="#e8e43d"/><stop offset="0.076" stop-color="#f0e631"/><stop offset="0.109" stop-color="#f5e629"/><stop offset="0.185" stop-color="#f5c420"/><stop offset="0.227" stop-color="#f5b91c"/><stop offset="0.269" stop-color="#f3aa1c"/><stop offset="0.429" stop-color="#f08d1d"/><stop offset="0.462" stop-color="#f08e1d"/><stop offset="0.58" stop-color="#f5bd1d"/><stop offset="0.647" stop-color="#f5e62a"/><stop offset="0.681" stop-color="#eae439"/><stop offset="0.748" stop-color="#c6da6b"/><stop offset="0.773" stop-color="#b5d67f"/><stop offset="0.849" stop-color="#9ad19b"/><stop offset="0.891" stop-color="#8bcea9"/><stop offset="0.924" stop-color="#7dcab7"/><stop offset="0.975" stop-color="#72c6c2"/><stop offset="1" stop-color="#72c6c2"/></linearGradient>
<linearGradient id="md102"><stop offset="0" stop-color="#dde04d"/><stop offset="0.034" stop-color="#dee04b"/><stop offset="0.16" stop-color="#f5e82a"/><stop offset="0.185" stop-color="#f5dc27"/><stop offset="0.218" stop-color="#f5d725"/><stop offset="0.252" stop-color="#f5c620"/><stop offset="0.345" stop-color="#f4ab1c"/><stop offset="0.378" stop-color="#f29f1d"/><stop offset="0.454" stop-color="#f1981d"/><stop offset="0.563" stop-color="#f5bf1e"/><stop offset="0.622" stop-color="#f5dd27"/><stop offset="0.639" stop-color="#f5e82a"/><stop offset="0.681" stop-color="#e8e43d"/><stop offset="0.748" stop-color="#c6da6c"/><stop offset="0.773" stop-color="#b5d67f"/><stop offset="0.857" stop-color="#97d09e"/><stop offset="0.899" stop-color="#86cdae"/><stop offset="0.941" stop-color="#78c8bc"/><stop offset="0.983" stop-color="#72c6c2"/><stop offset="1" stop-color="#72c6c2"/></linearGradient>
<linearGradient id="md103"><stop offset="0" stop-color="#d3dd5a"/><stop offset="0.059" stop-color="#d6de56"/><stop offset="0.185" stop-color="#ede536"/><stop offset="0.218" stop-color="#efe632"/><stop offset="0.244" stop-color="#f5e62a"/><stop offset="0.37" stop-color="#f4b11c"/><stop offset="0.445" stop-color="#f3a71c"/><stop offset="0.479" stop-color="#f4ae1c"/><stop offset="0.588" stop-color="#f5d524"/><stop offset="0.622" stop-color="#f5e72a"/><stop offset="0.672" stop-color="#e8e43d"/><stop offset="0.739" stop-color="#cbdb66"/><stop offset="0.773" stop-color="#b6d67f"/><stop offset="0.866" stop-color="#94d0a1"/><stop offset="0.916" stop-color="#7ecab5"/><stop offset="0.975" stop-color="#72c6c3"/><stop offset="1" stop-color="#72c6c3"/></linearGradient>
<linearGradient id="md104"><stop offset="0" stop-color="#cadb67"/><stop offset="0.076" stop-color="#cddc63"/><stop offset="0.151" stop-color="#d9df52"/><stop offset="0.202" stop-color="#dde04b"/><stop offset="0.303" stop-color="#f5e82a"/><stop offset="0.361" stop-color="#f5cb21"/><stop offset="0.42" stop-color="#f5b91c"/><stop offset="0.462" stop-color="#f5ba1c"/><stop offset="0.588" stop-color="#f5e028"/><stop offset="0.605" stop-color="#f5e72a"/><stop offset="0.672" stop-color="#e4e242"/><stop offset="0.739" stop-color="#cadb68"/><stop offset="0.773" stop-color="#b6d67f"/><stop offset="0.891" stop-color="#88cdab"/><stop offset="0.924" stop-color="#7cc9b8"/><stop offset="0.975" stop-color="#72c6c2"/><stop offset="1" stop-color="#72c6c2"/></linearGradient>
<linearGradient id="md105"><stop offset="0" stop-color="#bed875"/><stop offset="0.076" stop-color="#bfd874"/><stop offset="0.143" stop-color="#ccdb64"/><stop offset="0.185" stop-color="#ccdb64"/><stop offset="0.261" stop-color="#e1e146"/><stop offset="0.336" stop-color="#f5e82b"/><stop offset="0.387" stop-color="#f5d424"/><stop offset="0.42" stop-color="#f5c821"/><stop offset="0.462" stop-color="#f5c921"/><stop offset="0.58" stop-color="#f5e82a"/><stop offset="0.647" stop-color="#e8e43c"/><stop offset="0.731" stop-color="#cddc63"/><stop offset="0.773" stop-color="#b6d67e"/><stop offset="0.891" stop-color="#87cdac"/><stop offset="0.924" stop-color="#7cc9b8"/><stop offset="0.975" stop-color="#73c6c2"/><stop offset="1" stop-color="#73c6c2"/></linearGradient>
<linearGradient id="md106"><stop offset="0" stop-color="#b4d580"/><stop offset="0.084" stop-color="#b5d67f"/><stop offset="0.151" stop-color="#bed875"/><stop offset="0.185" stop-color="#bfd874"/><stop offset="0.244" stop-color="#d3dd5a"/><stop offset="0.328" stop-color="#ece536"/><stop offset="0.378" stop-color="#f5e629"/><stop offset="0.412" stop-color="#f5d825"/><stop offset="0.445" stop-color="#f5d625"/><stop offset="0.529" stop-color="#f5e82a"/><stop offset="0.613" stop-color="#ece537"/><stop offset="0.697" stop-color="#d7de54"/><stop offset="0.739" stop-color="#c8da69"/><stop offset="0.782" stop-color="#b2d582"/><stop offset="0.866" stop-color="#92d0a2"/><stop offset="0.916" stop-color="#7ecab6"/><stop offset="0.983" stop-color="#75c7c0"/><stop offset="1" stop-color="#75c7c0"/></linearGradient>
<linearGradient id="md107"><stop offset="0" stop-color="#add488"/><stop offset="0.092" stop-color="#aed486"/><stop offset="0.193" stop-color="#b8d67c"/><stop offset="0.277" stop-color="#d8df53"/><stop offset="0.353" stop-color="#ede535"/><stop offset="0.403" stop-color="#f5e72a"/><stop offset="0.437" stop-color="#f5e429"/><stop offset="0.479" stop-color="#f4e82c"/><stop offset="0.613" stop-color="#e8e43c"/><stop offset="0.706" stop-color="#d3dd5a"/><stop offset="0.748" stop-color="#c3d96f"/><stop offset="0.798" stop-color="#abd489"/><stop offset="0.866" stop-color="#91cfa3"/><stop offset="0.916" stop-color="#7ecab5"/><stop offset="0.992" stop-color="#77c8bd"/><stop offset="1" stop-color="#77c8bd"/></linearGradient>
<linearGradient id="md108"><stop offset="0" stop-color="#a6d38f"/><stop offset="0.101" stop-color="#a9d48c"/><stop offset="0.193" stop-color="#b2d582"/><stop offset="0.244" stop-color="#c4d96e"/><stop offset="0.294" stop-color="#d7de54"/><stop offset="0.37" stop-color="#ece536"/><stop offset="0.412" stop-color="#f2e72e"/><stop offset="0.605" stop-color="#e6e340"/><stop offset="0.697" stop-color="#d4de59"/><stop offset="0.739" stop-color="#c7da6a"/><stop offset="0.815" stop-color="#a3d392"/><stop offset="0.908" stop-color="#80cbb3"/><stop offset="1" stop-color="#7ac9ba"/></linearGradient>
<linearGradient id="md109"><stop offset="0" stop-color="#a1d294"/><stop offset="0.101" stop-color="#a4d391"/><stop offset="0.193" stop-color="#acd488"/><stop offset="0.244" stop-color="#bcd778"/><stop offset="0.286" stop-color="#cfdc60"/><stop offset="0.387" stop-color="#ece536"/><stop offset="0.42" stop-color="#eee634"/><stop offset="0.529" stop-color="#e7e33e"/><stop offset="0.622" stop-color="#e0e148"/><stop offset="0.714" stop-color="#cfdc61"/><stop offset="0.756" stop-color="#bfd874"/><stop offset="0.832" stop-color="#9bd19a"/><stop offset="0.908" stop-color="#80cbb3"/><stop offset="1" stop-color="#7ccab7"/></linearGradient>
<linearGradient id="md110"><stop offset="0" stop-color="#9cd199"/><stop offset="0.126" stop-color="#a2d293"/><stop offset="0.21" stop-color="#aad48b"/><stop offset="0.261" stop-color="#bbd778"/><stop offset="0.311" stop-color="#d1dd5d"/><stop offset="0.395" stop-color="#eae439"/><stop offset="0.429" stop-color="#e9e43b"/><stop offset="0.487" stop-color="#e4e243"/><stop offset="0.613" stop-color="#dde04c"/><stop offset="0.706" stop-color="#cfdc60"/><stop offset="0.756" stop-color="#bed875"/><stop offset="0.832" stop-color="#9ad19b"/><stop offset="0.908" stop-color="#80cbb3"/><stop offset="1" stop-color="#7fcbb4"/></linearGradient>
<linearGradient id="md111"><stop offset="0" stop-color="#98d19c"/><stop offset="0.193" stop-color="#a2d293"/><stop offset="0.244" stop-color="#aed486"/><stop offset="0.277" stop-color="#bcd778"/><stop offset="0.328" stop-color="#d1dd5d"/><stop offset="0.395" stop-color="#e6e340"/><stop offset="0.429" stop-color="#e4e242"/><stop offset="0.487" stop-color="#dfe149"/><stop offset="0.622" stop-color="#d9df51"/><stop offset="0.714" stop-color="#ccdb65"/><stop offset="0.782" stop-color="#b1d583"/><stop offset="0.832" stop-color="#9ad19b"/><stop offset="0.916" stop-color="#81cbb3"/><stop offset="1" stop-color="#81cbb3"/></linearGradient>
<linearGradient id="md112"><stop offset="0" stop-color="#97d09e"/><stop offset="0.202" stop-color="#a1d294"/><stop offset="0.269" stop-color="#b5d67f"/><stop offset="0.328" stop-color="#cfdc60"/><stop offset="0.395" stop-color="#e3e244"/><stop offset="0.429" stop-color="#e2e245"/><stop offset="0.487" stop-color="#dde04c"/><stop offset="0.622" stop-color="#d8df53"/><stop offset="0.714" stop-color="#cbdb67"/><stop offset="0.79" stop-color="#acd488"/><stop offset="0.832" stop-color="#9ad19b"/><stop offset="0.916" stop-color="#81cbb2"/><stop offset="1" stop-color="#81cbb2"/></linearGradient>
<linearGradient id="md113"><stop offset="0" stop-color="#97d09e"/><stop offset="0.202" stop-color="#a1d294"/><stop offset="0.269" stop-color="#b5d67f"/><stop offset="0.328" stop-color="#cfdc60"/><stop offset="0.395" stop-color="#e3e244"/><stop offset="0.429" stop-color="#e2e245"/><stop offset="0.487" stop-color="#dde04c"/><stop offset="0.622" stop-color="#d8df53"/><stop offset="0.714" stop-color="#cbdb67"/><stop offset="0.79" stop-color="#acd488"/><stop offset="0.832" stop-color="#9ad19b"/><stop offset="0.916" stop-color="#81cbb2"/><stop offset="1" stop-color="#81cbb2"/></linearGradient>
<linearGradient id="md114"><stop offset="0" stop-color="#97d09e"/><stop offset="0.202" stop-color="#a1d294"/><stop offset="0.269" stop-color="#b5d67f"/><stop offset="0.328" stop-color="#cfdc60"/><stop offset="0.395" stop-color="#e3e244"/><stop offset="0.429" stop-color="#e2e245"/><stop offset="0.487" stop-color="#dde04c"/><stop offset="0.622" stop-color="#d8df53"/><stop offset="0.714" stop-color="#cbdb67"/><stop offset="0.79" stop-color="#acd488"/><stop offset="0.832" stop-color="#9ad19b"/><stop offset="0.916" stop-color="#81cbb2"/><stop offset="1" stop-color="#81cbb2"/></linearGradient>
<linearGradient id="md115"><stop offset="0" stop-color="#97d09e"/><stop offset="0.202" stop-color="#a1d294"/><stop offset="0.269" stop-color="#b5d67f"/><stop offset="0.328" stop-color="#cfdc60"/><stop offset="0.395" stop-color="#e3e244"/><stop offset="0.429" stop-color="#e2e245"/><stop offset="0.487" stop-color="#dde04c"/><stop offset="0.622" stop-color="#d8df53"/><stop offset="0.714" stop-color="#cbdb67"/><stop offset="0.79" stop-color="#acd488"/><stop offset="0.832" stop-color="#9ad19b"/><stop offset="0.916" stop-color="#81cbb2"/><stop offset="1" stop-color="#81cbb2"/></linearGradient>
</defs>
<g clip-path="url(#clipmd)"><g filter="url(#blmd)">
<rect x="1234.1" y="60.8" width="476.8" height="6.6" fill="url(#md0)"/>
<rect x="1234.1" y="66.8" width="476.8" height="6.6" fill="url(#md1)"/>
<rect x="1234.1" y="72.8" width="476.8" height="6.6" fill="url(#md2)"/>
<rect x="1234.1" y="78.8" width="476.8" height="6.6" fill="url(#md3)"/>
<rect x="1234.1" y="84.8" width="476.8" height="6.6" fill="url(#md4)"/>
<rect x="1234.1" y="90.8" width="476.8" height="6.6" fill="url(#md5)"/>
<rect x="1234.1" y="96.8" width="476.8" height="6.6" fill="url(#md6)"/>
<rect x="1234.1" y="102.8" width="476.8" height="6.6" fill="url(#md7)"/>
<rect x="1234.1" y="108.8" width="476.8" height="6.6" fill="url(#md8)"/>
<rect x="1234.1" y="114.8" width="476.8" height="6.6" fill="url(#md9)"/>
<rect x="1234.1" y="120.8" width="476.8" height="6.6" fill="url(#md10)"/>
<rect x="1234.1" y="126.8" width="476.8" height="6.6" fill="url(#md11)"/>
<rect x="1234.1" y="132.8" width="476.8" height="6.6" fill="url(#md12)"/>
<rect x="1234.1" y="138.8" width="476.8" height="6.6" fill="url(#md13)"/>
<rect x="1234.1" y="144.8" width="476.8" height="6.6" fill="url(#md14)"/>
<rect x="1234.1" y="150.8" width="476.8" height="6.6" fill="url(#md15)"/>
<rect x="1234.1" y="156.8" width="476.8" height="6.6" fill="url(#md16)"/>
<rect x="1234.1" y="162.8" width="476.8" height="6.6" fill="url(#md17)"/>
<rect x="1234.1" y="168.8" width="476.8" height="6.6" fill="url(#md18)"/>
<rect x="1234.1" y="174.8" width="476.8" height="6.6" fill="url(#md19)"/>
<rect x="1234.1" y="180.8" width="476.8" height="6.6" fill="url(#md20)"/>
<rect x="1234.1" y="186.8" width="476.8" height="6.6" fill="url(#md21)"/>
<rect x="1234.1" y="192.8" width="476.8" height="6.6" fill="url(#md22)"/>
<rect x="1234.1" y="198.8" width="476.8" height="6.6" fill="url(#md23)"/>
<rect x="1234.1" y="204.8" width="476.8" height="6.6" fill="url(#md24)"/>
<rect x="1234.1" y="210.8" width="476.8" height="6.6" fill="url(#md25)"/>
<rect x="1234.1" y="216.8" width="476.8" height="6.6" fill="url(#md26)"/>
<rect x="1234.1" y="222.8" width="476.8" height="6.6" fill="url(#md27)"/>
<rect x="1234.1" y="228.8" width="476.8" height="6.6" fill="url(#md28)"/>
<rect x="1234.1" y="234.8" width="476.8" height="6.6" fill="url(#md29)"/>
<rect x="1234.1" y="240.8" width="476.8" height="6.6" fill="url(#md30)"/>
<rect x="1234.1" y="246.8" width="476.8" height="6.6" fill="url(#md31)"/>
<rect x="1234.1" y="252.8" width="476.8" height="6.6" fill="url(#md32)"/>
<rect x="1234.1" y="258.8" width="476.8" height="6.6" fill="url(#md33)"/>
<rect x="1234.1" y="264.8" width="476.8" height="6.6" fill="url(#md34)"/>
<rect x="1234.1" y="270.8" width="476.8" height="6.6" fill="url(#md35)"/>
<rect x="1234.1" y="276.8" width="476.8" height="6.6" fill="url(#md36)"/>
<rect x="1234.1" y="282.8" width="476.8" height="6.6" fill="url(#md37)"/>
<rect x="1234.1" y="288.8" width="476.8" height="6.6" fill="url(#md38)"/>
<rect x="1234.1" y="294.8" width="476.8" height="6.6" fill="url(#md39)"/>
<rect x="1234.1" y="300.8" width="476.8" height="6.6" fill="url(#md40)"/>
<rect x="1234.1" y="306.8" width="476.8" height="6.6" fill="url(#md41)"/>
<rect x="1234.1" y="312.8" width="476.8" height="6.6" fill="url(#md42)"/>
<rect x="1234.1" y="318.8" width="476.8" height="6.6" fill="url(#md43)"/>
<rect x="1234.1" y="324.8" width="476.8" height="6.6" fill="url(#md44)"/>
<rect x="1234.1" y="330.8" width="476.8" height="6.6" fill="url(#md45)"/>
<rect x="1234.1" y="336.8" width="476.8" height="6.6" fill="url(#md46)"/>
<rect x="1234.1" y="342.8" width="476.8" height="6.6" fill="url(#md47)"/>
<rect x="1234.1" y="348.8" width="476.8" height="6.6" fill="url(#md48)"/>
<rect x="1234.1" y="354.8" width="476.8" height="6.6" fill="url(#md49)"/>
<rect x="1234.1" y="360.8" width="476.8" height="6.6" fill="url(#md50)"/>
<rect x="1234.1" y="366.8" width="476.8" height="6.6" fill="url(#md51)"/>
<rect x="1234.1" y="372.8" width="476.8" height="6.6" fill="url(#md52)"/>
<rect x="1234.1" y="378.8" width="476.8" height="6.6" fill="url(#md53)"/>
<rect x="1234.1" y="384.8" width="476.8" height="6.6" fill="url(#md54)"/>
<rect x="1234.1" y="390.8" width="476.8" height="6.6" fill="url(#md55)"/>
<rect x="1234.1" y="396.8" width="476.8" height="6.6" fill="url(#md56)"/>
<rect x="1234.1" y="402.8" width="476.8" height="6.6" fill="url(#md57)"/>
<rect x="1234.1" y="408.8" width="476.8" height="6.6" fill="url(#md58)"/>
<rect x="1234.1" y="414.8" width="476.8" height="6.6" fill="url(#md59)"/>
<rect x="1234.1" y="420.8" width="476.8" height="6.6" fill="url(#md60)"/>
<rect x="1234.1" y="426.8" width="476.8" height="6.6" fill="url(#md61)"/>
<rect x="1234.1" y="432.8" width="476.8" height="6.6" fill="url(#md62)"/>
<rect x="1234.1" y="438.8" width="476.8" height="6.6" fill="url(#md63)"/>
<rect x="1234.1" y="444.8" width="476.8" height="6.6" fill="url(#md64)"/>
<rect x="1234.1" y="450.8" width="476.8" height="6.6" fill="url(#md65)"/>
<rect x="1234.1" y="456.8" width="476.8" height="6.6" fill="url(#md66)"/>
<rect x="1234.1" y="462.8" width="476.8" height="6.6" fill="url(#md67)"/>
<rect x="1234.1" y="468.8" width="476.8" height="6.6" fill="url(#md68)"/>
<rect x="1234.1" y="474.8" width="476.8" height="6.6" fill="url(#md69)"/>
<rect x="1234.1" y="480.8" width="476.8" height="6.6" fill="url(#md70)"/>
<rect x="1234.1" y="486.8" width="476.8" height="6.6" fill="url(#md71)"/>
<rect x="1234.1" y="492.8" width="476.8" height="6.6" fill="url(#md72)"/>
<rect x="1234.1" y="498.8" width="476.8" height="6.6" fill="url(#md73)"/>
<rect x="1234.1" y="504.8" width="476.8" height="6.6" fill="url(#md74)"/>
<rect x="1234.1" y="510.8" width="476.8" height="6.6" fill="url(#md75)"/>
<rect x="1234.1" y="516.8" width="476.8" height="6.6" fill="url(#md76)"/>
<rect x="1234.1" y="522.8" width="476.8" height="6.6" fill="url(#md77)"/>
<rect x="1234.1" y="528.8" width="476.8" height="6.6" fill="url(#md78)"/>
<rect x="1234.1" y="534.8" width="476.8" height="6.6" fill="url(#md79)"/>
<rect x="1234.1" y="540.8" width="476.8" height="6.6" fill="url(#md80)"/>
<rect x="1234.1" y="546.8" width="476.8" height="6.6" fill="url(#md81)"/>
<rect x="1234.1" y="552.8" width="476.8" height="6.6" fill="url(#md82)"/>
<rect x="1234.1" y="558.8" width="476.8" height="6.6" fill="url(#md83)"/>
<rect x="1234.1" y="564.8" width="476.8" height="6.6" fill="url(#md84)"/>
<rect x="1234.1" y="570.8" width="476.8" height="6.6" fill="url(#md85)"/>
<rect x="1234.1" y="576.8" width="476.8" height="6.6" fill="url(#md86)"/>
<rect x="1234.1" y="582.8" width="476.8" height="6.6" fill="url(#md87)"/>
<rect x="1234.1" y="588.8" width="476.8" height="6.6" fill="url(#md88)"/>
<rect x="1234.1" y="594.8" width="476.8" height="6.6" fill="url(#md89)"/>
<rect x="1234.1" y="600.8" width="476.8" height="6.6" fill="url(#md90)"/>
<rect x="1234.1" y="606.8" width="476.8" height="6.6" fill="url(#md91)"/>
<rect x="1234.1" y="612.8" width="476.8" height="6.6" fill="url(#md92)"/>
<rect x="1234.1" y="618.8" width="476.8" height="6.6" fill="url(#md93)"/>
<rect x="1234.1" y="624.8" width="476.8" height="6.6" fill="url(#md94)"/>
<rect x="1234.1" y="630.8" width="476.8" height="6.6" fill="url(#md95)"/>
<rect x="1234.1" y="636.8" width="476.8" height="6.6" fill="url(#md96)"/>
<rect x="1234.1" y="642.8" width="476.8" height="6.6" fill="url(#md97)"/>
<rect x="1234.1" y="648.8" width="476.8" height="6.6" fill="url(#md98)"/>
<rect x="1234.1" y="654.8" width="476.8" height="6.6" fill="url(#md99)"/>
<rect x="1234.1" y="660.8" width="476.8" height="6.6" fill="url(#md100)"/>
<rect x="1234.1" y="666.8" width="476.8" height="6.6" fill="url(#md101)"/>
<rect x="1234.1" y="672.8" width="476.8" height="6.6" fill="url(#md102)"/>
<rect x="1234.1" y="678.8" width="476.8" height="6.6" fill="url(#md103)"/>
<rect x="1234.1" y="684.8" width="476.8" height="6.6" fill="url(#md104)"/>
<rect x="1234.1" y="690.8" width="476.8" height="6.6" fill="url(#md105)"/>
<rect x="1234.1" y="696.8" width="476.8" height="6.6" fill="url(#md106)"/>
<rect x="1234.1" y="702.8" width="476.8" height="6.6" fill="url(#md107)"/>
<rect x="1234.1" y="708.8" width="476.8" height="6.6" fill="url(#md108)"/>
<rect x="1234.1" y="714.8" width="476.8" height="6.6" fill="url(#md109)"/>
<rect x="1234.1" y="720.8" width="476.8" height="6.6" fill="url(#md110)"/>
<rect x="1234.1" y="726.8" width="476.8" height="6.6" fill="url(#md111)"/>
<rect x="1234.1" y="732.8" width="476.8" height="6.6" fill="url(#md112)"/>
<rect x="1234.1" y="738.8" width="476.8" height="6.6" fill="url(#md113)"/>
<rect x="1234.1" y="744.8" width="476.8" height="6.6" fill="url(#md114)"/>
<rect x="1234.1" y="750.8" width="476.8" height="6.6" fill="url(#md115)"/>
</g></g>
<g clip-path="url(#clipmd)">
<path d="M1289.2 70 1294.2 70 1300.7 96 1297.2 96Z" fill="#5cc0ee" opacity="0.5"/>
<path d="M1244.2 196 1250.1 196.9 1259.4 201.2 1267.9 207.1 1269.6 212.2 1274.7 218.1 1269.6 220.6 1265.4 225.7 1265.4 229.9 1269.6 230.8 1273.8 239.3 1276.5 247 1278.5 252.8 1269.6 249.6 1270.4 257.2 1279 255.2 1279.8 264.6 1286.5 274.8 1295 286.7 1298.4 296 1306.8 301 1321.2 302.2 1328.8 307 1337.3 312.5 1347.5 320.3 1355.9 323.7 1360.2 329.6 1361 340.6 1363.6 350.8 1364.7 366 1361 375.3 1357.6 377.9 1366.1 379.6 1370.3 382.1 1377.9 381.3 1383 384.6 1391.5 385.5 1397.4 390.6 1402.5 394.8 1398.3 398.2 1404.2 400.6 1409.5 400.6 1414.1 402.8 1419.4 402.8 1423.2 405.9 1425.9 410.5 1426.3 414.3 1423.2 416.6 1417.1 418.8 1414.9 421.1 1414.1 424.9 1427 421.1 1438.5 417.3 1449.9 412 1457.5 409.7 1465.1 405.1 1470.5 400.6 1474.3 395.2 1476 393.3 1478.1 395.2 1478.5 399.8 1480.4 403.6 1481.1 408.9 1480.4 414.3 1479.2 418.1 1477.3 421.1 1474.3 423.8 1471.6 424.6 1472.7 423 1475.8 420.4 1477.3 417.3 1477.7 414.3 1476.6 412.4 1473.5 411.6 1470.5 412.8 1468.9 414.7 1468.9 415.8 1465.1 418.1 1459 421.1 1453.7 422.7 1446.9 424.6 1437.7 426.3 1440.8 428.7 1442.3 432.2 1450.7 438.9 1454.1 447.4 1462.6 449.9 1464.2 448.2 1462.6 454.2 1471 460.9 1479.5 467.7 1486.3 476.2 1493.1 483 1496.4 493.1 1504.9 503.3 1498.1 511.7 1493.1 516 1484.6 508.3 1471 507.5 1469.4 504.1 1460.9 496.5 1447.3 488 1430.4 483 1418.6 481.3 1413.5 484.6 1411.8 479.6 1406.7 483.8 1393.2 484.6 1381.3 483 1378.8 468.6 1369.5 471.1 1359.3 474.5 1345.8 477 1336.5 478.7 1325.5 481.3 1318.7 488 1311.9 496.5 1303.5 505 1295 511.7 1286.5 516.8 1281.4 525.3 1279.8 530.2 1275.5 542 1269.6 552.2 1262.8 564 1257.7 575.9 1251.8 584.3 1254.4 594.5 1256.9 609.7 1257.7 621.6 1260.7 634 1261.6 638.4 1258.9 646.8 1261 655.1 1258.2 664.9 1254 676.1 1257.5 683 1261.6 690 1261 697 1255.4 702.6 1266.5 706.1 1261 710.3 1256.1 709.6 1258.2 716.5 1262.3 722.1 1265.1 726.3 1269.3 729.8 1270.2 735 1244.2 735Z" fill="#fbe5bd" stroke="#2a2620" stroke-width="0.9" stroke-linejoin="round"/>
<path d="M1249.2 238.5 1253.2 237.6 1257.7 240.5 1256.2 245 1252.2 247.7 1249.2 247.5Z" fill="#8ccdee"/>
<path d="M1249.2 553 1257.7 553 1252.7 566.5 1249.2 566.5Z" fill="#8ccdee"/>
<path d="M1249.2 686.5 1255.4 688 1253.7 699.8 1249.2 699.8Z" fill="#8ccdee"/>
<path d="M1249.2 414.3 1264.2 411.5 1286.2 408.5 1299.2 409.3 1311.9 411 1324.2 414.5 1337.2 418.6 1350.2 423.5 1362.7 428 1376.2 433.9 1388.2 437" fill="none" stroke="#8ccdee" stroke-width="2.4" stroke-linecap="round" stroke-linejoin="round"/>
<path d="M1394.9 431.3 1404.2 429.7 1413.5 428 1422.2 425.5 1430.4 422.9 1439.2 419.5 1447.2 415.5" fill="none" stroke="#8ccdee" stroke-width="2.2" stroke-linecap="round" stroke-linejoin="round"/>
<path d="M1439.7 394 1441.7 400 1444.2 405 1447.2 410.5 1448.7 414" fill="none" stroke="#9ad6f0" stroke-width="1.5" stroke-linecap="round" stroke-linejoin="round"/>
<path d="M1457.2 394.5 1454.7 400 1451.7 405 1449.7 410 1448.7 414" fill="none" stroke="#9ad6f0" stroke-width="1.5" stroke-linecap="round" stroke-linejoin="round"/>
<path d="M1442.2 401 1445.7 406 1450.2 409.5" fill="none" stroke="#9ad6f0" stroke-width="1" stroke-linecap="round" stroke-linejoin="round"/>
<path d="M1453.7 402 1452.2 407 1448.2 410.5" fill="none" stroke="#9ad6f0" stroke-width="1" stroke-linecap="round" stroke-linejoin="round"/>
<path d="M1249.8 705.4 1261.2 702.5 1273.5 699.3" fill="none" stroke="#cfe8f5" stroke-width="1" stroke-linecap="round" stroke-linejoin="round"/>
<path d="M1418.2 447.2 1421.2 447.4 1434.2 456.5 1449.2 468 1462.2 480 1474.2 492.5 1485.7 502 1483.2 505.5 1480.2 506 1470.2 497.5 1458.2 485 1445.2 472 1431.2 459.5 1419.7 450.5Z" fill="#8ccdee"/>
<path d="M1435.5 388.2 1439 387.2 1441 392 1441.7 397.5 1439.2 397.8 1437.8 393.2Z" fill="#8ccdee"/>
<path d="M1457.5 388.8 1462 389.6 1459.5 394.2 1457 398.3 1454.8 397.5 1455.9 392.8Z" fill="#8ccdee"/>
<path d="M1430.2 423.3 1439.2 419.3 1446.7 415 1450.2 412.2 1451 415.2 1447.2 418.7 1439.7 421.5 1430.7 424.6Z" fill="#8ccdee"/>
</g>
<text transform="translate(1330.8 444.4) scale(1.020 1)" font-size="19.8" font-weight="bold" font-style="italic" font-family='"Liberation Serif","DejaVu Serif",serif' text-anchor="start" fill="#000">Yellow river</text>
<g fill="#000">
<circle cx="1322.9" cy="692.5" r="4.4"/>
<circle cx="1328.5" cy="623.3" r="4.4"/>
<circle cx="1353" cy="571.6" r="4.4"/>
<circle cx="1550.8" cy="524.4" r="4.4"/>
<circle cx="1431.3" cy="364.7" r="4.4"/>
<circle cx="1337.8" cy="297.1" r="4.4"/>
<circle cx="1406.9" cy="248.6" r="4.4"/>
<circle cx="1462.2" cy="278.2" r="4.4"/>
<circle cx="1581.2" cy="288" r="4.4"/>
<circle cx="1638.4" cy="406.8" r="4.4"/>
<circle cx="1642.2" cy="459.3" r="4.4"/>
<circle cx="1636.7" cy="588.9" r="4.4"/>
<circle cx="1537.4" cy="644.4" r="4.4"/>
</g>
<g font-family='"Liberation Serif","DejaVu Serif",serif'>
<text transform="translate(1328.2 684.5) scale(0.970 1)" font-size="13.2" font-weight="bold" text-anchor="start" fill="#000">A1</text>
<text transform="translate(1333.8 615.3) scale(0.970 1)" font-size="13.2" font-weight="bold" text-anchor="start" fill="#000">A2</text>
<text transform="translate(1358.3 563.6) scale(0.970 1)" font-size="13.2" font-weight="bold" text-anchor="start" fill="#000">A3</text>
<text transform="translate(1556.1 516.4) scale(0.970 1)" font-size="13.2" font-weight="bold" text-anchor="start" fill="#000">B1</text>
<text transform="translate(1436.6 356.7) scale(0.970 1)" font-size="13.2" font-weight="bold" text-anchor="start" fill="#000">B2</text>
<text transform="translate(1343.1 289.1) scale(0.970 1)" font-size="13.2" font-weight="bold" text-anchor="start" fill="#000">B3</text>
<text transform="translate(1412.2 240.6) scale(0.970 1)" font-size="13.2" font-weight="bold" text-anchor="start" fill="#000">C1</text>
<text transform="translate(1467.5 270.2) scale(0.970 1)" font-size="13.2" font-weight="bold" text-anchor="start" fill="#000">C2</text>
<text transform="translate(1586.5 280) scale(0.970 1)" font-size="13.2" font-weight="bold" text-anchor="start" fill="#000">C3</text>
<text transform="translate(1643.7 398.8) scale(0.970 1)" font-size="13.2" font-weight="bold" text-anchor="start" fill="#000">D1</text>
<text transform="translate(1647.5 451.3) scale(0.970 1)" font-size="13.2" font-weight="bold" text-anchor="start" fill="#000">D2</text>
<text transform="translate(1642 580.9) scale(0.970 1)" font-size="13.2" font-weight="bold" text-anchor="start" fill="#000">D3</text>
<text transform="translate(1542.7 636.4) scale(0.970 1)" font-size="13.2" font-weight="bold" text-anchor="start" fill="#000">D4</text>
</g>
<g fill="#000">
<rect x="1331.8" y="107" width="15.05" height="7.3"/>
<rect x="1361.9" y="107" width="15.05" height="7.3"/>
<rect x="1392" y="107" width="60.2" height="7.3"/>
<rect x="1512.4" y="107" width="60.2" height="7.3"/>
<rect x="1332.2" y="107.45" width="240" height="6.4" fill="none" stroke="#000" stroke-width="0.9"/>
</g>
<g font-family='"Liberation Serif","DejaVu Serif",serif'>
<text transform="translate(1331.4 129.7) scale(0.970 1)" font-size="14.2" font-weight="bold" text-anchor="middle" fill="#000">0</text>
<text transform="translate(1361.5 129.7) scale(0.970 1)" font-size="14.2" font-weight="bold" text-anchor="middle" fill="#000">5</text>
<text transform="translate(1391.6 129.7) scale(0.970 1)" font-size="14.2" font-weight="bold" text-anchor="middle" fill="#000">10</text>
<text transform="translate(1451.8 129.7) scale(0.970 1)" font-size="14.2" font-weight="bold" text-anchor="middle" fill="#000">20</text>
<text transform="translate(1512 129.7) scale(0.970 1)" font-size="14.2" font-weight="bold" text-anchor="middle" fill="#000">30</text>
<text transform="translate(1572.2 129.7) scale(0.970 1)" font-size="14.2" font-weight="bold" text-anchor="middle" fill="#000">40</text>
<text transform="translate(1576.4 113.7) scale(0.970 1)" font-size="14.2" font-weight="bold" text-anchor="start" fill="#000">Km</text>
</g>
<text x="1672.9" y="97" font-size="16.8" font-weight="normal" font-family='"Liberation Sans","DejaVu Sans",sans-serif' text-anchor="middle" fill="#111">N</text>
<path d="M1672.5 101.3L1661.5 137.6L1672.5 124Z" fill="#000"/>
<path d="M1672.5 102.3L1682.9 136.8L1672.5 124Z" fill="none" stroke="#000" stroke-width="1" stroke-linejoin="miter"/>
<rect x="1249.1" y="75.8" width="446.8" height="654.7" fill="none" stroke="#1c1c1c" stroke-width="1.7"/>
<path d="M1300.1 75.8V70.6M1300.1 730.5V735.7M1411.17 75.8V70.6M1411.17 730.5V735.7M1522.23 75.8V70.6M1522.23 730.5V735.7M1633.3 75.8V70.6M1633.3 730.5V735.7" stroke="#1c1c1c" stroke-width="1.3" fill="none"/>
<g font-family='"Liberation Serif","DejaVu Serif",serif'>
<text transform="translate(1300.1 68.1) scale(0.955 1)" font-size="15.8" font-weight="bold" text-anchor="middle" fill="#000">119°0'0"E</text>
<text transform="translate(1300.1 749.5) scale(0.955 1)" font-size="15.8" font-weight="bold" text-anchor="middle" fill="#000">119°0'0"E</text>
<text transform="translate(1411.17 68.1) scale(0.955 1)" font-size="15.8" font-weight="bold" text-anchor="middle" fill="#000">119°10'0"E</text>
<text transform="translate(1411.17 749.5) scale(0.955 1)" font-size="15.8" font-weight="bold" text-anchor="middle" fill="#000">119°10'0"E</text>
<text transform="translate(1522.23 68.1) scale(0.955 1)" font-size="15.8" font-weight="bold" text-anchor="middle" fill="#000">119°20'0"E</text>
<text transform="translate(1522.23 749.5) scale(0.955 1)" font-size="15.8" font-weight="bold" text-anchor="middle" fill="#000">119°20'0"E</text>
<text transform="translate(1633.3 68.1) scale(0.955 1)" font-size="15.8" font-weight="bold" text-anchor="middle" fill="#000">119°30'0"E</text>
<text transform="translate(1633.3 749.5) scale(0.955 1)" font-size="15.8" font-weight="bold" text-anchor="middle" fill="#000">119°30'0"E</text>
<text x="1467.4" y="786.2" font-size="30.7" font-weight="bold" text-anchor="middle" fill="#000">RI</text>
</g>
<rect x="1717.3" y="215.3" width="26.7" height="428.9" fill="url(#cbarmd)"/>
<path d="M1744 215.7H1746.8M1744 260.1H1746.8M1744 302.5H1746.8M1744 346.5H1746.8M1744 389.3H1746.8M1744 431.9H1746.8M1744 474.5H1746.8M1744 517.7H1746.8M1744 560.1H1746.8M1744 603.3H1746.8" stroke="#222" stroke-width="0.9" fill="none"/>
<g font-family='"Liberation Serif","DejaVu Serif",serif'>
<text transform="translate(1749.4 221.5) scale(1.010 1)" font-size="14.8" font-weight="bold" text-anchor="start" fill="#000">311</text>
<text transform="translate(1749.4 265.9) scale(1.010 1)" font-size="14.8" font-weight="bold" text-anchor="start" fill="#000">300</text>
<text transform="translate(1749.4 308.3) scale(1.010 1)" font-size="14.8" font-weight="bold" text-anchor="start" fill="#000">290</text>
<text transform="translate(1749.4 352.3) scale(1.010 1)" font-size="14.8" font-weight="bold" text-anchor="start" fill="#000">279</text>
<text transform="translate(1749.4 395.1) scale(1.010 1)" font-size="14.8" font-weight="bold" text-anchor="start" fill="#000">268</text>
<text transform="translate(1749.4 437.7) scale(1.010 1)" font-size="14.8" font-weight="bold" text-anchor="start" fill="#000">258</text>
<text transform="translate(1749.4 480.3) scale(1.010 1)" font-size="14.8" font-weight="bold" text-anchor="start" fill="#000">247</text>
<text transform="translate(1749.4 523.5) scale(1.010 1)" font-size="14.8" font-weight="bold" text-anchor="start" fill="#000">236</text>
<text transform="translate(1749.4 565.9) scale(1.010 1)" font-size="14.8" font-weight="bold" text-anchor="start" fill="#000">226</text>
<text transform="translate(1749.4 609.1) scale(1.010 1)" font-size="14.8" font-weight="bold" text-anchor="start" fill="#000">215</text>
<text transform="translate(1749.4 650.1) scale(1.010 1)" font-size="14.8" font-weight="bold" text-anchor="start" fill="#000">205</text>
</g>
</svg>
</body></html>
